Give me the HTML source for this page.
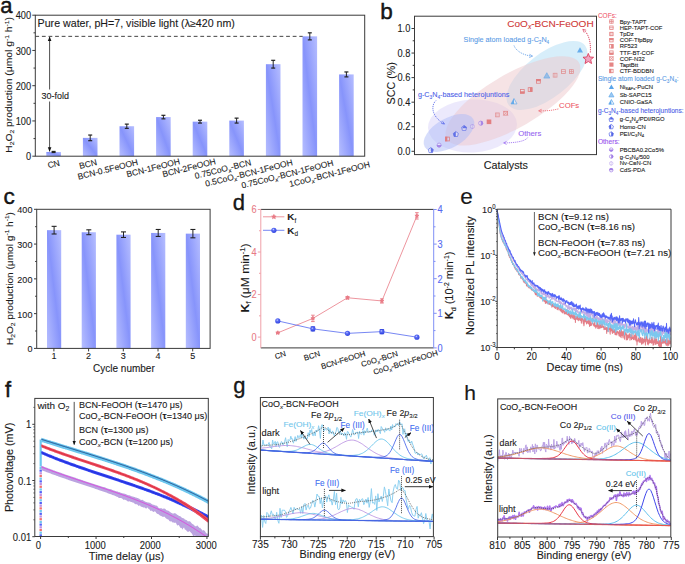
<!DOCTYPE html><html><head><meta charset="utf-8"><style>html,body{margin:0;padding:0;background:#fff;overflow:hidden}svg{display:block}</style></head><body><svg width="685" height="564" viewBox="0 0 685 564" font-family='"Liberation Sans", sans-serif'><rect width="685" height="564" fill="#fff"/><defs><linearGradient id="bar" x1="1" y1="0" x2="0" y2="1"><stop offset="0" stop-color="#b6beff"/><stop offset="0.5" stop-color="#8794fb"/><stop offset="1" stop-color="#b6beff"/></linearGradient><marker id="ah" viewBox="0 0 10 10" refX="9" refY="5" markerWidth="5" markerHeight="5" orient="auto-start-reverse"><path d="M0 1 L10 5 L0 9 z" fill="#222"/></marker><marker id="ah2" viewBox="0 0 10 10" refX="9" refY="5" markerWidth="4.5" markerHeight="4.5" markerUnits="userSpaceOnUse" orient="auto-start-reverse"><path d="M0 1 L10 5 L0 9 z" fill="#111"/></marker></defs><rect x="46.3" y="151.97" width="14.6" height="4.23" fill="url(#bar)" stroke="none" stroke-width="1"/><line x1="53.6" y1="151.441" x2="53.6" y2="152.499" stroke="#222" stroke-width="1"/><line x1="51.6" y1="151.441" x2="55.6" y2="151.441" stroke="#222" stroke-width="1.2"/><line x1="51.6" y1="152.499" x2="55.6" y2="152.499" stroke="#222" stroke-width="1.2"/><rect x="82.9" y="137.87" width="14.6" height="18.33" fill="url(#bar)" stroke="none" stroke-width="1"/><line x1="90.2" y1="135.05" x2="90.2" y2="140.69" stroke="#222" stroke-width="1"/><line x1="88.2" y1="135.05" x2="92.2" y2="135.05" stroke="#222" stroke-width="1.2"/><line x1="88.2" y1="140.69" x2="92.2" y2="140.69" stroke="#222" stroke-width="1.2"/><rect x="119.5" y="126.237" width="14.6" height="29.963" fill="url(#bar)" stroke="none" stroke-width="1"/><line x1="126.8" y1="124.122" x2="126.8" y2="128.352" stroke="#222" stroke-width="1"/><line x1="124.8" y1="124.122" x2="128.8" y2="124.122" stroke="#222" stroke-width="1.2"/><line x1="124.8" y1="128.352" x2="128.8" y2="128.352" stroke="#222" stroke-width="1.2"/><rect x="156.1" y="117.072" width="14.6" height="39.127" fill="url(#bar)" stroke="none" stroke-width="1"/><line x1="163.4" y1="115.31" x2="163.4" y2="118.835" stroke="#222" stroke-width="1"/><line x1="161.4" y1="115.31" x2="165.4" y2="115.31" stroke="#222" stroke-width="1.2"/><line x1="161.4" y1="118.835" x2="165.4" y2="118.835" stroke="#222" stroke-width="1.2"/><rect x="192.7" y="121.655" width="14.6" height="34.545" fill="url(#bar)" stroke="none" stroke-width="1"/><line x1="200" y1="120.245" x2="200" y2="123.065" stroke="#222" stroke-width="1"/><line x1="198" y1="120.245" x2="202" y2="120.245" stroke="#222" stroke-width="1.2"/><line x1="198" y1="123.065" x2="202" y2="123.065" stroke="#222" stroke-width="1.2"/><rect x="229.3" y="120.597" width="14.6" height="35.602" fill="url(#bar)" stroke="none" stroke-width="1"/><line x1="236.6" y1="118.13" x2="236.6" y2="123.065" stroke="#222" stroke-width="1"/><line x1="234.6" y1="118.13" x2="238.6" y2="118.13" stroke="#222" stroke-width="1.2"/><line x1="234.6" y1="123.065" x2="238.6" y2="123.065" stroke="#222" stroke-width="1.2"/><rect x="265.9" y="64.197" width="14.6" height="92.002" fill="url(#bar)" stroke="none" stroke-width="1"/><line x1="273.2" y1="60.32" x2="273.2" y2="68.075" stroke="#222" stroke-width="1"/><line x1="271.2" y1="60.32" x2="275.2" y2="60.32" stroke="#222" stroke-width="1.2"/><line x1="271.2" y1="68.075" x2="275.2" y2="68.075" stroke="#222" stroke-width="1.2"/><rect x="302.5" y="36.35" width="14.6" height="119.85" fill="url(#bar)" stroke="none" stroke-width="1"/><line x1="309.8" y1="32.825" x2="309.8" y2="39.875" stroke="#222" stroke-width="1"/><line x1="307.8" y1="32.825" x2="311.8" y2="32.825" stroke="#222" stroke-width="1.2"/><line x1="307.8" y1="39.875" x2="311.8" y2="39.875" stroke="#222" stroke-width="1.2"/><rect x="339.1" y="74.42" width="14.6" height="81.78" fill="url(#bar)" stroke="none" stroke-width="1"/><line x1="346.4" y1="71.952" x2="346.4" y2="76.887" stroke="#222" stroke-width="1"/><line x1="344.4" y1="71.952" x2="348.4" y2="71.952" stroke="#222" stroke-width="1.2"/><line x1="344.4" y1="76.887" x2="348.4" y2="76.887" stroke="#222" stroke-width="1.2"/><rect x="35.3" y="15.2" width="329.4" height="141" fill="none" stroke="#3a3a3a" stroke-width="1"/><line x1="32.3" y1="156.2" x2="35.3" y2="156.2" stroke="#3a3a3a" stroke-width="1"/><text font-size="10.3" text-anchor="end" fill="#1a1a1a" transform="translate(31.1 160.423) scale(0.9 1)" stroke="#1a1a1a" stroke-width="0.1">0</text><line x1="32.3" y1="120.95" x2="35.3" y2="120.95" stroke="#3a3a3a" stroke-width="1"/><text font-size="10.3" text-anchor="end" fill="#1a1a1a" transform="translate(31.1 125.173) scale(0.9 1)" stroke="#1a1a1a" stroke-width="0.1">100</text><line x1="32.3" y1="85.7" x2="35.3" y2="85.7" stroke="#3a3a3a" stroke-width="1"/><text font-size="10.3" text-anchor="end" fill="#1a1a1a" transform="translate(31.1 89.923) scale(0.9 1)" stroke="#1a1a1a" stroke-width="0.1">200</text><line x1="32.3" y1="50.45" x2="35.3" y2="50.45" stroke="#3a3a3a" stroke-width="1"/><text font-size="10.3" text-anchor="end" fill="#1a1a1a" transform="translate(31.1 54.673) scale(0.9 1)" stroke="#1a1a1a" stroke-width="0.1">300</text><line x1="32.3" y1="15.2" x2="35.3" y2="15.2" stroke="#3a3a3a" stroke-width="1"/><text font-size="10.3" text-anchor="end" fill="#1a1a1a" transform="translate(31.1 19.423) scale(0.9 1)" stroke="#1a1a1a" stroke-width="0.1">400</text><line x1="33.5" y1="138.575" x2="35.3" y2="138.575" stroke="#3a3a3a" stroke-width="1"/><line x1="33.5" y1="103.325" x2="35.3" y2="103.325" stroke="#3a3a3a" stroke-width="1"/><line x1="33.5" y1="68.075" x2="35.3" y2="68.075" stroke="#3a3a3a" stroke-width="1"/><line x1="33.5" y1="32.825" x2="35.3" y2="32.825" stroke="#3a3a3a" stroke-width="1"/><line x1="35.3" y1="36.35" x2="302.7" y2="36.35" stroke="#444" stroke-width="1" stroke-dasharray="3.8 2.8"/><line x1="49.6" y1="36.95" x2="49.6" y2="151.37" stroke="#222" stroke-width="0.8" marker-start="url(#ah2)" marker-end="url(#ah2)"/><text font-size="10" text-anchor="start" fill="#1a1a1a" transform="translate(37.6 26.6) scale(1.065 1)" stroke="#1a1a1a" stroke-width="0.1">Pure water, pH=7, visible light (&#955;&#8805;420 nm)</text><rect x="40.5" y="89.5" width="29" height="12" fill="#fff" stroke="none" stroke-width="1"/><text font-size="8.8" text-anchor="start" fill="#1a1a1a" transform="translate(41.6 98.7) scale(1.02 1)" stroke="#1a1a1a" stroke-width="0.1">30-fold</text><text font-size="8.5" text-anchor="end" fill="#1a1a1a" transform="translate(60.3 165.4) rotate(-14)" stroke="#1a1a1a" stroke-width="0.1">CN</text><text font-size="8.5" text-anchor="end" fill="#1a1a1a" transform="translate(97.5 164.7) rotate(-14)" stroke="#1a1a1a" stroke-width="0.1">BCN</text><text font-size="8.5" text-anchor="end" fill="#1a1a1a" transform="translate(138.5 164.7) rotate(-14)" stroke="#1a1a1a" stroke-width="0.1">BCN-0.5FeOOH</text><text font-size="8.5" text-anchor="end" fill="#1a1a1a" transform="translate(180.5 164) rotate(-14)" stroke="#1a1a1a" stroke-width="0.1">BCN-1FeOOH</text><text font-size="8.5" text-anchor="end" fill="#1a1a1a" transform="translate(216.3 163.9) rotate(-14)" stroke="#1a1a1a" stroke-width="0.1">BCN-2FeOOH</text><text font-size="8.5" text-anchor="end" fill="#1a1a1a" transform="translate(251.6 165) rotate(-14)" stroke="#1a1a1a" stroke-width="0.1">0.75CoO<tspan font-size="6" dy="2" font-style="italic">x</tspan><tspan dy="-2">-BCN</tspan></text><text font-size="8.5" text-anchor="end" fill="#1a1a1a" transform="translate(293.2 165) rotate(-14)" stroke="#1a1a1a" stroke-width="0.1">0.5CoO<tspan font-size="6" dy="2" font-style="italic">x</tspan><tspan dy="-2">-BCN-1FeOOH</tspan></text><text font-size="8.5" text-anchor="end" fill="#1a1a1a" transform="translate(334 165.5) rotate(-14)" stroke="#1a1a1a" stroke-width="0.1">0.75CoO<tspan font-size="6" dy="2" font-style="italic">x</tspan><tspan dy="-2">-BCN-1FeOOH</tspan></text><text font-size="8.5" text-anchor="end" fill="#1a1a1a" transform="translate(370.5 167) rotate(-14)" stroke="#1a1a1a" stroke-width="0.1">1CoO<tspan font-size="6" dy="2" font-style="italic">x</tspan><tspan dy="-2">-BCN-1FeOOH</tspan></text><text font-size="9.5" text-anchor="middle" fill="#1a1a1a" transform="translate(12.2 84.9) rotate(-90) scale(1.09 1)" stroke="#1a1a1a" stroke-width="0.1">H<tspan font-size="6.175" dy="2">2</tspan><tspan dy="-2">O</tspan><tspan font-size="6.175" dy="2">2</tspan><tspan dy="-2"> production (&#956;mol g</tspan><tspan font-size="6.175" dy="-3.5">-1</tspan><tspan dy="3.5"> h</tspan><tspan font-size="6.175" dy="-3.5">-1</tspan><tspan dy="3.5">)</tspan></text><text x="0.3" y="12.8" font-size="22" text-anchor="start" fill="#1a1a1a" stroke="#000" stroke-width="0.4">a</text><ellipse cx="472.5" cy="126" rx="44.5" ry="26.5" fill="#d9d3f9" fill-opacity="0.5" transform="rotate(-3 472.5 126)"/><ellipse cx="547" cy="75.5" rx="48.5" ry="22" fill="#afddf5" fill-opacity="0.5" transform="rotate(-38 547 75.5)"/><ellipse cx="513" cy="100.8" rx="76.3" ry="26.7" fill="#edc8cc" fill-opacity="0.5" transform="rotate(-30 513 100.8)"/><ellipse cx="449" cy="133" rx="28" ry="14.7" fill="#aebbf8" fill-opacity="0.5" transform="rotate(-30 449 133)"/><rect x="414.5" y="16.2" width="182" height="138.4" fill="none" stroke="#3a3a3a" stroke-width="1"/><line x1="411.5" y1="151.3" x2="414.5" y2="151.3" stroke="#3a3a3a" stroke-width="1"/><text font-size="10.3" text-anchor="end" fill="#1a1a1a" transform="translate(410.3 154.905) scale(0.9 1)" stroke="#1a1a1a" stroke-width="0.1">0.0</text><line x1="411.5" y1="126.74" x2="414.5" y2="126.74" stroke="#3a3a3a" stroke-width="1"/><text font-size="10.3" text-anchor="end" fill="#1a1a1a" transform="translate(410.3 130.345) scale(0.9 1)" stroke="#1a1a1a" stroke-width="0.1">0.2</text><line x1="411.5" y1="102.18" x2="414.5" y2="102.18" stroke="#3a3a3a" stroke-width="1"/><text font-size="10.3" text-anchor="end" fill="#1a1a1a" transform="translate(410.3 105.785) scale(0.9 1)" stroke="#1a1a1a" stroke-width="0.1">0.4</text><line x1="411.5" y1="77.62" x2="414.5" y2="77.62" stroke="#3a3a3a" stroke-width="1"/><text font-size="10.3" text-anchor="end" fill="#1a1a1a" transform="translate(410.3 81.225) scale(0.9 1)" stroke="#1a1a1a" stroke-width="0.1">0.6</text><line x1="411.5" y1="53.06" x2="414.5" y2="53.06" stroke="#3a3a3a" stroke-width="1"/><text font-size="10.3" text-anchor="end" fill="#1a1a1a" transform="translate(410.3 56.665) scale(0.9 1)" stroke="#1a1a1a" stroke-width="0.1">0.8</text><line x1="411.5" y1="28.5" x2="414.5" y2="28.5" stroke="#3a3a3a" stroke-width="1"/><text font-size="10.3" text-anchor="end" fill="#1a1a1a" transform="translate(410.3 32.105) scale(0.9 1)" stroke="#1a1a1a" stroke-width="0.1">1.0</text><line x1="412.7" y1="139.02" x2="414.5" y2="139.02" stroke="#3a3a3a" stroke-width="1"/><line x1="412.7" y1="114.46" x2="414.5" y2="114.46" stroke="#3a3a3a" stroke-width="1"/><line x1="412.7" y1="89.9" x2="414.5" y2="89.9" stroke="#3a3a3a" stroke-width="1"/><line x1="412.7" y1="65.34" x2="414.5" y2="65.34" stroke="#3a3a3a" stroke-width="1"/><line x1="412.7" y1="40.78" x2="414.5" y2="40.78" stroke="#3a3a3a" stroke-width="1"/><text font-size="10" text-anchor="middle" fill="#1a1a1a" transform="translate(505.8 168.7) scale(1.08 1)" stroke="#1a1a1a" stroke-width="0.1">Catalysts</text><text font-size="10.7" text-anchor="middle" fill="#1a1a1a" transform="translate(394.5 83.3) rotate(-90)" stroke="#1a1a1a" stroke-width="0.1">SCC (%)</text><text x="380.2" y="19.3" font-size="22.5" text-anchor="start" fill="#1a1a1a" stroke="#000" stroke-width="0.4">b</text><path d="M430.8 147.6L433.3 149.475L432.55 152.6L429.05 152.6L428.3 149.475Z" fill="#fff" fill-opacity="0.4" stroke="#5466e6" stroke-width="0.7" opacity="0.9"/><path d="M430.8 147.6L433.3 149.475L432.55 152.6L430.8 152.6Z" fill="#5466e6" opacity="0.9"/><circle cx="439.1" cy="145.1" r="2.05" fill="#fff" fill-opacity="0.4" stroke="#a27fe6" stroke-width="0.7" opacity="0.9"/><path d="M436.7 145.1A2.4 2.4 0 0 0 441.5 145.1Z" fill="#a27fe6" opacity="0.9"/><g opacity="0.85"><rect x="445.5" y="137.1" width="3.8" height="3.8" fill="#fff" fill-opacity="0.3" stroke="#e07070" stroke-width="0.8"/><rect x="445.1" y="136.7" width="2.3" height="4.6" fill="#e07070"/></g><path d="M455.8 131.5L458.3 133.375L457.55 136.5L454.05 136.5L453.3 133.375Z" fill="#fff" fill-opacity="0.4" stroke="#5466e6" stroke-width="0.7" opacity="0.9"/><path d="M455.8 131.5L453.3 133.375L454.05 136.5L455.8 136.5Z" fill="#5466e6" opacity="0.9"/><path d="M464.1 125.4L466.6 127.275L465.85 130.4L462.35 130.4L461.6 127.275Z" fill="#fff" fill-opacity="0.4" stroke="#5466e6" stroke-width="0.7" opacity="0.9"/><path d="M464.1 125.4L466.6 127.275L466.225 128.2L461.975 128.2Z" fill="#5466e6" opacity="0.9"/><circle cx="472.4" cy="126.5" r="2.05" fill="#fff" fill-opacity="0.4" stroke="#a27fe6" stroke-width="0.7" opacity="0.6"/><path d="M472.4 124.1V128.9" stroke="#a27fe6" stroke-width="0.5" opacity="0.6"/><circle cx="480.7" cy="123.2" r="2.05" fill="#fff" fill-opacity="0.4" stroke="#a27fe6" stroke-width="0.7" opacity="0.9"/><path d="M480.7 120.8A2.4 2.4 0 0 1 480.7 125.6Z" fill="#a27fe6" opacity="0.9"/><g opacity="0.85"><rect x="486.7" y="119.5" width="4.6" height="4.6" fill="#e07070"/></g><g opacity="0.6"><rect x="495.5" y="113" width="3.8" height="3.8" fill="#fff" fill-opacity="0.3" stroke="#e07070" stroke-width="0.8"/><path d="M496.7 112.6V117.2M498.1 112.6V117.2" stroke="#e07070" stroke-width="0.6"/></g><g opacity="0.8"><rect x="503.8" y="111.3" width="3.8" height="3.8" fill="#fff" fill-opacity="0.3" stroke="#e07070" stroke-width="0.8"/><path d="M503.4 110.9L508 115.5M503.4 115.5L508 110.9" stroke="#e07070" stroke-width="0.6"/></g><polygon points="514,98.5 517,103.9 511,103.9" fill="#fff" fill-opacity="0.4" stroke="#5aa5ea" stroke-width="0.7" opacity="0.9"/><polygon points="514,98.5 514,103.9 511,103.9" fill="#5aa5ea" opacity="0.9"/><g opacity="0.85"><rect x="520.4" y="89.4" width="3.8" height="3.8" fill="#fff" fill-opacity="0.3" stroke="#e07070" stroke-width="0.8"/><rect x="520" y="91.3" width="4.6" height="2.3" fill="#e07070"/></g><g opacity="0.85"><rect x="528.2" y="87.7" width="3.8" height="3.8" fill="#fff" fill-opacity="0.3" stroke="#e07070" stroke-width="0.8"/><rect x="529.8" y="87.3" width="2.6" height="4.6" fill="#e07070"/></g><g opacity="0.85"><rect x="536.5" y="79.4" width="3.8" height="3.8" fill="#fff" fill-opacity="0.3" stroke="#e07070" stroke-width="0.8"/><rect x="536.1" y="79" width="4.6" height="2.3" fill="#e07070"/></g><polygon points="546.8,72.7 549.8,78.1 543.8,78.1" fill="#5aa5ea" fill-opacity="0.6" stroke="#5aa5ea" stroke-width="0.6" opacity="0.9"/><g opacity="0.6"><rect x="553.2" y="73.3" width="3.8" height="3.8" fill="#fff" fill-opacity="0.3" stroke="#e07070" stroke-width="0.8"/><path d="M554.4 72.9V77.5M555.8 72.9V77.5" stroke="#e07070" stroke-width="0.6"/></g><g opacity="0.7"><rect x="561.5" y="69.7" width="3.8" height="3.8" fill="#fff" fill-opacity="0.3" stroke="#e07070" stroke-width="0.8"/><path d="M561.1 71.6H565.7" stroke="#e07070" stroke-width="0.7"/></g><g opacity="0.7"><rect x="569.5" y="69.7" width="3.8" height="3.8" fill="#fff" fill-opacity="0.3" stroke="#e07070" stroke-width="0.8"/><path d="M569.1 71.6H573.7M571.4 69.3V73.9" stroke="#e07070" stroke-width="0.7"/></g><polygon points="580,47.2 583,52.6 577,52.6" fill="#5aa5ea" opacity="0.9"/><polygon points="588.3,53.4 589.769,56.977 593.626,57.27 590.678,59.773 591.592,63.53 588.3,61.5 585.008,63.53 585.922,59.773 582.974,57.27 586.831,56.977" fill="#f0a4c0" stroke="#d83050" stroke-width="0.8"/><text font-size="9.8" text-anchor="start" fill="#d03838" transform="translate(507.3 26.7) scale(1.025 1)" stroke="#d03838" stroke-width="0.1">CoO<tspan font-size="6.5" dy="2.2" font-style="italic">x</tspan><tspan dy="-2.2">-BCN-FeOOH</tspan></text><path d="M590.3 52.5 C591 43, 589 35, 584.5 30.5" stroke="#d83050" fill="none" stroke-width="0.9" stroke-dasharray="1.2 0.9"/><path d="M586.2 30.2 L582.8 29.3 L584.2 32.6" stroke="#d83050" fill="none" stroke-width="0.7"/><text font-size="8.1" text-anchor="start" fill="#5a9be6" transform="translate(463.6 42.4) scale(0.89 1)" stroke="#5a9be6" stroke-width="0.1">Single atom loaded g-C<tspan font-size="5.2" dy="1.8">3</tspan><tspan dy="-1.8">N</tspan><tspan font-size="5.2" dy="1.8">4</tspan><tspan dy="-1.8"></tspan></text><path d="M514 45.5 C516 51, 523 55, 531 56" stroke="#5a9be6" fill="none" stroke-width="0.8" stroke-dasharray="1.2 0.9"/><path d="M529.5 54.3 L532.6 56.1 L529.2 57.5" stroke="#5a9be6" fill="none" stroke-width="0.7"/><text font-size="7.5" text-anchor="start" fill="#4e5fe8" transform="translate(417.9 97) scale(0.96 1)" stroke="#4e5fe8" stroke-width="0.1">g-C<tspan font-size="5" dy="1.8">3</tspan><tspan dy="-1.8">N</tspan><tspan font-size="5" dy="1.8">4</tspan><tspan dy="-1.8">-based heterojuntions</tspan></text><path d="M436 100.5 C431 105, 431 116, 443.5 123.5" stroke="#4e5fe8" fill="none" stroke-width="0.8" stroke-dasharray="1.2 0.9"/><path d="M441.3 123.4 L444.6 124.1 L442.6 121.3" stroke="#4e5fe8" fill="none" stroke-width="0.7"/><text x="559.1" y="107.8" font-size="7.7" text-anchor="start" fill="#ee5a66" stroke="#ee5a66" stroke-width="0.1">COFs</text><path d="M558.4 108.9 C552 110.5, 546 111, 539.5 110.8" stroke="#ee5a66" fill="none" stroke-width="0.8" stroke-dasharray="1.2 0.9"/><path d="M541.6 109.3 L538.6 110.8 L541.6 112.3" stroke="#ee5a66" fill="none" stroke-width="0.7"/><text x="518.2" y="135.6" font-size="7.7" text-anchor="start" fill="#9664f0" stroke="#9664f0" stroke-width="0.1">Others</text><path d="M527.7 137.6 C525 141.5, 515 142.8, 504.5 142.9" stroke="#9664f0" fill="none" stroke-width="0.8" stroke-dasharray="1.2 0.9"/><path d="M506.6 141.4 L503.6 142.9 L506.6 144.4" stroke="#9664f0" fill="none" stroke-width="0.7"/><text font-size="6.8" text-anchor="start" fill="#f06070" transform="translate(597.9 17.9) scale(0.96 1)" stroke="#f06070" stroke-width="0.1">COFs:</text><g opacity="0.85"><rect x="609.7" y="19.8" width="3.4" height="3.4" fill="#fff" fill-opacity="0.3" stroke="#e07070" stroke-width="0.8"/><path d="M609.3 21.5H613.5M611.4 19.4V23.6" stroke="#e07070" stroke-width="0.7"/></g><text x="619.7" y="23.5" font-size="5.9" text-anchor="start" fill="#1a1a1a" stroke="#1a1a1a" stroke-width="0.1">Bpy-TAPT</text><g opacity="0.85"><rect x="609.7" y="26" width="3.4" height="3.4" fill="#fff" fill-opacity="0.3" stroke="#e07070" stroke-width="0.8"/><path d="M609.3 27.7H613.5" stroke="#e07070" stroke-width="0.7"/></g><text x="619.7" y="29.7" font-size="5.9" text-anchor="start" fill="#1a1a1a" stroke="#1a1a1a" stroke-width="0.1">HEP-TAPT-COF</text><g opacity="0.85"><rect x="609.7" y="32.3" width="3.4" height="3.4" fill="#fff" fill-opacity="0.3" stroke="#e07070" stroke-width="0.8"/><path d="M610.7 31.9V36.1M612.1 31.9V36.1" stroke="#e07070" stroke-width="0.6"/></g><text x="619.7" y="36" font-size="5.9" text-anchor="start" fill="#1a1a1a" stroke="#1a1a1a" stroke-width="0.1">TpDz</text><g opacity="0.85"><rect x="609.7" y="38.5" width="3.4" height="3.4" fill="#fff" fill-opacity="0.3" stroke="#e07070" stroke-width="0.8"/><rect x="609.3" y="38.1" width="4.2" height="2.1" fill="#e07070"/></g><text x="619.7" y="42.2" font-size="5.9" text-anchor="start" fill="#1a1a1a" stroke="#1a1a1a" stroke-width="0.1">COF-TfpBpy</text><g opacity="0.85"><rect x="609.7" y="44.6" width="3.4" height="3.4" fill="#fff" fill-opacity="0.3" stroke="#e07070" stroke-width="0.8"/><rect x="611.1" y="44.2" width="2.4" height="4.2" fill="#e07070"/></g><text x="619.7" y="48.3" font-size="5.9" text-anchor="start" fill="#1a1a1a" stroke="#1a1a1a" stroke-width="0.1">RF523</text><g opacity="0.85"><rect x="609.7" y="50.9" width="3.4" height="3.4" fill="#fff" fill-opacity="0.3" stroke="#e07070" stroke-width="0.8"/><rect x="609.3" y="52.6" width="4.2" height="2.1" fill="#e07070"/></g><text x="619.7" y="54.6" font-size="5.9" text-anchor="start" fill="#1a1a1a" stroke="#1a1a1a" stroke-width="0.1">TTF-BT-COF</text><g opacity="0.85"><rect x="609.7" y="56.8" width="3.4" height="3.4" fill="#fff" fill-opacity="0.3" stroke="#e07070" stroke-width="0.8"/><path d="M609.3 56.4L613.5 60.6M609.3 60.6L613.5 56.4" stroke="#e07070" stroke-width="0.6"/></g><text x="619.7" y="60.5" font-size="5.9" text-anchor="start" fill="#1a1a1a" stroke="#1a1a1a" stroke-width="0.1">COF-N32</text><g opacity="0.85"><rect x="609.3" y="62.5" width="4.2" height="4.2" fill="#e07070"/></g><text x="619.7" y="66.6" font-size="5.9" text-anchor="start" fill="#1a1a1a" stroke="#1a1a1a" stroke-width="0.1">TaptBtt</text><g opacity="0.85"><rect x="609.7" y="69.3" width="3.4" height="3.4" fill="#fff" fill-opacity="0.3" stroke="#e07070" stroke-width="0.8"/><rect x="609.3" y="68.9" width="2.1" height="4.2" fill="#e07070"/></g><text x="619.7" y="73" font-size="5.9" text-anchor="start" fill="#1a1a1a" stroke="#1a1a1a" stroke-width="0.1">CTF-BDDBN</text><text x="597.9" y="81.1" font-size="6.6" text-anchor="start" fill="#5a9be6" stroke="#5a9be6" stroke-width="0.1">Single atom loaded g-C<tspan font-size="4.6" dy="1.6">3</tspan><tspan dy="-1.6">N</tspan><tspan font-size="4.6" dy="1.6">4</tspan><tspan dy="-1.6">:</tspan></text><polygon points="611.4,84.4 614,89.08 608.8,89.08" fill="#5aa5ea" opacity="1"/><text x="619.7" y="89" font-size="5.9" text-anchor="start" fill="#1a1a1a" stroke="#1a1a1a" stroke-width="0.1">Ni<tspan font-size="4" dy="1.4">SAPs</tspan><tspan dy="-1.4">-PuCN</tspan></text><polygon points="611.4,92.3 614,96.98 608.8,96.98" fill="#5aa5ea" fill-opacity="0.6" stroke="#5aa5ea" stroke-width="0.6" opacity="1"/><text x="619.7" y="96.9" font-size="5.9" text-anchor="start" fill="#1a1a1a" stroke="#1a1a1a" stroke-width="0.1">Sb-SAPC15</text><polygon points="611.4,99.5 614,104.18 608.8,104.18" fill="#fff" fill-opacity="0.4" stroke="#5aa5ea" stroke-width="0.7" opacity="1"/><polygon points="611.4,99.5 611.4,104.18 608.8,104.18" fill="#5aa5ea" opacity="1"/><text x="619.7" y="104.1" font-size="5.9" text-anchor="start" fill="#1a1a1a" stroke="#1a1a1a" stroke-width="0.1">CNIO-GaSA</text><text x="597.9" y="113.3" font-size="6.6" text-anchor="start" fill="#4e5fe8" stroke="#4e5fe8" stroke-width="0.1">g-C<tspan font-size="4.6" dy="1.6">3</tspan><tspan dy="-1.6">N</tspan><tspan font-size="4.6" dy="1.6">4</tspan><tspan dy="-1.6">-based heterojuntions:</tspan></text><path d="M611.2 117.1L613.4 118.75L612.74 121.5L609.66 121.5L609 118.75Z" fill="#fff" fill-opacity="0.4" stroke="#5466e6" stroke-width="0.7" opacity="1"/><path d="M611.2 117.1L613.4 118.75L613.07 119.6L609.33 119.6Z" fill="#5466e6" opacity="1"/><text x="619.7" y="121.3" font-size="5.9" text-anchor="start" fill="#1a1a1a" stroke="#1a1a1a" stroke-width="0.1">g-C<tspan font-size="4.2" dy="1.4">3</tspan><tspan dy="-1.4">N</tspan><tspan font-size="4.2" dy="1.4">4</tspan><tspan dy="-1.4">/PDI/RGO</tspan></text><path d="M611.2 124.4L613.4 126.05L612.74 128.8L609.66 128.8L609 126.05Z" fill="#fff" fill-opacity="0.4" stroke="#5466e6" stroke-width="0.7" opacity="1"/><path d="M611.2 124.4L609 126.05L609.66 128.8L611.2 128.8Z" fill="#5466e6" opacity="1"/><text x="619.7" y="128.6" font-size="5.9" text-anchor="start" fill="#1a1a1a" stroke="#1a1a1a" stroke-width="0.1">Homo-CN</text><path d="M611.2 131.7L613.4 133.35L612.74 136.1L609.66 136.1L609 133.35Z" fill="#fff" fill-opacity="0.4" stroke="#5466e6" stroke-width="0.7" opacity="1"/><path d="M611.2 131.7L613.4 133.35L612.74 136.1L611.2 136.1Z" fill="#5466e6" opacity="1"/><text x="619.7" y="135.9" font-size="5.9" text-anchor="start" fill="#1a1a1a" stroke="#1a1a1a" stroke-width="0.1">PEI/C<tspan font-size="4.2" dy="1.4">3</tspan><tspan dy="-1.4">N</tspan><tspan font-size="4.2" dy="1.4">4</tspan></text><text x="597.9" y="144.3" font-size="6.6" text-anchor="start" fill="#9650ee" stroke="#9650ee" stroke-width="0.1">Others:</text><circle cx="611.2" cy="149.6" r="1.75" fill="#fff" fill-opacity="0.4" stroke="#a27fe6" stroke-width="0.7" opacity="1"/><path d="M609.1 149.6A2.1 2.1 0 0 0 613.3 149.6Z" fill="#a27fe6" opacity="1"/><text x="619.7" y="151.6" font-size="5.9" text-anchor="start" fill="#1a1a1a" stroke="#1a1a1a" stroke-width="0.1">PBCBA0.2Co5%</text><circle cx="611.2" cy="156.5" r="1.75" fill="#fff" fill-opacity="0.4" stroke="#a27fe6" stroke-width="0.7" opacity="1"/><path d="M611.2 154.4A2.1 2.1 0 0 1 611.2 158.6Z" fill="#a27fe6" opacity="1"/><text x="619.7" y="158.5" font-size="5.9" text-anchor="start" fill="#1a1a1a" stroke="#1a1a1a" stroke-width="0.1">g-C<tspan font-size="4.2" dy="1.4">3</tspan><tspan dy="-1.4">N</tspan><tspan font-size="4.2" dy="1.4">4</tspan><tspan dy="-1.4">/500</tspan></text><circle cx="611.2" cy="163.4" r="1.75" fill="#fff" fill-opacity="0.4" stroke="#a27fe6" stroke-width="0.7" opacity="0.6"/><path d="M611.2 161.3V165.5" stroke="#a27fe6" stroke-width="0.5" opacity="0.6"/><text x="619.7" y="165.4" font-size="5.9" text-anchor="start" fill="#1a1a1a" stroke="#1a1a1a" stroke-width="0.1">Nv-C&#8801;N-CN</text><circle cx="611.2" cy="170.2" r="1.75" fill="#fff" fill-opacity="0.4" stroke="#a27fe6" stroke-width="0.7" opacity="1"/><path d="M609.1 170.2A2.1 2.1 0 0 1 613.3 170.2Z" fill="#a27fe6" opacity="1"/><text x="619.7" y="172.2" font-size="5.9" text-anchor="start" fill="#1a1a1a" stroke="#1a1a1a" stroke-width="0.1">CdS-PDA</text><rect x="47" y="230.165" width="14.2" height="118.235" fill="url(#bar)" stroke="none" stroke-width="1"/><line x1="54.1" y1="226.34" x2="54.1" y2="233.99" stroke="#222" stroke-width="1"/><line x1="51.6" y1="226.34" x2="56.6" y2="226.34" stroke="#222" stroke-width="1.1"/><line x1="51.6" y1="233.99" x2="56.6" y2="233.99" stroke="#222" stroke-width="1.1"/><rect x="81.7" y="232.251" width="14.2" height="116.149" fill="url(#bar)" stroke="none" stroke-width="1"/><line x1="88.8" y1="229.817" x2="88.8" y2="234.686" stroke="#222" stroke-width="1"/><line x1="86.3" y1="229.817" x2="91.3" y2="229.817" stroke="#222" stroke-width="1.1"/><line x1="86.3" y1="234.686" x2="91.3" y2="234.686" stroke="#222" stroke-width="1.1"/><rect x="116.4" y="234.686" width="14.2" height="113.714" fill="url(#bar)" stroke="none" stroke-width="1"/><line x1="123.5" y1="231.904" x2="123.5" y2="237.468" stroke="#222" stroke-width="1"/><line x1="121" y1="231.904" x2="126" y2="231.904" stroke="#222" stroke-width="1.1"/><line x1="121" y1="237.468" x2="126" y2="237.468" stroke="#222" stroke-width="1.1"/><rect x="151.1" y="232.947" width="14.2" height="115.453" fill="url(#bar)" stroke="none" stroke-width="1"/><line x1="158.2" y1="229.469" x2="158.2" y2="236.424" stroke="#222" stroke-width="1"/><line x1="155.7" y1="229.469" x2="160.7" y2="229.469" stroke="#222" stroke-width="1.1"/><line x1="155.7" y1="236.424" x2="160.7" y2="236.424" stroke="#222" stroke-width="1.1"/><rect x="185.8" y="233.642" width="14.2" height="114.757" fill="url(#bar)" stroke="none" stroke-width="1"/><line x1="192.9" y1="229.469" x2="192.9" y2="237.815" stroke="#222" stroke-width="1"/><line x1="190.4" y1="229.469" x2="195.4" y2="229.469" stroke="#222" stroke-width="1.1"/><line x1="190.4" y1="237.815" x2="195.4" y2="237.815" stroke="#222" stroke-width="1.1"/><rect x="36.7" y="209.3" width="173.4" height="139.1" fill="none" stroke="#3a3a3a" stroke-width="1"/><line x1="34" y1="348.4" x2="36.7" y2="348.4" stroke="#3a3a3a" stroke-width="1"/><text font-size="9.8" text-anchor="end" fill="#1a1a1a" transform="translate(32.4 352.32) scale(0.92 1)" stroke="#1a1a1a" stroke-width="0.1">0</text><line x1="34" y1="313.625" x2="36.7" y2="313.625" stroke="#3a3a3a" stroke-width="1"/><text font-size="9.8" text-anchor="end" fill="#1a1a1a" transform="translate(32.4 317.545) scale(0.92 1)" stroke="#1a1a1a" stroke-width="0.1">100</text><line x1="34" y1="278.85" x2="36.7" y2="278.85" stroke="#3a3a3a" stroke-width="1"/><text font-size="9.8" text-anchor="end" fill="#1a1a1a" transform="translate(32.4 282.77) scale(0.92 1)" stroke="#1a1a1a" stroke-width="0.1">200</text><line x1="34" y1="244.075" x2="36.7" y2="244.075" stroke="#3a3a3a" stroke-width="1"/><text font-size="9.8" text-anchor="end" fill="#1a1a1a" transform="translate(32.4 247.995) scale(0.92 1)" stroke="#1a1a1a" stroke-width="0.1">300</text><line x1="34" y1="209.3" x2="36.7" y2="209.3" stroke="#3a3a3a" stroke-width="1"/><text font-size="9.8" text-anchor="end" fill="#1a1a1a" transform="translate(32.4 213.22) scale(0.92 1)" stroke="#1a1a1a" stroke-width="0.1">400</text><line x1="35.08" y1="331.012" x2="36.7" y2="331.012" stroke="#3a3a3a" stroke-width="1"/><line x1="35.08" y1="296.237" x2="36.7" y2="296.237" stroke="#3a3a3a" stroke-width="1"/><line x1="35.08" y1="261.462" x2="36.7" y2="261.462" stroke="#3a3a3a" stroke-width="1"/><line x1="35.08" y1="226.687" x2="36.7" y2="226.687" stroke="#3a3a3a" stroke-width="1"/><line x1="53.9" y1="348.4" x2="53.9" y2="351.4" stroke="#3a3a3a" stroke-width="1"/><text x="53.9" y="359.2" font-size="9" text-anchor="middle" fill="#1a1a1a" stroke="#1a1a1a" stroke-width="0.1">1</text><line x1="88.6" y1="348.4" x2="88.6" y2="351.4" stroke="#3a3a3a" stroke-width="1"/><text x="88.6" y="359.2" font-size="9" text-anchor="middle" fill="#1a1a1a" stroke="#1a1a1a" stroke-width="0.1">2</text><line x1="123.3" y1="348.4" x2="123.3" y2="351.4" stroke="#3a3a3a" stroke-width="1"/><text x="123.3" y="359.2" font-size="9" text-anchor="middle" fill="#1a1a1a" stroke="#1a1a1a" stroke-width="0.1">3</text><line x1="158" y1="348.4" x2="158" y2="351.4" stroke="#3a3a3a" stroke-width="1"/><text x="158" y="359.2" font-size="9" text-anchor="middle" fill="#1a1a1a" stroke="#1a1a1a" stroke-width="0.1">4</text><line x1="192.7" y1="348.4" x2="192.7" y2="351.4" stroke="#3a3a3a" stroke-width="1"/><text x="192.7" y="359.2" font-size="9" text-anchor="middle" fill="#1a1a1a" stroke="#1a1a1a" stroke-width="0.1">5</text><text x="123.9" y="372" font-size="10" text-anchor="middle" fill="#1a1a1a" stroke="#1a1a1a" stroke-width="0.1">Cycle number</text><text font-size="9.3" text-anchor="middle" fill="#1a1a1a" transform="translate(12.8 278.5) rotate(-90) scale(1.09 1)" stroke="#1a1a1a" stroke-width="0.1">H<tspan font-size="6.045000000000001" dy="2">2</tspan><tspan dy="-2">O</tspan><tspan font-size="6.045000000000001" dy="2">2</tspan><tspan dy="-2"> production (&#956;mol g</tspan><tspan font-size="6.045000000000001" dy="-3.5">-1</tspan><tspan dy="3.5"> h</tspan><tspan font-size="6.045000000000001" dy="-3.5">-1</tspan><tspan dy="3.5">)</tspan></text><text x="3.4" y="204" font-size="22.5" text-anchor="start" fill="#1a1a1a" stroke="#000" stroke-width="0.4">c</text><defs><radialGradient id="sph" cx="0.4" cy="0.35" r="0.65"><stop offset="0" stop-color="#c8d0ff"/><stop offset="0.35" stop-color="#5a6cf4"/><stop offset="1" stop-color="#3346e0"/></radialGradient></defs><line x1="260.8" y1="209.4" x2="433.7" y2="209.4" stroke="#3a3a3a" stroke-width="1"/><line x1="260.8" y1="347.9" x2="433.7" y2="347.9" stroke="#3a3a3a" stroke-width="1"/><line x1="260.8" y1="209.4" x2="260.8" y2="347.9" stroke="#f0a0a8" stroke-width="1"/><line x1="433.7" y1="209.4" x2="433.7" y2="347.9" stroke="#8090f5" stroke-width="1"/><line x1="257.8" y1="337.1" x2="260.8" y2="337.1" stroke="#f0a0a8" stroke-width="1"/><text font-size="10" text-anchor="end" fill="#e87a85" transform="translate(256.6 340.9) scale(0.92 1)" stroke="#e87a85" stroke-width="0.1">0</text><line x1="257.8" y1="294.56" x2="260.8" y2="294.56" stroke="#f0a0a8" stroke-width="1"/><text font-size="10" text-anchor="end" fill="#e87a85" transform="translate(256.6 298.36) scale(0.92 1)" stroke="#e87a85" stroke-width="0.1">2</text><line x1="257.8" y1="252.02" x2="260.8" y2="252.02" stroke="#f0a0a8" stroke-width="1"/><text font-size="10" text-anchor="end" fill="#e87a85" transform="translate(256.6 255.82) scale(0.92 1)" stroke="#e87a85" stroke-width="0.1">4</text><line x1="257.8" y1="209.48" x2="260.8" y2="209.48" stroke="#f0a0a8" stroke-width="1"/><text font-size="10" text-anchor="end" fill="#e87a85" transform="translate(256.6 213.28) scale(0.92 1)" stroke="#e87a85" stroke-width="0.1">6</text><line x1="259" y1="315.83" x2="260.8" y2="315.83" stroke="#f0a0a8" stroke-width="1"/><line x1="259" y1="273.29" x2="260.8" y2="273.29" stroke="#f0a0a8" stroke-width="1"/><line x1="259" y1="230.75" x2="260.8" y2="230.75" stroke="#f0a0a8" stroke-width="1"/><line x1="433.7" y1="347.9" x2="436.7" y2="347.9" stroke="#8090f5" stroke-width="1"/><text font-size="10" text-anchor="start" fill="#5468f0" transform="translate(437.5 351.7) scale(0.92 1)" stroke="#5468f0" stroke-width="0.1">0</text><line x1="433.7" y1="313.3" x2="436.7" y2="313.3" stroke="#8090f5" stroke-width="1"/><text font-size="10" text-anchor="start" fill="#5468f0" transform="translate(437.5 317.1) scale(0.92 1)" stroke="#5468f0" stroke-width="0.1">1</text><line x1="433.7" y1="278.7" x2="436.7" y2="278.7" stroke="#8090f5" stroke-width="1"/><text font-size="10" text-anchor="start" fill="#5468f0" transform="translate(437.5 282.5) scale(0.92 1)" stroke="#5468f0" stroke-width="0.1">2</text><line x1="433.7" y1="244.1" x2="436.7" y2="244.1" stroke="#8090f5" stroke-width="1"/><text font-size="10" text-anchor="start" fill="#5468f0" transform="translate(437.5 247.9) scale(0.92 1)" stroke="#5468f0" stroke-width="0.1">3</text><line x1="433.7" y1="209.5" x2="436.7" y2="209.5" stroke="#8090f5" stroke-width="1"/><text font-size="10" text-anchor="start" fill="#5468f0" transform="translate(437.5 213.3) scale(0.92 1)" stroke="#5468f0" stroke-width="0.1">4</text><line x1="433.7" y1="330.6" x2="435.5" y2="330.6" stroke="#8090f5" stroke-width="1"/><line x1="433.7" y1="296" x2="435.5" y2="296" stroke="#8090f5" stroke-width="1"/><line x1="433.7" y1="261.4" x2="435.5" y2="261.4" stroke="#8090f5" stroke-width="1"/><line x1="433.7" y1="226.8" x2="435.5" y2="226.8" stroke="#8090f5" stroke-width="1"/><path d="M277.8 332.846 L312.9 318.382 L347.5 297.751 L381.9 300.941 L416.9 215.861" stroke="#e87a85" fill="none" stroke-width="0.8"/><line x1="277.8" y1="332.208" x2="277.8" y2="333.484" stroke="#e87a85" stroke-width="0.8"/><line x1="276" y1="332.208" x2="279.6" y2="332.208" stroke="#e87a85" stroke-width="0.9"/><line x1="276" y1="333.484" x2="279.6" y2="333.484" stroke="#e87a85" stroke-width="0.9"/><polygon points="277.8,330.746 278.329,332.118 279.797,332.197 278.656,333.124 279.034,334.545 277.8,333.746 276.566,334.545 276.944,333.124 275.803,332.197 277.271,332.118" fill="#e87a85" stroke="#e87a85" stroke-width="0.8"/><line x1="312.9" y1="315.192" x2="312.9" y2="321.573" stroke="#e87a85" stroke-width="0.8"/><line x1="311.1" y1="315.192" x2="314.7" y2="315.192" stroke="#e87a85" stroke-width="0.9"/><line x1="311.1" y1="321.573" x2="314.7" y2="321.573" stroke="#e87a85" stroke-width="0.9"/><polygon points="312.9,316.282 313.429,317.654 314.897,317.733 313.756,318.661 314.134,320.081 312.9,319.282 311.666,320.081 312.044,318.661 310.903,317.733 312.371,317.654" fill="#e87a85" stroke="#e87a85" stroke-width="0.8"/><line x1="347.5" y1="296.474" x2="347.5" y2="299.027" stroke="#e87a85" stroke-width="0.8"/><line x1="345.7" y1="296.474" x2="349.3" y2="296.474" stroke="#e87a85" stroke-width="0.9"/><line x1="345.7" y1="299.027" x2="349.3" y2="299.027" stroke="#e87a85" stroke-width="0.9"/><polygon points="347.5,295.651 348.029,297.022 349.497,297.102 348.356,298.029 348.734,299.449 347.5,298.651 346.266,299.449 346.644,298.029 345.503,297.102 346.971,297.022" fill="#e87a85" stroke="#e87a85" stroke-width="0.8"/><line x1="381.9" y1="298.814" x2="381.9" y2="303.068" stroke="#e87a85" stroke-width="0.8"/><line x1="380.1" y1="298.814" x2="383.7" y2="298.814" stroke="#e87a85" stroke-width="0.9"/><line x1="380.1" y1="303.068" x2="383.7" y2="303.068" stroke="#e87a85" stroke-width="0.9"/><polygon points="381.9,298.841 382.429,300.213 383.897,300.292 382.756,301.219 383.134,302.64 381.9,301.841 380.666,302.64 381.044,301.219 379.903,300.292 381.371,300.213" fill="#e87a85" stroke="#e87a85" stroke-width="0.8"/><line x1="416.9" y1="212.671" x2="416.9" y2="219.052" stroke="#e87a85" stroke-width="0.8"/><line x1="415.1" y1="212.671" x2="418.7" y2="212.671" stroke="#e87a85" stroke-width="0.9"/><line x1="415.1" y1="219.052" x2="418.7" y2="219.052" stroke="#e87a85" stroke-width="0.9"/><polygon points="416.9,213.761 417.429,215.133 418.897,215.212 417.756,216.139 418.134,217.56 416.9,216.761 415.666,217.56 416.044,216.139 414.903,215.212 416.371,215.133" fill="#e87a85" stroke="#e87a85" stroke-width="0.8"/><path d="M277.8 320.912 L312.9 328.87 L347.5 333.368 L381.9 331.638 L416.9 337.174" stroke="#5468f0" fill="none" stroke-width="0.8"/><circle cx="277.8" cy="320.912" r="2.6" fill="url(#sph)"/><circle cx="312.9" cy="328.87" r="2.6" fill="url(#sph)"/><line x1="310.7" y1="326.794" x2="315.1" y2="326.794" stroke="#3346e0" stroke-width="0.9"/><line x1="310.7" y1="330.946" x2="315.1" y2="330.946" stroke="#3346e0" stroke-width="0.9"/><circle cx="347.5" cy="333.368" r="2.6" fill="url(#sph)"/><circle cx="381.9" cy="331.638" r="2.6" fill="url(#sph)"/><line x1="379.7" y1="329.562" x2="384.1" y2="329.562" stroke="#3346e0" stroke-width="0.9"/><line x1="379.7" y1="333.714" x2="384.1" y2="333.714" stroke="#3346e0" stroke-width="0.9"/><circle cx="416.9" cy="337.174" r="2.6" fill="url(#sph)"/><line x1="263" y1="216.8" x2="284.4" y2="216.8" stroke="#e87a85" stroke-width="0.8"/><polygon points="273.9,214.5 274.488,215.991 276.087,216.089 274.851,217.109 275.252,218.661 273.9,217.8 272.548,218.661 272.949,217.109 271.713,216.089 273.312,215.991" fill="#e87a85" stroke="#e87a85" stroke-width="0.8"/><line x1="263" y1="230.3" x2="284.4" y2="230.3" stroke="#5468f0" stroke-width="0.8"/><circle cx="273.9" cy="230.3" r="2.6" fill="url(#sph)"/><text x="287.3" y="220.2" font-size="9.8" text-anchor="start" fill="#1a1a1a" font-weight="bold" stroke="#1a1a1a" stroke-width="0.1">K<tspan font-size="6.4" dy="2.3" font-weight="normal">f</tspan></text><text x="287.3" y="233.8" font-size="9.8" text-anchor="start" fill="#1a1a1a" font-weight="bold" stroke="#1a1a1a" stroke-width="0.1">K<tspan font-size="6.4" dy="2.3" font-weight="normal">d</tspan></text><text font-size="7.8" text-anchor="end" fill="#1a1a1a" transform="translate(286.5 355.9) rotate(-17)" stroke="#1a1a1a" stroke-width="0.1">CN</text><text font-size="7.8" text-anchor="end" fill="#1a1a1a" transform="translate(320.6 355.9) rotate(-17)" stroke="#1a1a1a" stroke-width="0.1">BCN</text><text font-size="7.8" text-anchor="end" fill="#1a1a1a" transform="translate(365.9 355.9) rotate(-17)" stroke="#1a1a1a" stroke-width="0.1">BCN-FeOOH</text><text font-size="7.8" text-anchor="end" fill="#1a1a1a" transform="translate(398.3 355.9) rotate(-17)" stroke="#1a1a1a" stroke-width="0.1">CoO<tspan font-size="5.5" dy="2" font-style="italic">x</tspan><tspan dy="-2">-BCN</tspan></text><text font-size="7.8" text-anchor="end" fill="#1a1a1a" transform="translate(438.5 355.1) rotate(-17)" stroke="#1a1a1a" stroke-width="0.1">CoO<tspan font-size="5.5" dy="2" font-style="italic">x</tspan><tspan dy="-2">-BCN-FeOOH</tspan></text><text font-size="11" text-anchor="middle" fill="#1a1a1a" font-weight="bold" transform="translate(248.6 277.9) rotate(-90) scale(1.1 1)" stroke="#1a1a1a" stroke-width="0.1">K<tspan font-size="7" dy="2.5" font-weight="normal">f</tspan><tspan font-weight="normal" dy="-2.5"> (&#956;M min</tspan><tspan font-weight="normal" font-size="7" dy="-4">-1</tspan><tspan font-weight="normal" dy="4">)</tspan></text><text font-size="11" text-anchor="middle" fill="#1a1a1a" font-weight="bold" transform="translate(453.2 285.4) rotate(-90)" stroke="#1a1a1a" stroke-width="0.1">K<tspan font-size="7" dy="2.5" font-weight="normal">d</tspan><tspan font-weight="normal" dy="-2.5"> (10</tspan><tspan font-weight="normal" font-size="7" dy="-4">-2</tspan><tspan font-weight="normal" dy="4"> min</tspan><tspan font-weight="normal" font-size="7" dy="-4">-1</tspan><tspan font-weight="normal" dy="4">)</tspan></text><text x="232.7" y="209.9" font-size="22" text-anchor="start" fill="#1a1a1a" stroke="#000" stroke-width="0.3">d</text><path d="M497 209.4 497.2 211.3 497.5 213.2 497.7 215.0 498 216.9 498.2 218.7 498.5 220.5 498.7 222.3 499 224.2 499.2 226.2 499.5 228.2 499.7 230.1 500 231.9 500.2 233.4 500.5 234.5 500.7 234.7 501 236.6 501.2 237.2 501.5 238.0 501.7 237.7 502 240.0 502.2 239.8 502.5 240.0 502.7 241.9 503 241.2 503.2 240.9 503.5 242.0 503.7 241.4 503.9 243.7 504.2 243.3 504.4 243.6 504.7 245.1 504.9 244.1 505.2 245.8 505.4 244.9 505.7 246.3 505.9 246.6 506.2 248.7 506.4 249.4 506.7 248.9 506.9 250.2 507.2 250.2 507.4 251.3 507.7 251.1 507.9 251.2 508.2 251.8 508.4 253.7 508.7 255.5 508.9 254.9 509.2 255.0 509.4 257.2 509.7 256.8 509.9 257.3 510.2 258.0 510.4 258.3 510.7 258.8 510.9 258.7 511.1 260.5 511.4 260.7 511.6 262.1 511.9 261.5 512.1 261.0 512.4 262.7 512.6 264.5 512.9 263.5 513.1 263.6 513.4 263.9 513.6 264.4 513.9 265.4 514.1 265.2 514.4 267.5 514.6 266.7 514.9 267.4 515.1 268.8 515.4 269.2 515.6 268.4 515.9 269.2 516.1 269.9 516.4 269.6 516.6 268.8 516.9 271.0 517.1 271.5 517.4 271.6 517.6 270.9 517.8 271.8 518.1 271.9 518.3 272.5 518.6 274.1 518.8 274.7 519.1 274.4 519.3 274.6 519.6 275.1 519.8 274.9 520.1 275.2 520.3 275.1 520.6 276.0 520.8 278.3 521.1 277.5 521.3 276.8 521.6 277.1 521.8 277.1 522.1 278.5 522.3 278.9 522.6 277.7 522.8 279.7 523.1 279.2 523.3 281.3 523.6 280.5 523.8 282.2 524.1 280.6 524.3 281.1 524.6 282.0 524.8 283.0 525 282.9 525.3 281.6 525.5 283.2 525.8 283.4 526 283.3 526.3 283.4 526.5 285.9 526.8 284.2 527 284.1 527.3 285.8 527.5 285.6 527.8 285.7 528 286.8 528.3 286.8 528.5 286.9 528.8 287.8 529 287.4 529.3 286.7 529.5 287.2 529.8 287.3 530 288.3 530.3 287.2 530.5 286.7 530.8 288.9 531 287.7 531.3 287.3 531.5 289.8 531.7 289.0 532 290.4 532.2 289.6 532.5 289.2 532.7 289.3 533 290.2 533.2 290.7 533.5 290.3 533.7 291.1 534 290.0 534.2 291.8 534.5 290.1 534.7 292.0 535 293.2 535.2 293.8 535.5 294.7 535.7 291.3 536 294.0 536.2 294.7 536.5 294.7 536.7 292.8 537 294.5 537.2 296.3 537.5 292.8 537.7 295.2 538 296.1 538.2 294.3 538.5 295.9 538.7 294.2 538.9 294.7 539.2 294.9 539.4 296.3 539.7 296.2 539.9 297.6 540.2 295.6 540.4 296.8 540.7 298.2 540.9 298.0 541.2 296.0 541.4 298.5 541.7 297.4 541.9 298.6 542.2 298.7 542.4 300.0 542.7 298.9 542.9 296.7 543.2 297.5 543.4 300.3 543.7 299.2 543.9 301.1 544.2 300.3 544.4 299.2 544.7 301.7 544.9 299.5 545.2 298.2 545.4 303.5 545.6 298.7 545.9 302.1 546.1 302.6 546.4 301.8 546.6 299.7 546.9 303.3 547.1 300.3 547.4 300.6 547.6 302.0 547.9 303.7 548.1 303.2 548.4 304.0 548.6 302.5 548.9 303.0 549.1 301.9 549.4 303.1 549.6 304.5 549.9 303.5 550.1 304.6 550.4 303.4 550.6 303.5 550.9 304.4 551.1 304.3 551.4 305.5 551.6 305.0 551.9 307.3 552.1 304.8 552.4 304.9 552.6 303.9 552.8 305.5 553.1 306.5 553.3 304.7 553.6 305.7 553.8 306.9 554.1 305.9 554.3 305.5 554.6 307.7 554.8 306.6 555.1 307.1 555.3 308.3 555.6 308.4 555.8 306.5 556.1 306.4 556.3 307.6 556.6 307.2 556.8 304.8 557.1 309.5 557.3 307.8 557.6 309.0 557.8 306.4 558.1 310.0 558.3 307.5 558.6 308.3 558.8 306.6 559.1 308.5 559.3 308.6 559.5 308.8 559.8 309.8 560 309.4 560.3 310.9 560.5 308.9 560.8 308.3 561 309.9 561.3 311.0 561.5 312.0 561.8 311.5 562 307.8 562.3 311.2 562.5 313.0 562.8 311.0 563 310.3 563.3 311.7 563.5 310.6 563.8 312.5 564 311.6 564.3 313.9 564.5 312.7 564.8 310.9 565 313.1 565.3 313.8 565.5 311.6 565.8 312.0 566 309.2 566.3 314.3 566.5 312.1 566.7 309.9 567 310.6 567.2 313.1 567.5 314.8 567.7 313.6 568 314.7 568.2 312.3 568.5 312.0 568.7 315.7 569 315.2 569.2 314.5 569.5 316.8 569.7 313.3 570 314.3 570.2 316.8 570.5 318.2 570.7 315.4 571 318.3 571.2 314.7 571.5 316.3 571.7 315.6 572 313.4 572.2 316.6 572.5 317.8 572.7 316.1 573 316.4 573.2 319.0 573.4 314.7 573.7 314.4 573.9 315.9 574.2 315.1 574.4 319.5 574.7 317.9 574.9 316.0 575.2 316.5 575.4 322.5 575.7 316.7 575.9 316.6 576.2 318.5 576.4 319.2 576.7 318.6 576.9 316.7 577.2 316.4 577.4 319.5 577.7 318.5 577.9 315.9 578.2 320.8 578.4 320.3 578.7 318.6 578.9 318.7 579.2 319.6 579.4 318.1 579.7 317.0 579.9 320.1 580.2 317.1 580.4 320.4 580.6 317.2 580.9 319.7 581.1 319.7 581.4 323.3 581.6 318.3 581.9 317.7 582.1 319.2 582.4 318.4 582.6 319.5 582.9 321.4 583.1 322.1 583.4 323.8 583.6 319.6 583.9 325.8 584.1 324.7 584.4 320.8 584.6 317.1 584.9 321.2 585.1 321.6 585.4 317.3 585.6 321.8 585.9 321.4 586.1 320.4 586.4 323.1 586.6 323.9 586.9 321.2 587.1 322.6 587.3 321.0 587.6 320.9 587.8 322.6 588.1 323.5 588.3 321.5 588.6 318.5 588.8 323.9 589.1 319.8 589.3 323.2 589.6 326.4 589.8 323.1 590.1 320.9 590.3 320.5 590.6 325.6 590.8 323.4 591.1 324.6 591.3 325.4 591.6 323.6 591.8 323.2 592.1 322.0 592.3 317.9 592.6 321.1 592.8 324.0 593.1 323.8 593.3 325.1 593.6 324.1 593.8 324.7 594.1 326.1 594.3 322.8 594.5 324.1 594.8 321.6 595 326.8 595.3 325.0 595.5 326.0 595.8 328.2 596 327.3 596.3 325.1 596.5 326.9 596.8 322.5 597 326.4 597.3 325.9 597.5 322.4 597.8 328.5 598 324.4 598.3 327.3 598.5 325.1 598.8 328.1 599 328.8 599.3 324.5 599.5 323.2 599.8 326.1 600 328.2 600.3 325.8 600.5 325.4 600.8 327.8 601 321.1 601.2 325.5 601.5 324.1 601.7 327.7 602 325.6 602.2 324.9 602.5 326.6 602.7 324.4 603 327.5 603.2 326.2 603.5 326.9 603.7 326.3 604 329.8 604.2 327.7 604.5 329.2 604.7 329.2 605 326.5 605.2 329.5 605.5 329.1 605.7 329.2 606 327.7 606.2 327.8 606.5 330.5 606.7 333.5 607 327.2 607.2 330.2 607.5 328.3 607.7 330.9 608 330.3 608.2 331.7 608.4 323.4 608.7 328.3 608.9 327.5 609.2 329.5 609.4 328.3 609.7 328.6 609.9 331.6 610.2 334.3 610.4 324.0 610.7 329.7 610.9 331.1 611.2 330.5 611.4 329.9 611.7 327.7 611.9 328.7 612.2 332.5 612.4 333.4 612.7 331.3 612.9 329.3 613.2 331.5 613.4 330.8 613.7 332.7 613.9 331.8 614.2 330.2 614.4 332.2 614.7 329.2 614.9 333.8 615.1 334.7 615.4 329.4 615.6 333.2 615.9 330.0 616.1 334.8 616.4 334.5 616.6 332.0 616.9 334.9 617.1 331.8 617.4 331.4 617.6 331.6 617.9 332.7 618.1 332.4 618.4 333.6 618.6 331.9 618.9 335.2 619.1 335.9 619.4 332.4 619.6 330.3 619.9 335.4 620.1 336.5 620.4 333.5 620.6 331.0 620.9 334.7 621.1 337.8 621.4 329.9 621.6 335.5 621.9 333.7 622.1 332.5 622.3 335.8 622.6 331.6 622.8 335.5 623.1 338.0 623.3 335.4 623.6 332.9 623.8 330.9 624.1 332.1 624.3 330.9 624.6 339.2 624.8 334.8 625.1 333.0 625.3 332.5 625.6 333.1 625.8 334.9 626.1 332.7 626.3 340.0 626.6 334.2 626.8 334.2 627.1 336.9 627.3 339.7 627.6 339.5 627.8 335.2 628.1 337.0 628.3 336.9 628.6 337.9 628.8 337.3 629 334.4 629.3 333.7 629.5 337.3 629.8 334.0 630 340.3 630.3 337.1 630.5 334.6 630.8 336.4 631 336.0 631.3 337.0 631.5 339.7 631.8 333.8 632 332.8 632.3 338.4 632.5 337.1 632.8 338.0 633 338.8 633.3 337.3 633.5 339.8 633.8 335.6 634 338.1 634.3 335.9 634.5 335.2 634.8 339.6 635 339.6 635.3 333.2 635.5 335.4 635.8 339.0 636 341.0 636.2 336.6 636.5 337.9 636.7 334.8 637 344.9 637.2 339.8 637.5 340.9 637.7 340.3 638 341.1 638.2 340.3 638.5 337.9 638.7 340.7 639 339.1 639.2 342.3 639.5 337.0 639.7 337.6 640 340.8 640.2 342.4 640.5 339.5 640.7 337.3 641 338.9 641.2 338.0 641.5 344.3 641.7 341.7 642 342.7 642.2 340.2 642.5 338.0 642.7 342.6 642.9 343.9 643.2 341.2 643.4 339.6 643.7 342.6 643.9 338.8 644.2 341.8 644.4 337.9 644.7 337.3 644.9 341.4 645.2 340.9 645.4 345.1 645.7 339.3 645.9 340.2 646.2 337.1 646.4 335.2 646.7 335.4 646.9 341.5 647.2 337.1 647.4 343.4 647.7 344.2 647.9 339.6 648.2 345.0 648.4 341.1 648.7 343.6 648.9 340.0 649.2 343.2 649.4 338.1 649.7 342.4 649.9 339.5 650.1 340.4 650.4 342.5 650.6 341.3 650.9 340.7 651.1 342.9 651.4 343.2 651.6 337.2 651.9 342.6 652.1 342.9 652.4 339.0 652.6 342.2 652.9 337.5 653.1 345.2 653.4 340.6 653.6 341.1 653.9 344.7 654.1 341.0 654.4 343.1 654.6 338.5 654.9 339.9 655.1 337.6 655.4 340.9 655.6 344.4 655.9 342.2 656.1 344.1 656.4 338.8 656.6 339.2 656.8 340.4 657.1 343.4 657.3 342.8 657.6 341.8 657.8 343.6 658.1 341.4 658.3 341.8 658.6 345.6 658.8 340.3 659.1 342.5 659.3 346.6 659.6 342.3 659.8 344.1 660.1 340.3 660.3 347.5 660.6 335.7 660.8 338.9 661.1 339.1 661.3 346.9 661.6 343.2 661.8 341.5 662.1 338.6 662.3 343.4 662.6 342.6 662.8 340.3 663.1 338.0 663.3 339.2 663.6 343.0 663.8 343.3 664 342.7 664.3 342.0 664.5 337.3 664.8 342.6 665 339.5 665.3 342.7 665.5 343.9 665.8 340.6 666 339.6 666.3 345.5 666.5 343.7 666.8 340.8 667 333.8 667.3 342.5 667.5 344.5 667.8 346.0 668 340.7 668.3 340.8 668.5 341.4 668.8 345.2 669 339.2 669.3 342.4 669.5 340.0 669.8 343.6 670 338.1 670.3 343.9 670.5 341.3" fill="none" stroke="#e37e88" stroke-width="1.05" stroke-linejoin="round"/><path d="M497 209.4 497.2 211.0 497.5 212.5 497.7 214.0 498 215.6 498.2 217.0 498.5 218.5 498.7 219.9 499 221.3 499.2 222.8 499.5 224.2 499.7 225.7 500 227.1 500.2 228.5 500.5 230.0 500.7 231.3 501 231.7 501.2 232.2 501.5 233.5 501.7 235.0 502 234.3 502.2 235.6 502.5 235.6 502.7 237.1 503 238.1 503.2 237.8 503.5 238.7 503.7 240.0 503.9 240.0 504.2 240.0 504.4 240.5 504.7 240.7 504.9 242.5 505.2 242.4 505.4 243.8 505.7 244.3 505.9 244.2 506.2 244.8 506.4 245.9 506.7 246.2 506.9 246.8 507.2 246.5 507.4 248.2 507.7 247.9 507.9 247.8 508.2 249.1 508.4 250.2 508.7 251.5 508.9 250.8 509.2 250.9 509.4 253.1 509.7 252.7 509.9 253.0 510.2 253.1 510.4 253.6 510.7 255.4 510.9 255.0 511.1 255.3 511.4 255.8 511.6 257.4 511.9 256.7 512.1 257.9 512.4 258.2 512.6 258.6 512.9 258.5 513.1 259.8 513.4 260.8 513.6 260.4 513.9 260.4 514.1 260.6 514.4 261.9 514.6 262.1 514.9 262.7 515.1 263.2 515.4 262.8 515.6 264.6 515.9 264.7 516.1 264.9 516.4 265.6 516.6 266.4 516.9 266.3 517.1 266.2 517.4 267.8 517.6 267.2 517.8 267.5 518.1 267.3 518.3 268.7 518.6 268.4 518.8 269.1 519.1 270.1 519.3 270.2 519.6 271.2 519.8 271.1 520.1 271.0 520.3 271.3 520.6 271.6 520.8 272.7 521.1 272.6 521.3 272.6 521.6 273.8 521.8 273.6 522.1 273.5 522.3 273.1 522.6 274.8 522.8 275.0 523.1 275.1 523.3 275.1 523.6 275.1 523.8 275.8 524.1 276.5 524.3 276.5 524.6 276.8 524.8 276.8 525 277.7 525.3 277.9 525.5 277.5 525.8 278.9 526 279.2 526.3 279.5 526.5 279.1 526.8 279.3 527 278.9 527.3 280.6 527.5 278.7 527.8 280.3 528 280.6 528.3 281.8 528.5 281.4 528.8 280.9 529 280.8 529.3 281.6 529.5 282.5 529.8 282.7 530 282.8 530.3 282.6 530.5 283.3 530.8 284.5 531 283.0 531.3 284.2 531.5 285.7 531.7 285.1 532 284.5 532.2 285.7 532.5 284.7 532.7 285.6 533 287.1 533.2 287.6 533.5 284.8 533.7 287.1 534 288.4 534.2 286.5 534.5 287.4 534.7 288.6 535 287.1 535.2 288.2 535.5 287.9 535.7 286.5 536 288.7 536.2 288.4 536.5 289.6 536.7 290.8 537 289.8 537.2 289.1 537.5 290.0 537.7 290.0 538 290.9 538.2 288.9 538.5 289.3 538.7 288.7 538.9 291.3 539.2 290.9 539.4 290.5 539.7 290.6 539.9 291.0 540.2 290.8 540.4 291.5 540.7 291.6 540.9 293.5 541.2 292.7 541.4 291.8 541.7 292.1 541.9 294.0 542.2 293.4 542.4 293.5 542.7 294.0 542.9 295.0 543.2 292.5 543.4 293.1 543.7 292.2 543.9 294.6 544.2 293.9 544.4 293.7 544.7 293.7 544.9 295.3 545.2 294.6 545.4 294.4 545.6 296.3 545.9 294.1 546.1 294.0 546.4 298.0 546.6 295.2 546.9 295.1 547.1 295.0 547.4 295.7 547.6 296.8 547.9 296.9 548.1 296.8 548.4 296.1 548.6 294.9 548.9 296.9 549.1 298.3 549.4 297.9 549.6 296.7 549.9 297.8 550.1 296.7 550.4 297.2 550.6 296.0 550.9 297.1 551.1 297.7 551.4 297.5 551.6 298.6 551.9 299.9 552.1 299.4 552.4 297.7 552.6 297.4 552.8 297.6 553.1 297.3 553.3 298.5 553.6 299.1 553.8 298.9 554.1 299.0 554.3 299.1 554.6 298.9 554.8 298.3 555.1 301.2 555.3 300.6 555.6 298.5 555.8 298.6 556.1 299.1 556.3 299.9 556.6 301.4 556.8 301.3 557.1 301.5 557.3 301.6 557.6 301.8 557.8 301.5 558.1 301.3 558.3 300.8 558.6 299.0 558.8 301.0 559.1 303.4 559.3 300.8 559.5 300.9 559.8 302.9 560 302.0 560.3 301.4 560.5 304.0 560.8 303.0 561 303.3 561.3 301.9 561.5 303.3 561.8 303.3 562 303.9 562.3 304.5 562.5 304.7 562.8 303.7 563 304.4 563.3 302.3 563.5 304.7 563.8 304.9 564 303.7 564.3 303.4 564.5 304.4 564.8 303.1 565 305.2 565.3 305.3 565.5 303.9 565.8 305.3 566 306.7 566.3 306.8 566.5 306.9 566.7 305.6 567 305.5 567.2 305.6 567.5 307.0 567.7 309.4 568 308.3 568.2 308.7 568.5 308.5 568.7 304.9 569 306.8 569.2 306.7 569.5 309.0 569.7 309.7 570 306.8 570.2 307.8 570.5 308.6 570.7 307.4 571 307.3 571.2 307.4 571.5 309.6 571.7 307.3 572 310.2 572.2 308.9 572.5 309.9 572.7 311.1 573 308.3 573.2 308.2 573.4 310.0 573.7 308.1 573.9 308.7 574.2 309.6 574.4 310.1 574.7 308.3 574.9 309.6 575.2 311.0 575.4 312.1 575.7 307.7 575.9 312.3 576.2 311.8 576.4 309.2 576.7 308.8 576.9 311.5 577.2 310.4 577.4 311.3 577.7 312.4 577.9 310.8 578.2 311.6 578.4 312.2 578.7 312.9 578.9 314.2 579.2 314.2 579.4 312.2 579.7 311.7 579.9 315.4 580.2 313.1 580.4 312.9 580.6 310.8 580.9 313.6 581.1 311.5 581.4 312.0 581.6 310.9 581.9 312.1 582.1 313.0 582.4 310.9 582.6 311.8 582.9 313.1 583.1 311.5 583.4 311.6 583.6 312.3 583.9 311.5 584.1 314.6 584.4 312.3 584.6 315.0 584.9 315.3 585.1 312.3 585.4 314.2 585.6 313.5 585.9 312.6 586.1 313.9 586.4 314.1 586.6 315.6 586.9 316.1 587.1 313.1 587.3 314.2 587.6 315.7 587.8 316.7 588.1 311.4 588.3 317.0 588.6 314.9 588.8 317.6 589.1 314.7 589.3 314.2 589.6 315.6 589.8 317.4 590.1 315.7 590.3 312.2 590.6 316.9 590.8 313.5 591.1 314.5 591.3 314.3 591.6 313.3 591.8 314.3 592.1 314.8 592.3 315.5 592.6 316.4 592.8 316.0 593.1 314.3 593.3 316.4 593.6 318.3 593.8 318.4 594.1 317.2 594.3 318.0 594.5 318.5 594.8 319.3 595 319.9 595.3 316.8 595.5 317.0 595.8 319.8 596 320.1 596.3 320.1 596.5 313.9 596.8 317.4 597 312.6 597.3 319.1 597.5 318.1 597.8 318.2 598 317.9 598.3 320.4 598.5 317.8 598.8 320.1 599 319.4 599.3 319.1 599.5 319.4 599.8 318.9 600 317.0 600.3 320.0 600.5 320.1 600.8 318.7 601 320.3 601.2 320.6 601.5 317.1 601.7 319.0 602 318.6 602.2 317.9 602.5 320.0 602.7 318.2 603 318.9 603.2 320.1 603.5 320.4 603.7 320.4 604 323.7 604.2 319.2 604.5 320.5 604.7 318.1 605 321.0 605.2 322.3 605.5 322.4 605.7 319.4 606 320.0 606.2 322.8 606.5 320.5 606.7 322.4 607 319.1 607.2 323.3 607.5 322.7 607.7 321.8 608 319.7 608.2 320.9 608.4 321.5 608.7 321.8 608.9 321.2 609.2 321.1 609.4 321.9 609.7 324.1 609.9 318.2 610.2 319.3 610.4 319.1 610.7 320.7 610.9 318.9 611.2 323.0 611.4 322.3 611.7 321.7 611.9 321.0 612.2 322.6 612.4 322.7 612.7 323.1 612.9 321.2 613.2 323.8 613.4 320.0 613.7 325.0 613.9 317.3 614.2 321.8 614.4 320.8 614.7 324.4 614.9 320.4 615.1 326.5 615.4 320.4 615.6 327.0 615.9 324.2 616.1 323.5 616.4 324.3 616.6 327.6 616.9 325.3 617.1 319.6 617.4 326.0 617.6 324.3 617.9 320.9 618.1 325.4 618.4 321.8 618.6 324.4 618.9 324.6 619.1 323.0 619.4 325.5 619.6 322.5 619.9 324.8 620.1 323.5 620.4 324.2 620.6 328.2 620.9 324.9 621.1 322.7 621.4 324.6 621.6 323.4 621.9 325.0 622.1 325.3 622.3 325.2 622.6 325.3 622.8 324.2 623.1 326.1 623.3 327.3 623.6 324.2 623.8 325.4 624.1 325.6 624.3 328.0 624.6 327.7 624.8 324.3 625.1 325.9 625.3 323.0 625.6 324.0 625.8 326.0 626.1 327.2 626.3 327.9 626.6 325.5 626.8 323.6 627.1 327.0 627.3 326.0 627.6 327.2 627.8 326.7 628.1 327.9 628.3 327.8 628.6 328.3 628.8 325.8 629 328.7 629.3 325.8 629.5 327.0 629.8 330.6 630 327.6 630.3 324.7 630.5 330.0 630.8 329.1 631 329.4 631.3 327.6 631.5 328.0 631.8 326.9 632 326.0 632.3 330.5 632.5 326.7 632.8 326.6 633 326.7 633.3 331.4 633.5 329.5 633.8 327.0 634 327.7 634.3 328.9 634.5 329.7 634.8 324.7 635 329.8 635.3 327.6 635.5 326.7 635.8 327.3 636 329.8 636.2 331.8 636.5 328.6 636.7 329.5 637 326.7 637.2 329.4 637.5 330.2 637.7 325.5 638 327.5 638.2 330.3 638.5 325.0 638.7 327.9 639 330.0 639.2 325.3 639.5 328.0 639.7 329.0 640 330.8 640.2 326.3 640.5 331.4 640.7 329.7 641 331.6 641.2 331.6 641.5 329.9 641.7 330.3 642 325.7 642.2 326.5 642.5 327.3 642.7 328.7 642.9 331.5 643.2 325.8 643.4 328.9 643.7 326.8 643.9 326.4 644.2 332.9 644.4 330.0 644.7 333.3 644.9 332.4 645.2 327.9 645.4 326.0 645.7 334.4 645.9 329.2 646.2 327.6 646.4 331.6 646.7 330.5 646.9 328.8 647.2 329.5 647.4 330.7 647.7 330.5 647.9 332.0 648.2 329.7 648.4 329.7 648.7 331.8 648.9 331.2 649.2 333.0 649.4 330.1 649.7 330.5 649.9 328.2 650.1 334.1 650.4 327.8 650.6 331.3 650.9 328.9 651.1 331.7 651.4 332.6 651.6 327.4 651.9 330.6 652.1 327.2 652.4 334.3 652.6 330.2 652.9 327.7 653.1 329.7 653.4 334.2 653.6 334.7 653.9 334.2 654.1 329.7 654.4 331.1 654.6 335.2 654.9 329.9 655.1 330.8 655.4 329.5 655.6 329.0 655.9 334.4 656.1 333.2 656.4 332.8 656.6 333.1 656.8 334.2 657.1 335.3 657.3 331.9 657.6 331.2 657.8 329.7 658.1 334.5 658.3 330.9 658.6 328.7 658.8 331.5 659.1 332.2 659.3 334.1 659.6 334.5 659.8 330.6 660.1 330.5 660.3 331.6 660.6 329.6 660.8 332.2 661.1 333.5 661.3 332.6 661.6 328.8 661.8 329.8 662.1 335.6 662.3 330.3 662.6 334.4 662.8 334.2 663.1 332.0 663.3 330.4 663.6 333.3 663.8 330.8 664 332.4 664.3 333.1 664.5 331.2 664.8 332.4 665 332.3 665.3 330.1 665.5 332.6 665.8 331.6 666 328.8 666.3 332.3 666.5 332.5 666.8 331.8 667 328.3 667.3 335.1 667.5 334.9 667.8 334.8 668 334.1 668.3 330.4 668.5 333.7 668.8 331.2 669 338.7 669.3 332.2 669.5 335.1 669.8 329.8 670 330.7 670.3 332.3 670.5 335.3" fill="none" stroke="#c4aee4" stroke-width="1.05" stroke-linejoin="round"/><path d="M497 209.4 497.2 211.2 497.5 213.0 497.7 214.8 498 216.5 498.2 218.3 498.5 220.1 498.7 221.8 499 223.7 499.2 225.7 499.5 227.7 499.7 229.7 500 231.4 500.2 233.0 500.5 234.1 500.7 234.5 501 235.8 501.2 236.7 501.5 237.5 501.7 238.7 502 238.9 502.2 239.3 502.5 239.8 502.7 241.2 503 240.5 503.2 241.8 503.5 240.7 503.7 241.7 503.9 242.7 504.2 242.9 504.4 244.9 504.7 245.1 504.9 243.7 505.2 244.4 505.4 245.4 505.7 246.9 505.9 247.2 506.2 247.4 506.4 247.1 506.7 248.0 506.9 247.7 507.2 248.9 507.4 250.5 507.7 251.4 507.9 250.9 508.2 252.3 508.4 253.7 508.7 253.6 508.9 254.0 509.2 255.1 509.4 255.7 509.7 256.1 509.9 256.3 510.2 257.0 510.4 257.9 510.7 258.1 510.9 259.8 511.1 260.1 511.4 260.7 511.6 261.8 511.9 262.1 512.1 262.5 512.4 262.4 512.6 262.6 512.9 264.5 513.1 263.2 513.4 263.7 513.6 264.0 513.9 265.1 514.1 265.7 514.4 266.5 514.6 266.1 514.9 265.6 515.1 267.3 515.4 268.1 515.6 267.9 515.9 268.2 516.1 269.0 516.4 270.0 516.6 269.4 516.9 268.9 517.1 269.8 517.4 270.4 517.6 269.7 517.8 271.8 518.1 271.1 518.3 272.4 518.6 272.5 518.8 272.5 519.1 274.2 519.3 273.1 519.6 273.4 519.8 274.4 520.1 275.1 520.3 274.9 520.6 274.6 520.8 276.1 521.1 276.4 521.3 277.9 521.6 276.6 521.8 277.2 522.1 277.0 522.3 276.7 522.6 278.2 522.8 279.1 523.1 278.1 523.3 278.7 523.6 278.6 523.8 280.9 524.1 279.7 524.3 281.0 524.6 280.2 524.8 281.3 525 281.1 525.3 280.0 525.5 282.3 525.8 282.9 526 281.2 526.3 283.0 526.5 283.1 526.8 282.9 527 283.8 527.3 282.7 527.5 284.8 527.8 285.8 528 284.1 528.3 285.3 528.5 286.8 528.8 286.0 529 285.7 529.3 285.6 529.5 286.8 529.8 286.8 530 287.7 530.3 286.0 530.5 288.5 530.8 287.5 531 288.6 531.3 287.6 531.5 287.3 531.7 288.2 532 288.1 532.2 288.8 532.5 289.9 532.7 290.5 533 289.9 533.2 289.5 533.5 289.8 533.7 290.9 534 291.6 534.2 290.5 534.5 290.9 534.7 290.5 535 291.6 535.2 292.5 535.5 289.0 535.7 292.2 536 291.6 536.2 290.1 536.5 292.8 536.7 292.6 537 293.3 537.2 291.8 537.5 295.4 537.7 293.6 538 293.4 538.2 295.4 538.5 294.7 538.7 295.1 538.9 295.6 539.2 292.6 539.4 296.5 539.7 294.7 539.9 295.5 540.2 296.4 540.4 294.9 540.7 296.1 540.9 296.8 541.2 296.1 541.4 296.9 541.7 294.9 541.9 295.5 542.2 295.7 542.4 297.5 542.7 301.2 542.9 297.8 543.2 297.5 543.4 297.8 543.7 299.1 543.9 299.0 544.2 297.2 544.4 299.6 544.7 298.7 544.9 299.8 545.2 296.9 545.4 297.6 545.6 300.0 545.9 297.6 546.1 300.2 546.4 300.3 546.6 300.2 546.9 300.6 547.1 300.7 547.4 301.0 547.6 300.2 547.9 300.8 548.1 304.2 548.4 302.4 548.6 301.9 548.9 301.8 549.1 300.7 549.4 301.9 549.6 301.5 549.9 303.0 550.1 301.0 550.4 299.5 550.6 301.7 550.9 303.2 551.1 305.4 551.4 303.9 551.6 301.7 551.9 302.7 552.1 301.9 552.4 303.0 552.6 302.2 552.8 301.5 553.1 304.1 553.3 303.9 553.6 303.6 553.8 304.3 554.1 306.4 554.3 304.3 554.6 303.8 554.8 305.4 555.1 302.5 555.3 305.5 555.6 303.8 555.8 303.8 556.1 305.1 556.3 307.1 556.6 304.3 556.8 306.5 557.1 305.9 557.3 303.9 557.6 306.8 557.8 304.8 558.1 304.1 558.3 305.1 558.6 305.3 558.8 307.1 559.1 305.5 559.3 308.5 559.5 307.0 559.8 305.9 560 305.9 560.3 307.4 560.5 304.6 560.8 304.6 561 306.4 561.3 308.4 561.5 308.0 561.8 307.9 562 307.7 562.3 305.3 562.5 307.8 562.8 306.1 563 309.6 563.3 308.6 563.5 308.7 563.8 309.4 564 309.5 564.3 309.5 564.5 309.8 564.8 308.6 565 307.8 565.3 310.1 565.5 311.8 565.8 311.3 566 309.8 566.3 311.0 566.5 309.7 566.7 311.0 567 309.7 567.2 310.9 567.5 313.6 567.7 312.0 568 313.1 568.2 310.1 568.5 310.4 568.7 311.4 569 312.3 569.2 311.4 569.5 313.2 569.7 311.1 570 313.9 570.2 313.5 570.5 310.7 570.7 313.2 571 312.2 571.2 314.1 571.5 312.0 571.7 313.3 572 313.7 572.2 309.1 572.5 310.5 572.7 313.5 573 313.2 573.2 315.0 573.4 313.9 573.7 311.9 573.9 314.3 574.2 312.8 574.4 313.7 574.7 313.4 574.9 314.7 575.2 312.2 575.4 312.8 575.7 311.2 575.9 317.8 576.2 313.2 576.4 313.5 576.7 313.2 576.9 314.0 577.2 314.4 577.4 316.1 577.7 315.5 577.9 315.9 578.2 314.6 578.4 315.4 578.7 317.5 578.9 315.7 579.2 316.3 579.4 312.8 579.7 316.8 579.9 316.5 580.2 318.2 580.4 312.0 580.6 316.4 580.9 316.3 581.1 316.7 581.4 315.6 581.6 317.0 581.9 317.9 582.1 316.9 582.4 316.5 582.6 316.7 582.9 316.5 583.1 317.3 583.4 316.1 583.6 314.2 583.9 319.6 584.1 314.7 584.4 317.4 584.6 315.6 584.9 317.3 585.1 316.3 585.4 317.9 585.6 316.7 585.9 316.0 586.1 318.7 586.4 320.4 586.6 318.9 586.9 318.6 587.1 316.8 587.3 318.4 587.6 319.4 587.8 317.6 588.1 320.3 588.3 318.8 588.6 319.5 588.8 318.2 589.1 318.3 589.3 319.5 589.6 319.9 589.8 319.9 590.1 317.7 590.3 318.2 590.6 319.5 590.8 316.5 591.1 321.4 591.3 320.3 591.6 319.9 591.8 318.7 592.1 321.4 592.3 319.6 592.6 323.3 592.8 320.9 593.1 317.8 593.3 321.6 593.6 319.5 593.8 319.6 594.1 320.2 594.3 320.4 594.5 321.2 594.8 322.1 595 321.7 595.3 319.7 595.5 318.7 595.8 319.7 596 321.8 596.3 322.7 596.5 324.4 596.8 319.0 597 321.6 597.3 321.1 597.5 320.9 597.8 321.9 598 321.3 598.3 321.3 598.5 320.8 598.8 322.7 599 323.9 599.3 325.0 599.5 321.3 599.8 320.4 600 321.9 600.3 320.9 600.5 324.3 600.8 321.1 601 322.8 601.2 320.3 601.5 322.1 601.7 323.2 602 325.7 602.2 321.7 602.5 323.7 602.7 319.4 603 321.0 603.2 321.8 603.5 322.5 603.7 324.2 604 324.7 604.2 320.6 604.5 324.6 604.7 321.7 605 327.2 605.2 324.5 605.5 324.2 605.7 323.7 606 324.1 606.2 324.2 606.5 323.0 606.7 325.7 607 324.9 607.2 325.9 607.5 324.5 607.7 325.9 608 323.3 608.2 331.5 608.4 323.5 608.7 324.1 608.9 326.9 609.2 327.4 609.4 323.7 609.7 322.1 609.9 322.7 610.2 323.5 610.4 324.0 610.7 325.3 610.9 327.6 611.2 327.8 611.4 324.6 611.7 326.9 611.9 327.6 612.2 328.7 612.4 325.8 612.7 324.7 612.9 327.7 613.2 329.3 613.4 325.4 613.7 330.3 613.9 329.9 614.2 326.1 614.4 323.6 614.7 325.6 614.9 326.2 615.1 328.0 615.4 323.7 615.6 331.9 615.9 331.8 616.1 325.8 616.4 323.6 616.6 327.0 616.9 328.3 617.1 330.2 617.4 329.0 617.6 327.3 617.9 323.8 618.1 328.8 618.4 329.6 618.6 327.3 618.9 328.6 619.1 328.5 619.4 327.7 619.6 325.9 619.9 329.0 620.1 325.5 620.4 331.3 620.6 326.7 620.9 329.6 621.1 327.2 621.4 329.5 621.6 328.4 621.9 330.0 622.1 327.3 622.3 325.7 622.6 328.5 622.8 328.4 623.1 326.1 623.3 327.9 623.6 325.9 623.8 329.7 624.1 328.7 624.3 329.6 624.6 335.0 624.8 330.0 625.1 330.5 625.3 331.1 625.6 329.6 625.8 328.7 626.1 331.8 626.3 332.2 626.6 324.0 626.8 329.8 627.1 329.5 627.3 329.1 627.6 333.0 627.8 329.3 628.1 332.3 628.3 329.4 628.6 329.7 628.8 332.2 629 329.2 629.3 330.4 629.5 328.5 629.8 329.0 630 332.5 630.3 332.3 630.5 328.6 630.8 328.6 631 336.6 631.3 329.8 631.5 329.4 631.8 332.4 632 329.7 632.3 330.6 632.5 333.4 632.8 333.7 633 331.2 633.3 334.6 633.5 331.4 633.8 331.2 634 331.8 634.3 331.2 634.5 333.0 634.8 332.5 635 330.3 635.3 332.4 635.5 330.9 635.8 330.8 636 331.8 636.2 334.4 636.5 332.8 636.7 335.1 637 335.8 637.2 332.3 637.5 331.1 637.7 330.7 638 333.1 638.2 334.5 638.5 336.1 638.7 329.7 639 334.7 639.2 335.1 639.5 338.2 639.7 333.2 640 332.8 640.2 329.5 640.5 331.2 640.7 330.5 641 330.7 641.2 331.0 641.5 329.6 641.7 332.9 642 334.1 642.2 335.0 642.5 333.0 642.7 335.7 642.9 335.8 643.2 329.9 643.4 332.8 643.7 330.6 643.9 331.3 644.2 334.0 644.4 333.3 644.7 337.0 644.9 338.4 645.2 334.7 645.4 333.3 645.7 333.5 645.9 333.8 646.2 335.2 646.4 332.2 646.7 335.3 646.9 333.4 647.2 336.5 647.4 337.3 647.7 338.2 647.9 333.8 648.2 331.0 648.4 330.3 648.7 333.6 648.9 331.0 649.2 330.5 649.4 333.6 649.7 332.1 649.9 336.1 650.1 339.1 650.4 334.0 650.6 335.3 650.9 330.9 651.1 335.1 651.4 333.0 651.6 332.1 651.9 330.3 652.1 338.6 652.4 331.0 652.6 332.0 652.9 334.9 653.1 335.6 653.4 335.7 653.6 335.3 653.9 332.9 654.1 336.9 654.4 335.6 654.6 331.6 654.9 339.1 655.1 334.4 655.4 337.6 655.6 331.8 655.9 332.4 656.1 334.0 656.4 333.7 656.6 337.9 656.8 331.5 657.1 335.9 657.3 333.0 657.6 336.8 657.8 336.1 658.1 334.3 658.3 341.1 658.6 335.6 658.8 338.4 659.1 332.4 659.3 335.5 659.6 336.0 659.8 336.2 660.1 335.0 660.3 333.8 660.6 328.2 660.8 334.5 661.1 333.7 661.3 335.3 661.6 338.2 661.8 341.6 662.1 337.4 662.3 338.6 662.6 337.7 662.8 338.0 663.1 337.7 663.3 335.5 663.6 335.4 663.8 337.1 664 340.8 664.3 338.3 664.5 340.4 664.8 333.1 665 337.1 665.3 337.4 665.5 337.8 665.8 333.0 666 331.8 666.3 331.1 666.5 335.5 666.8 342.5 667 337.1 667.3 333.5 667.5 337.5 667.8 335.8 668 337.1 668.3 335.5 668.5 333.3 668.8 335.3 669 338.6 669.3 337.5 669.5 339.9 669.8 334.0 670 339.5 670.3 337.0 670.5 337.3" fill="none" stroke="#7cc8ee" stroke-width="1.05" stroke-linejoin="round"/><path d="M497 209.4 497.2 210.6 497.5 211.8 497.7 213.1 498 214.3 498.2 215.5 498.5 216.7 498.7 217.9 499 219.1 499.2 220.3 499.5 221.5 499.7 222.8 500 224.0 500.2 225.3 500.5 226.2 500.7 227.7 501 229.0 501.2 229.7 501.5 230.9 501.7 231.8 502 232.6 502.2 233.0 502.5 233.7 502.7 234.3 503 234.7 503.2 236.3 503.5 235.8 503.7 236.9 503.9 237.7 504.2 237.3 504.4 239.1 504.7 239.2 504.9 240.0 505.2 240.4 505.4 240.5 505.7 241.8 505.9 242.4 506.2 243.4 506.4 243.8 506.7 243.5 506.9 245.2 507.2 245.7 507.4 246.2 507.7 246.7 507.9 246.8 508.2 247.9 508.4 248.0 508.7 250.0 508.9 249.2 509.2 249.4 509.4 250.2 509.7 251.6 509.9 251.2 510.2 250.9 510.4 253.2 510.7 253.2 510.9 253.3 511.1 254.4 511.4 254.1 511.6 254.5 511.9 256.0 512.1 255.8 512.4 256.8 512.6 257.0 512.9 257.9 513.1 258.0 513.4 257.4 513.6 259.3 513.9 259.2 514.1 260.3 514.4 260.4 514.6 261.6 514.9 261.1 515.1 260.6 515.4 262.0 515.6 262.9 515.9 262.8 516.1 263.2 516.4 264.7 516.6 264.2 516.9 265.3 517.1 265.2 517.4 264.7 517.6 265.3 517.8 266.1 518.1 266.8 518.3 266.5 518.6 266.5 518.8 267.1 519.1 267.7 519.3 267.8 519.6 268.3 519.8 270.1 520.1 269.5 520.3 269.2 520.6 269.9 520.8 271.2 521.1 271.0 521.3 270.8 521.6 270.3 521.8 270.4 522.1 271.5 522.3 272.0 522.6 271.3 522.8 271.7 523.1 272.8 523.3 271.7 523.6 272.3 523.8 273.7 524.1 274.3 524.3 274.4 524.6 275.2 524.8 275.8 525 275.6 525.3 275.1 525.5 277.0 525.8 277.0 526 276.8 526.3 275.9 526.5 276.9 526.8 275.5 527 277.0 527.3 275.8 527.5 277.5 527.8 278.7 528 278.3 528.3 279.7 528.5 278.8 528.8 279.1 529 279.1 529.3 280.0 529.5 279.8 529.8 281.0 530 281.5 530.3 280.9 530.5 280.0 530.8 281.5 531 282.3 531.3 282.0 531.5 282.0 531.7 282.7 532 283.3 532.2 280.5 532.5 283.9 532.7 283.5 533 283.5 533.2 283.0 533.5 283.8 533.7 284.3 534 282.9 534.2 284.8 534.5 284.5 534.7 285.8 535 285.4 535.2 284.9 535.5 285.3 535.7 286.0 536 285.8 536.2 286.3 536.5 285.5 536.7 285.2 537 286.0 537.2 285.5 537.5 286.2 537.7 287.3 538 285.9 538.2 286.4 538.5 288.2 538.7 287.3 538.9 287.9 539.2 287.1 539.4 287.4 539.7 288.2 539.9 290.0 540.2 289.2 540.4 287.6 540.7 289.5 540.9 290.1 541.2 290.1 541.4 288.6 541.7 289.7 541.9 291.8 542.2 289.3 542.4 290.6 542.7 289.7 542.9 289.4 543.2 290.3 543.4 291.8 543.7 292.0 543.9 290.3 544.2 290.8 544.4 290.6 544.7 289.7 544.9 292.2 545.2 293.2 545.4 293.3 545.6 291.6 545.9 293.4 546.1 293.3 546.4 292.1 546.6 292.5 546.9 292.3 547.1 293.0 547.4 294.6 547.6 292.1 547.9 292.0 548.1 294.0 548.4 293.4 548.6 291.6 548.9 292.6 549.1 292.8 549.4 293.1 549.6 294.1 549.9 294.9 550.1 293.9 550.4 294.3 550.6 293.5 550.9 295.3 551.1 295.8 551.4 294.3 551.6 293.9 551.9 296.8 552.1 295.8 552.4 294.1 552.6 293.4 552.8 294.9 553.1 296.5 553.3 294.8 553.6 295.2 553.8 295.1 554.1 296.3 554.3 297.2 554.6 294.6 554.8 295.7 555.1 295.9 555.3 295.6 555.6 295.1 555.8 297.3 556.1 296.7 556.3 297.4 556.6 298.4 556.8 296.5 557.1 297.6 557.3 296.7 557.6 297.2 557.8 297.7 558.1 297.3 558.3 296.0 558.6 299.3 558.8 298.0 559.1 296.7 559.3 295.7 559.5 298.2 559.8 299.0 560 299.5 560.3 299.8 560.5 298.3 560.8 299.5 561 297.3 561.3 299.2 561.5 300.2 561.8 298.6 562 299.2 562.3 299.7 562.5 299.8 562.8 301.5 563 298.7 563.3 301.5 563.5 298.8 563.8 299.5 564 299.5 564.3 300.4 564.5 300.1 564.8 301.3 565 300.9 565.3 303.6 565.5 301.6 565.8 301.0 566 301.8 566.3 302.2 566.5 301.4 566.7 300.5 567 301.0 567.2 302.2 567.5 303.1 567.7 302.8 568 302.3 568.2 303.2 568.5 302.1 568.7 303.1 569 304.6 569.2 304.3 569.5 304.7 569.7 302.8 570 303.6 570.2 302.3 570.5 304.7 570.7 303.2 571 302.2 571.2 303.3 571.5 304.4 571.7 301.5 572 302.6 572.2 305.6 572.5 304.6 572.7 304.6 573 302.8 573.2 306.8 573.4 306.2 573.7 305.9 573.9 303.8 574.2 306.0 574.4 306.8 574.7 305.1 574.9 305.3 575.2 305.1 575.4 306.5 575.7 305.6 575.9 305.6 576.2 304.3 576.4 304.1 576.7 307.5 576.9 308.4 577.2 307.6 577.4 308.4 577.7 306.0 577.9 306.7 578.2 307.4 578.4 306.8 578.7 309.3 578.9 305.5 579.2 306.6 579.4 307.0 579.7 306.6 579.9 308.7 580.2 305.1 580.4 309.3 580.6 309.1 580.9 308.4 581.1 309.9 581.4 311.3 581.6 308.5 581.9 309.4 582.1 309.0 582.4 309.3 582.6 308.0 582.9 307.8 583.1 309.7 583.4 308.3 583.6 310.3 583.9 310.3 584.1 308.7 584.4 309.9 584.6 309.6 584.9 309.4 585.1 311.2 585.4 309.8 585.6 310.2 585.9 307.3 586.1 310.9 586.4 308.2 586.6 309.7 586.9 312.5 587.1 312.9 587.3 310.0 587.6 308.9 587.8 311.2 588.1 310.2 588.3 311.3 588.6 309.1 588.8 312.6 589.1 313.3 589.3 309.2 589.6 310.3 589.8 310.4 590.1 312.5 590.3 308.8 590.6 312.0 590.8 311.5 591.1 310.7 591.3 312.9 591.6 309.3 591.8 310.2 592.1 311.1 592.3 313.3 592.6 311.9 592.8 311.3 593.1 313.2 593.3 312.0 593.6 311.8 593.8 312.4 594.1 313.4 594.3 316.9 594.5 311.5 594.8 313.6 595 313.0 595.3 312.9 595.5 315.6 595.8 314.6 596 314.6 596.3 313.0 596.5 312.5 596.8 314.2 597 313.5 597.3 313.1 597.5 315.0 597.8 312.3 598 313.1 598.3 315.5 598.5 314.2 598.8 315.4 599 313.2 599.3 315.7 599.5 313.6 599.8 316.8 600 316.0 600.3 315.6 600.5 317.3 600.8 315.6 601 314.2 601.2 317.6 601.5 315.8 601.7 317.2 602 315.7 602.2 317.3 602.5 314.2 602.7 313.7 603 313.6 603.2 317.0 603.5 312.8 603.7 313.2 604 313.8 604.2 316.4 604.5 316.8 604.7 314.9 605 317.5 605.2 316.8 605.5 318.3 605.7 318.0 606 315.5 606.2 316.9 606.5 316.4 606.7 317.5 607 317.1 607.2 316.9 607.5 318.1 607.7 317.1 608 318.2 608.2 317.2 608.4 317.0 608.7 318.7 608.9 318.9 609.2 319.4 609.4 318.5 609.7 317.2 609.9 317.9 610.2 317.9 610.4 314.9 610.7 316.0 610.9 320.3 611.2 317.8 611.4 313.3 611.7 317.8 611.9 318.3 612.2 316.1 612.4 321.9 612.7 320.1 612.9 319.7 613.2 318.1 613.4 319.2 613.7 319.9 613.9 319.3 614.2 317.5 614.4 319.0 614.7 319.0 614.9 319.3 615.1 317.1 615.4 319.3 615.6 319.0 615.9 319.4 616.1 319.4 616.4 316.7 616.6 320.6 616.9 320.5 617.1 317.0 617.4 319.2 617.6 318.0 617.9 318.7 618.1 321.2 618.4 320.5 618.6 323.0 618.9 319.8 619.1 317.8 619.4 320.0 619.6 315.7 619.9 322.9 620.1 320.4 620.4 320.7 620.6 320.3 620.9 318.6 621.1 319.9 621.4 318.8 621.6 319.4 621.9 320.9 622.1 318.3 622.3 323.2 622.6 318.6 622.8 321.9 623.1 319.4 623.3 318.4 623.6 321.3 623.8 321.0 624.1 320.3 624.3 320.7 624.6 319.7 624.8 321.6 625.1 320.1 625.3 321.0 625.6 322.9 625.8 318.7 626.1 320.1 626.3 319.9 626.6 319.8 626.8 318.9 627.1 320.8 627.3 321.6 627.6 321.2 627.8 318.6 628.1 322.7 628.3 322.8 628.6 321.7 628.8 319.8 629 320.1 629.3 325.2 629.5 324.9 629.8 322.7 630 320.2 630.3 324.2 630.5 322.3 630.8 325.1 631 321.1 631.3 323.0 631.5 321.8 631.8 323.6 632 321.1 632.3 324.0 632.5 321.7 632.8 320.8 633 323.5 633.3 323.0 633.5 318.7 633.8 322.6 634 322.9 634.3 323.1 634.5 326.6 634.8 321.7 635 322.9 635.3 319.8 635.5 320.3 635.8 322.0 636 322.9 636.2 322.8 636.5 324.4 636.7 324.7 637 325.2 637.2 323.1 637.5 324.4 637.7 322.2 638 324.2 638.2 324.5 638.5 322.7 638.7 317.6 639 322.5 639.2 328.7 639.5 323.7 639.7 322.7 640 324.2 640.2 326.1 640.5 324.7 640.7 323.7 641 321.7 641.2 323.7 641.5 322.0 641.7 325.0 642 327.3 642.2 326.5 642.5 323.3 642.7 322.6 642.9 321.9 643.2 325.5 643.4 325.8 643.7 326.3 643.9 325.5 644.2 322.5 644.4 321.1 644.7 327.1 644.9 323.4 645.2 328.7 645.4 321.0 645.7 323.0 645.9 323.4 646.2 325.8 646.4 326.6 646.7 324.2 646.9 326.6 647.2 322.9 647.4 324.5 647.7 323.1 647.9 324.5 648.2 324.4 648.4 326.3 648.7 332.6 648.9 323.0 649.2 325.4 649.4 327.2 649.7 326.1 649.9 328.8 650.1 324.0 650.4 327.6 650.6 324.5 650.9 327.8 651.1 326.6 651.4 326.8 651.6 325.1 651.9 322.6 652.1 324.2 652.4 327.9 652.6 326.0 652.9 328.1 653.1 323.9 653.4 328.0 653.6 328.8 653.9 322.3 654.1 327.5 654.4 330.8 654.6 325.4 654.9 329.0 655.1 327.1 655.4 328.8 655.6 326.3 655.9 325.6 656.1 326.3 656.4 326.5 656.6 326.1 656.8 325.5 657.1 329.7 657.3 326.2 657.6 325.0 657.8 325.6 658.1 328.6 658.3 323.0 658.6 328.7 658.8 329.2 659.1 330.5 659.3 326.9 659.6 326.2 659.8 328.3 660.1 328.3 660.3 330.8 660.6 328.2 660.8 327.2 661.1 325.4 661.3 327.8 661.6 328.4 661.8 330.8 662.1 328.6 662.3 331.3 662.6 331.1 662.8 326.9 663.1 326.1 663.3 327.2 663.6 328.1 663.8 327.0 664 330.2 664.3 330.2 664.5 331.4 664.8 329.5 665 328.0 665.3 329.8 665.5 327.1 665.8 329.4 666 327.5 666.3 331.7 666.5 323.4 666.8 331.1 667 331.2 667.3 329.2 667.5 330.1 667.8 329.9 668 332.3 668.3 333.1 668.5 329.6 668.8 333.2 669 328.2 669.3 330.6 669.5 330.7 669.8 327.0 670 330.6 670.3 328.4 670.5 331.7" fill="none" stroke="#5566f8" stroke-width="1.05" stroke-linejoin="round"/><line x1="497.2" y1="209.2" x2="671" y2="209.2" stroke="#3a3a3a" stroke-width="1"/><line x1="497.2" y1="347.5" x2="671" y2="347.5" stroke="#3a3a3a" stroke-width="1"/><line x1="497.2" y1="209.2" x2="497.2" y2="347.5" stroke="#3a3a3a" stroke-width="1"/><line x1="671" y1="209.2" x2="671" y2="347.5" stroke="#3a3a3a" stroke-width="1"/><line x1="495.4" y1="209.4" x2="497.2" y2="209.4" stroke="#3a3a3a" stroke-width="1"/><text font-size="9.6" text-anchor="end" fill="#1a1a1a" transform="translate(495.6 213) scale(0.95 1)" stroke="#1a1a1a" stroke-width="0.1">10<tspan font-size="6.3" dy="-3.9">0</tspan></text><line x1="496" y1="241.553" x2="497.2" y2="241.553" stroke="#3a3a3a" stroke-width="0.7"/><line x1="496" y1="233.452" x2="497.2" y2="233.452" stroke="#3a3a3a" stroke-width="0.7"/><line x1="496" y1="227.705" x2="497.2" y2="227.705" stroke="#3a3a3a" stroke-width="0.7"/><line x1="496" y1="223.247" x2="497.2" y2="223.247" stroke="#3a3a3a" stroke-width="0.7"/><line x1="496" y1="219.605" x2="497.2" y2="219.605" stroke="#3a3a3a" stroke-width="0.7"/><line x1="496" y1="216.525" x2="497.2" y2="216.525" stroke="#3a3a3a" stroke-width="0.7"/><line x1="496" y1="213.858" x2="497.2" y2="213.858" stroke="#3a3a3a" stroke-width="0.7"/><line x1="496" y1="211.505" x2="497.2" y2="211.505" stroke="#3a3a3a" stroke-width="0.7"/><line x1="495.4" y1="255.4" x2="497.2" y2="255.4" stroke="#3a3a3a" stroke-width="1"/><text font-size="9.6" text-anchor="end" fill="#1a1a1a" transform="translate(495.6 259) scale(0.95 1)" stroke="#1a1a1a" stroke-width="0.1">10<tspan font-size="6.3" dy="-3.9">-1</tspan></text><line x1="496" y1="287.553" x2="497.2" y2="287.553" stroke="#3a3a3a" stroke-width="0.7"/><line x1="496" y1="279.452" x2="497.2" y2="279.452" stroke="#3a3a3a" stroke-width="0.7"/><line x1="496" y1="273.705" x2="497.2" y2="273.705" stroke="#3a3a3a" stroke-width="0.7"/><line x1="496" y1="269.247" x2="497.2" y2="269.247" stroke="#3a3a3a" stroke-width="0.7"/><line x1="496" y1="265.605" x2="497.2" y2="265.605" stroke="#3a3a3a" stroke-width="0.7"/><line x1="496" y1="262.525" x2="497.2" y2="262.525" stroke="#3a3a3a" stroke-width="0.7"/><line x1="496" y1="259.858" x2="497.2" y2="259.858" stroke="#3a3a3a" stroke-width="0.7"/><line x1="496" y1="257.505" x2="497.2" y2="257.505" stroke="#3a3a3a" stroke-width="0.7"/><line x1="495.4" y1="301.4" x2="497.2" y2="301.4" stroke="#3a3a3a" stroke-width="1"/><text font-size="9.6" text-anchor="end" fill="#1a1a1a" transform="translate(495.6 305) scale(0.95 1)" stroke="#1a1a1a" stroke-width="0.1">10<tspan font-size="6.3" dy="-3.9">-2</tspan></text><line x1="496" y1="333.553" x2="497.2" y2="333.553" stroke="#3a3a3a" stroke-width="0.7"/><line x1="496" y1="325.452" x2="497.2" y2="325.452" stroke="#3a3a3a" stroke-width="0.7"/><line x1="496" y1="319.705" x2="497.2" y2="319.705" stroke="#3a3a3a" stroke-width="0.7"/><line x1="496" y1="315.247" x2="497.2" y2="315.247" stroke="#3a3a3a" stroke-width="0.7"/><line x1="496" y1="311.605" x2="497.2" y2="311.605" stroke="#3a3a3a" stroke-width="0.7"/><line x1="496" y1="308.525" x2="497.2" y2="308.525" stroke="#3a3a3a" stroke-width="0.7"/><line x1="496" y1="305.858" x2="497.2" y2="305.858" stroke="#3a3a3a" stroke-width="0.7"/><line x1="496" y1="303.505" x2="497.2" y2="303.505" stroke="#3a3a3a" stroke-width="0.7"/><line x1="495.4" y1="347.4" x2="497.2" y2="347.4" stroke="#3a3a3a" stroke-width="1"/><text font-size="9.6" text-anchor="end" fill="#1a1a1a" transform="translate(495.6 351) scale(0.95 1)" stroke="#1a1a1a" stroke-width="0.1">10<tspan font-size="6.3" dy="-3.9">-3</tspan></text><line x1="497" y1="347.5" x2="497" y2="350.5" stroke="#3a3a3a" stroke-width="1"/><text font-size="10.3" text-anchor="middle" fill="#1a1a1a" transform="translate(497 359.7) scale(0.9 1)" stroke="#1a1a1a" stroke-width="0.1">0</text><line x1="531.7" y1="347.5" x2="531.7" y2="350.5" stroke="#3a3a3a" stroke-width="1"/><text font-size="10.3" text-anchor="middle" fill="#1a1a1a" transform="translate(531.7 359.7) scale(0.9 1)" stroke="#1a1a1a" stroke-width="0.1">20</text><line x1="566.4" y1="347.5" x2="566.4" y2="350.5" stroke="#3a3a3a" stroke-width="1"/><text font-size="10.3" text-anchor="middle" fill="#1a1a1a" transform="translate(566.4 359.7) scale(0.9 1)" stroke="#1a1a1a" stroke-width="0.1">40</text><line x1="601.1" y1="347.5" x2="601.1" y2="350.5" stroke="#3a3a3a" stroke-width="1"/><text font-size="10.3" text-anchor="middle" fill="#1a1a1a" transform="translate(601.1 359.7) scale(0.9 1)" stroke="#1a1a1a" stroke-width="0.1">60</text><line x1="635.8" y1="347.5" x2="635.8" y2="350.5" stroke="#3a3a3a" stroke-width="1"/><text font-size="10.3" text-anchor="middle" fill="#1a1a1a" transform="translate(635.8 359.7) scale(0.9 1)" stroke="#1a1a1a" stroke-width="0.1">80</text><line x1="670.5" y1="347.5" x2="670.5" y2="350.5" stroke="#3a3a3a" stroke-width="1"/><text font-size="10.3" text-anchor="middle" fill="#1a1a1a" transform="translate(670.5 359.7) scale(0.9 1)" stroke="#1a1a1a" stroke-width="0.1">100</text><line x1="514.35" y1="347.5" x2="514.35" y2="349.3" stroke="#3a3a3a" stroke-width="1"/><line x1="549.05" y1="347.5" x2="549.05" y2="349.3" stroke="#3a3a3a" stroke-width="1"/><line x1="583.75" y1="347.5" x2="583.75" y2="349.3" stroke="#3a3a3a" stroke-width="1"/><line x1="618.45" y1="347.5" x2="618.45" y2="349.3" stroke="#3a3a3a" stroke-width="1"/><line x1="653.15" y1="347.5" x2="653.15" y2="349.3" stroke="#3a3a3a" stroke-width="1"/><text font-size="10.3" text-anchor="middle" fill="#1a1a1a" transform="translate(584.8 371.3) scale(1.06 1)" stroke="#1a1a1a" stroke-width="0.1">Decay time (ns)</text><text font-size="10.3" text-anchor="middle" fill="#1a1a1a" transform="translate(474.4 275.8) rotate(-90) scale(1.105 1)" stroke="#1a1a1a" stroke-width="0.1">Normalized PL intensity</text><text x="460.2" y="203.5" font-size="22.5" text-anchor="start" fill="#1a1a1a" stroke="#000" stroke-width="0.15">e</text><line x1="534.4" y1="212" x2="534.4" y2="255.5" stroke="#222" stroke-width="0.7" marker-end="url(#ah)"/><text font-size="9.3" text-anchor="start" fill="#1a1a1a" transform="translate(538 219.5) scale(1.035 1)" stroke="#1a1a1a" stroke-width="0.1">BCN (<tspan font-weight="bold">&#964;</tspan>=9.12 ns)</text><text font-size="9.3" text-anchor="start" fill="#1a1a1a" transform="translate(538 230.2) scale(1.035 1)" stroke="#1a1a1a" stroke-width="0.1">CoO<tspan font-size="6" dy="2" font-style="italic">x</tspan><tspan dy="-2">-BCN (<tspan font-weight="bold">&#964;</tspan>=8.16 ns)</tspan></text><text font-size="9.3" text-anchor="start" fill="#1a1a1a" transform="translate(538 245.5) scale(1.035 1)" stroke="#1a1a1a" stroke-width="0.1">BCN-FeOOH (<tspan font-weight="bold">&#964;</tspan>=7.83 ns)</text><text font-size="9.3" text-anchor="start" fill="#1a1a1a" transform="translate(538 256.2) scale(1.035 1)" stroke="#1a1a1a" stroke-width="0.1">CoO<tspan font-size="6" dy="2" font-style="italic">x</tspan><tspan dy="-2">-BCN-FeOOH (<tspan font-weight="bold">&#964;</tspan>=7.21 ns)</tspan></text><clipPath id="cf"><rect x="34.8" y="398.4" width="173.5" height="138.1"/></clipPath><g clip-path="url(#cf)"><rect x="39.5" y="534.3" width="2.4" height="2.2" fill="#5060f8"/><rect x="39.5" y="531.6" width="2.4" height="2.2" fill="#70c8f0"/><rect x="39.5" y="528.9" width="2.4" height="2.2" fill="#f07070"/><rect x="39.5" y="526.2" width="2.4" height="2.2" fill="#c090e0"/><rect x="39.5" y="523.5" width="2.4" height="2.2" fill="#5060f8"/><rect x="39.5" y="520.8" width="2.4" height="2.2" fill="#70c8f0"/><rect x="39.5" y="518.1" width="2.4" height="2.2" fill="#f07070"/><rect x="39.5" y="515.4" width="2.4" height="2.2" fill="#c090e0"/><rect x="39.5" y="512.7" width="2.4" height="2.2" fill="#5060f8"/><rect x="39.5" y="510" width="2.4" height="2.2" fill="#70c8f0"/><rect x="39.5" y="507.3" width="2.4" height="2.2" fill="#f07070"/><rect x="39.5" y="504.6" width="2.4" height="2.2" fill="#c090e0"/><rect x="39.5" y="501.9" width="2.4" height="2.2" fill="#5060f8"/><rect x="39.5" y="499.2" width="2.4" height="2.2" fill="#70c8f0"/><rect x="39.5" y="496.5" width="2.4" height="2.2" fill="#f07070"/><rect x="39.5" y="493.8" width="2.4" height="2.2" fill="#c090e0"/><rect x="39.5" y="491.1" width="2.4" height="2.2" fill="#5060f8"/><rect x="39.5" y="488.4" width="2.4" height="2.2" fill="#70c8f0"/><rect x="39.5" y="485.7" width="2.4" height="2.2" fill="#f07070"/><rect x="39.5" y="483" width="2.4" height="2.2" fill="#c090e0"/><rect x="39.5" y="480.3" width="2.4" height="2.2" fill="#5060f8"/><rect x="39.5" y="477.6" width="2.4" height="2.2" fill="#70c8f0"/><rect x="39.5" y="474.9" width="2.4" height="2.2" fill="#f07070"/><rect x="39.5" y="472.2" width="2.4" height="2.2" fill="#c090e0"/><rect x="39.5" y="469.5" width="2.4" height="2.2" fill="#5060f8"/><rect x="39.5" y="466.8" width="2.4" height="2.2" fill="#70c8f0"/><line x1="40.7" y1="439.586" x2="40.7" y2="466.619" stroke="#6cc8f0" stroke-width="2.2"/><path d="M41.4 465.7 42.2 466.0 43.0 466.3 43.7 466.6 44.5 466.9 45.3 467.2 46.1 467.5 46.8 467.8 47.6 468.1 48.4 468.4 49.1 468.6 49.9 468.9 50.7 469.2 51.5 469.5 52.2 469.8 53.0 470.1 53.8 470.4 54.5 470.6 55.3 470.9 56.1 471.2 56.9 471.5 57.6 471.7 58.4 472.0 59.2 472.3 59.9 472.6 60.7 472.8 61.5 473.1 62.2 473.4 63.0 473.6 63.8 473.9 64.6 474.2 65.3 474.4 66.1 474.7 66.9 475.0 67.6 475.2 68.4 475.5 69.2 475.8 70.0 476.0 70.7 476.3 71.5 476.6 72.3 476.8 73.0 477.1 73.8 477.3 74.6 477.6 75.4 477.8 76.1 478.1 76.9 478.4 77.7 478.6 78.4 478.9 79.2 479.1 80.0 479.4 80.8 479.6 81.5 479.9 82.3 480.1 83.1 480.4 83.8 480.7 84.6 480.9 85.4 481.2 86.1 481.4 86.9 481.7 87.7 481.9 88.5 482.2 89.2 482.4 90.0 482.7 90.8 482.9 91.5 483.2 92.3 483.4 93.1 483.7 93.9 483.9 94.6 484.2 95.4 484.5 96.2 484.7 96.9 484.9 97.7 485.2 98.5 485.5 99.3 485.8 100.0 486.1 100.8 486.3 101.6 486.5 102.3 486.7 103.1 486.9 103.9 487.1 104.7 487.3 105.4 487.6 106.2 488.0 107.0 488.3 107.7 488.6 108.5 488.8 109.3 488.9 110.0 489.1 110.8 489.3 111.6 489.6 112.4 489.9 113.1 490.3 113.9 490.6 114.7 490.7 115.4 491.1 116.2 491.2 117.0 491.4 117.8 491.5 118.5 491.9 119.3 492.1 120.1 492.4 120.8 492.7 121.6 493.1 122.4 493.3 123.2 493.5 123.9 493.6 124.7 493.8 125.5 493.9 126.2 494.3 127.0 494.7 127.8 494.9 128.6 495.2 129.3 495.3 130.1 495.6 130.9 495.9 131.6 496.2 132.4 496.4 133.2 496.5 133.9 497.0 134.7 497.1 135.5 497.6 136.3 497.6 137.0 498.1 137.8 498.1 138.6 498.5 139.3 498.8 140.1 499.5 140.9 499.7 141.7 499.9 142.4 499.8 143.2 500.3 144.0 500.9 144.7 501.3 145.5 501.8 146.3 502.0 147.1 502.3 147.8 502.4 148.6 502.5 149.4 502.8 150.1 502.8 150.9 503.5 151.7 503.9 152.5 504.4 153.2 504.8 154.0 504.8 154.8 505.3 155.5 505.4 156.3 505.6 157.1 505.9 157.9 506.7 158.6 507.9 159.4 508.2 160.2 508.2 160.9 508.2 161.7 508.3 162.5 508.9 163.2 508.4 164.0 508.7 164.8 508.6 165.6 509.3 166.3 510.2 167.1 510.3 167.9 510.7 168.6 510.7 169.4 511.4 170.2 512.0 171.0 512.7 171.7 513.1 172.5 513.4 173.3 513.5 174.0 513.4 174.8 513.1 175.6 513.6 176.4 514.0 177.1 514.7 177.9 515.0 178.7 515.7 179.4 516.1 180.2 516.2 181.0 516.7 181.8 517.8 182.5 517.9 183.3 518.2 184.1 518.5 184.8 519.5 185.6 519.8 186.4 519.9 187.1 520.4 187.9 521.4 188.7 521.3 189.5 521.3 190.2 521.4 191.0 522.6 191.8 523.4 192.5 523.9 193.3 524.5 194.1 525.0 194.9 526.2 195.6 526.2 196.4 526.3 197.2 525.3 197.9 526.3 198.7 526.9 199.5 527.9 200.3 527.7 201.0 528.9 201.8 529.6 202.6 530.8 203.3 530.0 204.1 530.5 204.9 530.9 205.7 532.6 206.4 533.2 207.2 533.9 208.0 533.2 208.7 533.4 209.5 533.6 210.3 534.8 L210.3 547.4 209.5 546.8 208.7 545.3 208.0 545.7 207.2 544.9 206.4 543.7 205.7 542.5 204.9 542.9 204.1 542.6 203.3 541.0 202.6 539.3 201.8 538.5 201.0 539.8 200.3 539.3 199.5 537.6 198.7 538.7 197.9 539.6 197.2 538.4 196.4 538.6 195.6 536.5 194.9 534.7 194.1 537.3 193.3 536.7 192.5 534.8 191.8 533.4 191.0 532.7 190.2 531.7 189.5 530.9 188.7 531.8 187.9 531.7 187.1 531.5 186.4 530.6 185.6 529.8 184.8 529.4 184.1 527.5 183.3 527.9 182.5 529.7 181.8 528.3 181.0 527.8 180.2 527.7 179.4 526.1 178.7 525.1 177.9 525.3 177.1 525.4 176.4 523.7 175.6 522.6 174.8 523.0 174.0 522.4 173.3 522.5 172.5 522.4 171.7 521.5 171.0 521.3 170.2 521.6 169.4 521.1 168.6 519.7 167.9 519.2 167.1 519.2 166.3 518.6 165.6 518.1 164.8 517.0 164.0 516.6 163.2 517.0 162.5 516.7 161.7 516.2 160.9 515.7 160.2 515.7 159.4 514.9 158.6 514.3 157.9 514.1 157.1 513.7 156.3 513.1 155.5 511.7 154.8 511.2 154.0 511.8 153.2 512.0 152.5 511.2 151.7 510.5 150.9 510.9 150.1 510.4 149.4 509.2 148.6 508.9 147.8 507.7 147.1 507.5 146.3 508.7 145.5 508.3 144.7 507.4 144.0 507.4 143.2 507.5 142.4 507.0 141.7 506.7 140.9 506.7 140.1 505.6 139.3 505.4 138.6 506.0 137.8 505.1 137.0 504.3 136.3 504.3 135.5 504.3 134.7 503.7 133.9 502.9 133.2 502.5 132.4 502.4 131.6 502.0 130.9 502.0 130.1 501.6 129.3 501.2 128.6 501.5 127.8 501.4 127.0 500.7 126.2 500.3 125.5 499.9 124.7 499.6 123.9 499.9 123.2 499.5 122.4 498.8 121.6 498.3 120.8 498.1 120.1 497.9 119.3 497.9 118.5 497.7 117.8 497.1 117.0 496.8 116.2 496.5 115.4 496.0 114.7 495.7 113.9 495.3 113.1 495.3 112.4 494.9 111.6 494.6 110.8 494.3 110.0 493.9 109.3 493.7 108.5 493.5 107.7 493.2 107.0 492.8 106.2 492.5 105.4 492.3 104.7 492.0 103.9 491.7 103.1 491.5 102.3 491.3 101.6 491.0 100.8 490.7 100.0 490.5 99.3 490.2 98.5 489.9 97.7 489.6 96.9 489.4 96.2 489.1 95.4 488.9 94.6 488.6 93.9 488.3 93.1 488.1 92.3 487.8 91.5 487.6 90.8 487.3 90.0 487.1 89.2 486.8 88.5 486.6 87.7 486.3 86.9 486.1 86.1 485.8 85.4 485.6 84.6 485.3 83.8 485.1 83.1 484.8 82.3 484.5 81.5 484.3 80.8 484.0 80.0 483.8 79.2 483.5 78.4 483.3 77.7 483.0 76.9 482.8 76.1 482.5 75.4 482.2 74.6 482.0 73.8 481.7 73.0 481.5 72.3 481.2 71.5 481.0 70.7 480.7 70.0 480.4 69.2 480.2 68.4 479.9 67.6 479.6 66.9 479.4 66.1 479.1 65.3 478.8 64.6 478.6 63.8 478.3 63.0 478.0 62.2 477.8 61.5 477.5 60.7 477.2 59.9 477.0 59.2 476.7 58.4 476.4 57.6 476.1 56.9 475.9 56.1 475.6 55.3 475.3 54.5 475.0 53.8 474.8 53.0 474.5 52.2 474.2 51.5 473.9 50.7 473.6 49.9 473.3 49.1 473.0 48.4 472.8 47.6 472.5 46.8 472.2 46.1 471.9 45.3 471.6 44.5 471.3 43.7 471.0 43.0 470.7 42.2 470.4 41.4 470.1Z" fill="#bba3e0"/><path d="M41.4 466.9 42.2 467.2 43 467.5 43.7 467.8 44.5 468.1 45.3 468.4 46.1 468.7 46.8 469.0 47.6 469.3 48.4 469.6 49.1 469.8 49.9 470.1 50.7 470.4 51.5 470.7 52.2 471.0 53 471.3 53.8 471.6 54.5 471.8 55.3 472.1 56.1 472.4 56.9 472.7 57.6 472.9 58.4 473.2 59.2 473.5 59.9 473.8 60.7 474.0 61.5 474.3 62.2 474.6 63 474.8 63.8 475.1 64.6 475.4 65.3 475.6 66.1 475.9 66.9 476.2 67.6 476.4 68.4 476.7 69.2 477.0 70 477.2 70.7 477.5 71.5 477.8 72.3 478.0 73 478.3 73.8 478.5 74.6 478.8 75.4 479.0 76.1 479.3 76.9 479.6 77.7 479.8 78.4 480.1 79.2 480.3 80 480.6 80.8 480.8 81.5 481.1 82.3 481.3 83.1 481.6 83.8 481.9 84.6 482.1 85.4 482.4 86.1 482.6 86.9 482.9 87.7 483.1 88.5 483.4 89.2 483.6 90 483.9 90.8 484.1 91.5 484.4 92.3 484.6 93.1 484.9 93.9 485.1 94.6 485.4 95.4 485.7 96.2 485.9 96.9 486.2 97.7 486.4 98.5 486.7 99.3 486.9 100 487.2 100.8 487.4 101.6 487.7 102.3 487.9 103.1 488.2 103.9 488.5 104.7 488.7 105.4 489.0 106.2 489.2 107 489.5 107.7 489.7 108.5 490.0 109.3 490.3 110 490.5 110.8 490.8 111.6 491.1 112.4 491.3 113.1 491.6 113.9 491.8 114.7 492.1 115.4 492.4 116.2 492.6 117 492.9 117.8 493.2 118.5 493.5 119.3 493.7 120.1 494.0 120.8 494.3 121.6 494.5 122.4 494.8 123.2 495.1 123.9 495.4 124.7 495.6 125.5 495.9 126.2 496.2 127 496.5 127.8 496.8 128.6 497.1 129.3 497.3 130.1 497.6 130.9 497.9 131.6 498.2 132.4 498.5 133.2 498.8 133.9 499.1 134.7 499.4 135.5 499.7 136.3 500.0 137 500.3 137.8 500.6 138.6 500.9 139.3 501.2 140.1 501.5 140.9 501.8 141.7 502.1 142.4 502.4 143.2 502.7 144 503.0 144.7 503.4 145.5 503.7 146.3 504.0 147.1 504.3 147.8 504.6 148.6 505.0 149.4 505.3 150.1 505.6 150.9 506.0 151.7 506.3 152.5 506.6 153.2 507.0 154 507.3 154.8 507.6 155.5 508.0 156.3 508.3 157.1 508.7 157.9 509.0 158.6 509.4 159.4 509.7 160.2 510.1 160.9 510.5 161.7 510.8 162.5 511.2 163.2 511.6 164 511.9 164.8 512.3 165.6 512.7 166.3 513.1 167.1 513.4 167.9 513.8 168.6 514.2 169.4 514.6 170.2 515.0 171 515.4 171.7 515.8 172.5 516.2 173.3 516.6 174 517.0 174.8 517.4 175.6 517.8 176.4 518.2 177.1 518.6 177.9 519.0 178.7 519.4 179.4 519.9 180.2 520.3 181 520.7 181.8 521.2 182.5 521.6 183.3 522.0 184.1 522.5 184.8 522.9 185.6 523.4 186.4 523.8 187.1 524.3 187.9 524.7 188.7 525.2 189.5 525.7 190.2 526.1 191 526.6 191.8 527.1 192.5 527.5 193.3 528.0 194.1 528.5 194.9 529.0 195.6 529.5 196.4 530.0 197.2 530.5 197.9 531.0 198.7 531.5 199.5 532.0 200.3 532.5 201 533.0 201.8 533.5 202.6 534.1 203.3 534.6 204.1 535.1 204.9 535.7 205.7 536.2 206.4 536.7 207.2 537.3 208 537.8 208.7 538.4 209.5 539.0 210.3 539.5" fill="none" stroke="#e040e0" stroke-width="0.9" stroke-linejoin="round"/><path d="M41.4 451.0 42.2 451.3 43.0 451.6 43.7 451.9 44.5 452.3 45.3 452.6 46.1 452.9 46.8 453.2 47.6 453.6 48.4 453.9 49.1 454.2 49.9 454.5 50.7 454.8 51.5 455.1 52.2 455.4 53.0 455.7 53.8 456.0 54.5 456.4 55.3 456.7 56.1 457.0 56.9 457.3 57.6 457.6 58.4 457.9 59.2 458.2 59.9 458.5 60.7 458.7 61.5 459.0 62.2 459.3 63.0 459.6 63.8 459.9 64.6 460.2 65.3 460.5 66.1 460.8 66.9 461.1 67.6 461.3 68.4 461.6 69.2 461.9 70.0 462.2 70.7 462.5 71.5 462.7 72.3 463.0 73.0 463.3 73.8 463.6 74.6 463.8 75.4 464.1 76.1 464.4 76.9 464.7 77.7 464.9 78.4 465.2 79.2 465.5 80.0 465.7 80.8 466.0 81.5 466.3 82.3 466.5 83.1 466.8 83.8 467.1 84.6 467.3 85.4 467.6 86.1 467.9 86.9 468.1 87.7 468.4 88.5 468.7 89.2 468.9 90.0 469.2 90.8 469.4 91.5 469.7 92.3 470.0 93.1 470.2 93.9 470.5 94.6 470.7 95.4 471.0 96.2 471.2 96.9 471.5 97.7 471.8 98.5 472.0 99.3 472.3 100.0 472.5 100.8 472.8 101.6 473.0 102.3 473.3 103.1 473.5 103.9 473.8 104.7 474.1 105.4 474.3 106.2 474.6 107.0 474.8 107.7 475.1 108.5 475.3 109.3 475.6 110.0 475.8 110.8 476.1 111.6 476.3 112.4 476.6 113.1 476.9 113.9 477.1 114.7 477.4 115.4 477.6 116.2 477.9 117.0 478.1 117.8 478.4 118.5 478.6 119.3 478.9 120.1 479.2 120.8 479.4 121.6 479.7 122.4 479.9 123.2 480.2 123.9 480.4 124.7 480.7 125.5 481.0 126.2 481.2 127.0 481.5 127.8 481.7 128.6 482.0 129.3 482.3 130.1 482.5 130.9 482.8 131.6 483.1 132.4 483.3 133.2 483.6 133.9 483.9 134.7 484.1 135.5 484.4 136.3 484.7 137.0 484.9 137.8 485.2 138.6 485.5 139.3 485.7 140.1 486.0 140.9 486.3 141.7 486.6 142.4 486.8 143.2 487.1 144.0 487.4 144.7 487.7 145.5 487.9 146.3 488.2 147.1 488.5 147.8 488.8 148.6 489.1 149.4 489.3 150.1 489.6 150.9 489.9 151.7 490.2 152.5 490.5 153.2 490.8 154.0 491.1 154.8 491.4 155.5 491.7 156.3 491.9 157.1 492.2 157.9 492.5 158.6 492.8 159.4 493.1 160.2 493.4 160.9 493.7 161.7 494.0 162.5 494.4 163.2 494.6 164.0 494.9 164.8 495.2 165.6 495.5 166.3 495.8 167.1 496.1 167.9 496.4 168.6 496.7 169.4 497.1 170.2 497.4 171.0 497.7 171.7 498.0 172.5 498.3 173.3 498.6 174.0 498.9 174.8 499.2 175.6 499.6 176.4 499.9 177.1 500.2 177.9 500.5 178.7 500.9 179.4 501.2 180.2 501.5 181.0 501.9 181.8 502.2 182.5 502.5 183.3 502.9 184.1 503.2 184.8 503.6 185.6 503.9 186.4 504.2 187.1 504.6 187.9 505.0 188.7 505.3 189.5 505.7 190.2 506.0 191.0 506.4 191.8 506.7 192.5 507.1 193.3 507.5 194.1 507.8 194.9 508.2 195.6 508.6 196.4 509.0 197.2 509.3 197.9 509.7 198.7 510.1 199.5 510.5 200.3 510.9 201.0 511.3 201.8 511.7 202.6 512.1 203.3 512.5 204.1 512.9 204.9 513.3 205.7 513.7 206.4 514.1 207.2 514.5 208.0 514.9 208.7 515.3 209.5 515.8 210.3 516.2 L210.3 520.8 209.5 520.4 208.7 519.9 208.0 519.5 207.2 519.1 206.4 518.7 205.7 518.2 204.9 517.8 204.1 517.4 203.3 516.9 202.6 516.5 201.8 516.1 201.0 515.7 200.3 515.3 199.5 514.9 198.7 514.4 197.9 514.0 197.2 513.6 196.4 513.2 195.6 512.8 194.9 512.4 194.1 512.0 193.3 511.6 192.5 511.3 191.8 510.9 191.0 510.5 190.2 510.1 189.5 509.7 188.7 509.3 187.9 509.0 187.1 508.6 186.4 508.2 185.6 507.8 184.8 507.5 184.1 507.1 183.3 506.7 182.5 506.4 181.8 506.0 181.0 505.6 180.2 505.3 179.4 504.9 178.7 504.6 177.9 504.2 177.1 503.9 176.4 503.5 175.6 503.2 174.8 502.8 174.0 502.5 173.3 502.1 172.5 501.8 171.7 501.5 171.0 501.1 170.2 500.8 169.4 500.5 168.6 500.1 167.9 499.8 167.1 499.5 166.3 499.2 165.6 498.8 164.8 498.5 164.0 498.2 163.2 497.9 162.5 497.6 161.7 497.2 160.9 496.9 160.2 496.6 159.4 496.3 158.6 496.0 157.9 495.7 157.1 495.4 156.3 495.1 155.5 494.9 154.8 494.6 154.0 494.3 153.2 494.0 152.5 493.7 151.7 493.4 150.9 493.1 150.1 492.8 149.4 492.5 148.6 492.3 147.8 492.0 147.1 491.7 146.3 491.4 145.5 491.1 144.7 490.9 144.0 490.6 143.2 490.3 142.4 490.0 141.7 489.8 140.9 489.5 140.1 489.2 139.3 488.9 138.6 488.7 137.8 488.4 137.0 488.1 136.3 487.9 135.5 487.6 134.7 487.3 133.9 487.1 133.2 486.8 132.4 486.5 131.6 486.3 130.9 486.0 130.1 485.7 129.3 485.5 128.6 485.2 127.8 484.9 127.0 484.7 126.2 484.4 125.5 484.2 124.7 483.9 123.9 483.6 123.2 483.4 122.4 483.1 121.6 482.9 120.8 482.6 120.1 482.4 119.3 482.1 118.5 481.8 117.8 481.6 117.0 481.3 116.2 481.1 115.4 480.8 114.7 480.6 113.9 480.3 113.1 480.1 112.4 479.8 111.6 479.5 110.8 479.3 110.0 479.0 109.3 478.8 108.5 478.5 107.7 478.3 107.0 478.0 106.2 477.8 105.4 477.5 104.7 477.3 103.9 477.0 103.1 476.7 102.3 476.5 101.6 476.2 100.8 476.0 100.0 475.7 99.3 475.5 98.5 475.2 97.7 475.0 96.9 474.7 96.2 474.4 95.4 474.2 94.6 473.9 93.9 473.7 93.1 473.4 92.3 473.2 91.5 472.9 90.8 472.6 90.0 472.4 89.2 472.1 88.5 471.9 87.7 471.6 86.9 471.3 86.1 471.1 85.4 470.8 84.6 470.5 83.8 470.3 83.1 470.0 82.3 469.7 81.5 469.5 80.8 469.2 80.0 468.9 79.2 468.7 78.4 468.4 77.7 468.1 76.9 467.9 76.1 467.6 75.4 467.3 74.6 467.0 73.8 466.8 73.0 466.5 72.3 466.2 71.5 465.9 70.7 465.7 70.0 465.4 69.2 465.1 68.4 464.8 67.6 464.5 66.9 464.3 66.1 464.0 65.3 463.7 64.6 463.4 63.8 463.1 63.0 462.8 62.2 462.5 61.5 462.2 60.7 461.9 59.9 461.7 59.2 461.4 58.4 461.1 57.6 460.8 56.9 460.5 56.1 460.2 55.3 459.9 54.5 459.6 53.8 459.2 53.0 458.9 52.2 458.6 51.5 458.3 50.7 458.0 49.9 457.7 49.1 457.4 48.4 457.1 47.6 456.8 46.8 456.4 46.1 456.1 45.3 455.8 44.5 455.5 43.7 455.1 43.0 454.8 42.2 454.5 41.4 454.2Z" fill="#3444f4"/><path d="M41.4 452.6 42.2 452.9 43 453.2 43.7 453.5 44.5 453.9 45.3 454.2 46.1 454.5 46.8 454.8 47.6 455.2 48.4 455.5 49.1 455.8 49.9 456.1 50.7 456.4 51.5 456.7 52.2 457.0 53 457.3 53.8 457.6 54.5 458.0 55.3 458.3 56.1 458.6 56.9 458.9 57.6 459.2 58.4 459.5 59.2 459.8 59.9 460.1 60.7 460.3 61.5 460.6 62.2 460.9 63 461.2 63.8 461.5 64.6 461.8 65.3 462.1 66.1 462.4 66.9 462.7 67.6 462.9 68.4 463.2 69.2 463.5 70 463.8 70.7 464.1 71.5 464.3 72.3 464.6 73 464.9 73.8 465.2 74.6 465.4 75.4 465.7 76.1 466.0 76.9 466.3 77.7 466.5 78.4 466.8 79.2 467.1 80 467.3 80.8 467.6 81.5 467.9 82.3 468.1 83.1 468.4 83.8 468.7 84.6 468.9 85.4 469.2 86.1 469.5 86.9 469.7 87.7 470.0 88.5 470.3 89.2 470.5 90 470.8 90.8 471.0 91.5 471.3 92.3 471.6 93.1 471.8 93.9 472.1 94.6 472.3 95.4 472.6 96.2 472.8 96.9 473.1 97.7 473.4 98.5 473.6 99.3 473.9 100 474.1 100.8 474.4 101.6 474.6 102.3 474.9 103.1 475.1 103.9 475.4 104.7 475.7 105.4 475.9 106.2 476.2 107 476.4 107.7 476.7 108.5 476.9 109.3 477.2 110 477.4 110.8 477.7 111.6 477.9 112.4 478.2 113.1 478.5 113.9 478.7 114.7 479.0 115.4 479.2 116.2 479.5 117 479.7 117.8 480.0 118.5 480.2 119.3 480.5 120.1 480.8 120.8 481.0 121.6 481.3 122.4 481.5 123.2 481.8 123.9 482.0 124.7 482.3 125.5 482.6 126.2 482.8 127 483.1 127.8 483.3 128.6 483.6 129.3 483.9 130.1 484.1 130.9 484.4 131.6 484.7 132.4 484.9 133.2 485.2 133.9 485.5 134.7 485.7 135.5 486.0 136.3 486.3 137 486.5 137.8 486.8 138.6 487.1 139.3 487.3 140.1 487.6 140.9 487.9 141.7 488.2 142.4 488.4 143.2 488.7 144 489.0 144.7 489.3 145.5 489.5 146.3 489.8 147.1 490.1 147.8 490.4 148.6 490.7 149.4 490.9 150.1 491.2 150.9 491.5 151.7 491.8 152.5 492.1 153.2 492.4 154 492.7 154.8 493.0 155.5 493.3 156.3 493.5 157.1 493.8 157.9 494.1 158.6 494.4 159.4 494.7 160.2 495.0 160.9 495.3 161.7 495.6 162.5 496.0 163.2 496.3 164 496.6 164.8 496.9 165.6 497.2 166.3 497.5 167.1 497.8 167.9 498.1 168.6 498.4 169.4 498.8 170.2 499.1 171 499.4 171.7 499.7 172.5 500.1 173.3 500.4 174 500.7 174.8 501.0 175.6 501.4 176.4 501.7 177.1 502.0 177.9 502.4 178.7 502.7 179.4 503.1 180.2 503.4 181 503.8 181.8 504.1 182.5 504.4 183.3 504.8 184.1 505.2 184.8 505.5 185.6 505.9 186.4 506.2 187.1 506.6 187.9 507.0 188.7 507.3 189.5 507.7 190.2 508.1 191 508.4 191.8 508.8 192.5 509.2 193.3 509.6 194.1 509.9 194.9 510.3 195.6 510.7 196.4 511.1 197.2 511.5 197.9 511.9 198.7 512.3 199.5 512.7 200.3 513.1 201 513.5 201.8 513.9 202.6 514.3 203.3 514.7 204.1 515.1 204.9 515.5 205.7 515.9 206.4 516.4 207.2 516.8 208 517.2 208.7 517.6 209.5 518.1 210.3 518.5" fill="none" stroke="#1c28c8" stroke-width="0.7" stroke-linejoin="round"/><path d="M41.4 444.2 42.2 444.6 43.0 444.9 43.7 445.2 44.5 445.5 45.3 445.8 46.1 446.1 46.8 446.4 47.6 446.7 48.4 447.0 49.1 447.3 49.9 447.6 50.7 447.9 51.5 448.2 52.2 448.4 53.0 448.7 53.8 449.0 54.5 449.3 55.3 449.6 56.1 449.9 56.9 450.2 57.6 450.4 58.4 450.7 59.2 451.0 59.9 451.3 60.7 451.5 61.5 451.8 62.2 452.1 63.0 452.4 63.8 452.6 64.6 452.9 65.3 453.2 66.1 453.4 66.9 453.7 67.6 454.0 68.4 454.2 69.2 454.5 70.0 454.8 70.7 455.0 71.5 455.3 72.3 455.6 73.0 455.8 73.8 456.1 74.6 456.4 75.4 456.6 76.1 456.9 76.9 457.1 77.7 457.4 78.4 457.7 79.2 457.9 80.0 458.2 80.8 458.4 81.5 458.7 82.3 458.9 83.1 459.2 83.8 459.5 84.6 459.7 85.4 460.0 86.1 460.2 86.9 460.5 87.7 460.7 88.5 461.0 89.2 461.2 90.0 461.5 90.8 461.8 91.5 462.0 92.3 462.3 93.1 462.5 93.9 462.8 94.6 463.0 95.4 463.3 96.2 463.6 96.9 463.8 97.7 464.1 98.5 464.3 99.3 464.6 100.0 464.8 100.8 465.1 101.6 465.4 102.3 465.6 103.1 465.9 103.9 466.1 104.7 466.4 105.4 466.7 106.2 466.9 107.0 467.2 107.7 467.5 108.5 467.7 109.3 468.0 110.0 468.3 110.8 468.5 111.6 468.8 112.4 469.1 113.1 469.3 113.9 469.6 114.7 469.9 115.4 470.2 116.2 470.4 117.0 470.7 117.8 471.0 118.5 471.3 119.3 471.5 120.1 471.8 120.8 472.1 121.6 472.4 122.4 472.7 123.2 472.9 123.9 473.2 124.7 473.5 125.5 473.8 126.2 474.1 127.0 474.4 127.8 474.7 128.6 475.0 129.3 475.3 130.1 475.6 130.9 475.9 131.6 476.2 132.4 476.5 133.2 476.8 133.9 477.1 134.7 477.4 135.5 477.7 136.3 478.0 137.0 478.3 137.8 478.6 138.6 479.0 139.3 479.3 140.1 479.6 140.9 479.9 141.7 480.2 142.4 480.6 143.2 480.9 144.0 481.2 144.7 481.6 145.5 481.9 146.3 482.2 147.1 482.6 147.8 482.9 148.6 483.3 149.4 483.6 150.1 484.0 150.9 484.3 151.7 484.7 152.5 485.0 153.2 485.4 154.0 485.7 154.8 486.1 155.5 486.5 156.3 486.8 157.1 487.2 157.9 487.6 158.6 487.9 159.4 488.3 160.2 488.7 160.9 489.1 161.7 489.5 162.5 489.9 163.2 490.2 164.0 490.6 164.8 491.0 165.6 491.4 166.3 491.8 167.1 492.2 167.9 492.6 168.6 493.0 169.4 493.4 170.2 493.8 171.0 494.2 171.7 494.6 172.5 495.0 173.3 495.4 174.0 495.9 174.8 496.3 175.6 496.7 176.4 497.2 177.1 497.6 177.9 498.0 178.7 498.5 179.4 498.9 180.2 499.4 181.0 499.8 181.8 500.3 182.5 500.7 183.3 501.2 184.1 501.7 184.8 502.1 185.6 502.6 186.4 503.1 187.1 503.6 187.9 504.1 188.7 504.5 189.5 505.0 190.2 505.5 191.0 506.0 191.8 506.5 192.5 507.0 193.3 507.6 194.1 508.1 194.9 508.6 195.6 509.1 196.4 509.6 197.2 510.2 197.9 510.7 198.7 511.3 199.5 511.8 200.3 512.4 201.0 512.9 201.8 513.5 202.6 514.0 203.3 514.6 204.1 515.2 204.9 515.7 205.7 516.3 206.4 516.9 207.2 517.5 208.0 518.1 208.7 518.7 209.5 519.3 210.3 520.0 L210.3 524.6 209.5 523.9 208.7 523.3 208.0 522.7 207.2 522.1 206.4 521.5 205.7 520.9 204.9 520.3 204.1 519.7 203.3 519.1 202.6 518.5 201.8 517.9 201.0 517.3 200.3 516.7 199.5 516.1 198.7 515.6 197.9 515.0 197.2 514.4 196.4 513.9 195.6 513.3 194.9 512.8 194.1 512.2 193.3 511.7 192.5 511.2 191.8 510.6 191.0 510.1 190.2 509.6 189.5 509.0 188.7 508.5 187.9 508.0 187.1 507.5 186.4 507.0 185.6 506.5 184.8 506.0 184.1 505.5 183.3 505.0 182.5 504.5 181.8 504.0 181.0 503.5 180.2 503.1 179.4 502.6 178.7 502.1 177.9 501.6 177.1 501.2 176.4 500.7 175.6 500.3 174.8 499.8 174.0 499.4 173.3 498.9 172.5 498.5 171.7 498.0 171.0 497.6 170.2 497.1 169.4 496.7 168.6 496.3 167.9 495.9 167.1 495.4 166.3 495.0 165.6 494.6 164.8 494.2 164.0 493.8 163.2 493.4 162.5 493.0 161.7 492.6 160.9 492.2 160.2 491.8 159.4 491.4 158.6 491.0 157.9 490.7 157.1 490.3 156.3 489.9 155.5 489.6 154.8 489.2 154.0 488.8 153.2 488.5 152.5 488.1 151.7 487.8 150.9 487.4 150.1 487.1 149.4 486.7 148.6 486.4 147.8 486.0 147.1 485.7 146.3 485.3 145.5 485.0 144.7 484.7 144.0 484.3 143.2 484.0 142.4 483.7 141.7 483.3 140.9 483.0 140.1 482.7 139.3 482.4 138.6 482.1 137.8 481.7 137.0 481.4 136.3 481.1 135.5 480.8 134.7 480.5 133.9 480.2 133.2 479.9 132.4 479.6 131.6 479.3 130.9 479.0 130.1 478.7 129.3 478.4 128.6 478.1 127.8 477.8 127.0 477.5 126.2 477.2 125.5 476.9 124.7 476.6 123.9 476.3 123.2 476.0 122.4 475.8 121.6 475.5 120.8 475.2 120.1 474.9 119.3 474.6 118.5 474.4 117.8 474.1 117.0 473.8 116.2 473.5 115.4 473.3 114.7 473.0 113.9 472.7 113.1 472.4 112.4 472.2 111.6 471.9 110.8 471.6 110.0 471.4 109.3 471.1 108.5 470.8 107.7 470.6 107.0 470.3 106.2 470.0 105.4 469.8 104.7 469.5 103.9 469.2 103.1 469.0 102.3 468.7 101.6 468.5 100.8 468.2 100.0 467.9 99.3 467.7 98.5 467.4 97.7 467.2 96.9 466.9 96.2 466.7 95.4 466.4 94.6 466.1 93.9 465.9 93.1 465.6 92.3 465.4 91.5 465.1 90.8 464.9 90.0 464.6 89.2 464.3 88.5 464.1 87.7 463.8 86.9 463.6 86.1 463.3 85.4 463.1 84.6 462.8 83.8 462.6 83.1 462.3 82.3 462.0 81.5 461.8 80.8 461.5 80.0 461.3 79.2 461.0 78.4 460.8 77.7 460.5 76.9 460.2 76.1 460.0 75.4 459.7 74.6 459.5 73.8 459.2 73.0 458.9 72.3 458.7 71.5 458.4 70.7 458.1 70.0 457.9 69.2 457.6 68.4 457.3 67.6 457.1 66.9 456.8 66.1 456.5 65.3 456.3 64.6 456.0 63.8 455.7 63.0 455.5 62.2 455.2 61.5 454.9 60.7 454.6 59.9 454.4 59.2 454.1 58.4 453.8 57.6 453.5 56.9 453.3 56.1 453.0 55.3 452.7 54.5 452.4 53.8 452.1 53.0 451.8 52.2 451.5 51.5 451.3 50.7 451.0 49.9 450.7 49.1 450.4 48.4 450.1 47.6 449.8 46.8 449.5 46.1 449.2 45.3 448.9 44.5 448.6 43.7 448.3 43.0 448.0 42.2 447.7 41.4 447.3Z" fill="#f04c5e"/><path d="M41.4 445.8 42.2 446.1 43 446.4 43.7 446.7 44.5 447.0 45.3 447.3 46.1 447.6 46.8 447.9 47.6 448.2 48.4 448.5 49.1 448.8 49.9 449.1 50.7 449.4 51.5 449.7 52.2 450.0 53 450.3 53.8 450.6 54.5 450.9 55.3 451.1 56.1 451.4 56.9 451.7 57.6 452.0 58.4 452.3 59.2 452.5 59.9 452.8 60.7 453.1 61.5 453.4 62.2 453.6 63 453.9 63.8 454.2 64.6 454.5 65.3 454.7 66.1 455.0 66.9 455.3 67.6 455.5 68.4 455.8 69.2 456.1 70 456.3 70.7 456.6 71.5 456.9 72.3 457.1 73 457.4 73.8 457.6 74.6 457.9 75.4 458.2 76.1 458.4 76.9 458.7 77.7 458.9 78.4 459.2 79.2 459.5 80 459.7 80.8 460.0 81.5 460.2 82.3 460.5 83.1 460.7 83.8 461.0 84.6 461.3 85.4 461.5 86.1 461.8 86.9 462.0 87.7 462.3 88.5 462.5 89.2 462.8 90 463.1 90.8 463.3 91.5 463.6 92.3 463.8 93.1 464.1 93.9 464.3 94.6 464.6 95.4 464.8 96.2 465.1 96.9 465.4 97.7 465.6 98.5 465.9 99.3 466.1 100 466.4 100.8 466.7 101.6 466.9 102.3 467.2 103.1 467.4 103.9 467.7 104.7 468.0 105.4 468.2 106.2 468.5 107 468.7 107.7 469.0 108.5 469.3 109.3 469.5 110 469.8 110.8 470.1 111.6 470.3 112.4 470.6 113.1 470.9 113.9 471.2 114.7 471.4 115.4 471.7 116.2 472.0 117 472.3 117.8 472.5 118.5 472.8 119.3 473.1 120.1 473.4 120.8 473.6 121.6 473.9 122.4 474.2 123.2 474.5 123.9 474.8 124.7 475.1 125.5 475.4 126.2 475.6 127 475.9 127.8 476.2 128.6 476.5 129.3 476.8 130.1 477.1 130.9 477.4 131.6 477.7 132.4 478.0 133.2 478.3 133.9 478.6 134.7 478.9 135.5 479.2 136.3 479.6 137 479.9 137.8 480.2 138.6 480.5 139.3 480.8 140.1 481.1 140.9 481.5 141.7 481.8 142.4 482.1 143.2 482.4 144 482.8 144.7 483.1 145.5 483.4 146.3 483.8 147.1 484.1 147.8 484.5 148.6 484.8 149.4 485.2 150.1 485.5 150.9 485.9 151.7 486.2 152.5 486.6 153.2 486.9 154 487.3 154.8 487.6 155.5 488.0 156.3 488.4 157.1 488.7 157.9 489.1 158.6 489.5 159.4 489.9 160.2 490.3 160.9 490.6 161.7 491.0 162.5 491.4 163.2 491.8 164 492.2 164.8 492.6 165.6 493.0 166.3 493.4 167.1 493.8 167.9 494.2 168.6 494.6 169.4 495.0 170.2 495.5 171 495.9 171.7 496.3 172.5 496.7 173.3 497.2 174 497.6 174.8 498.0 175.6 498.5 176.4 498.9 177.1 499.4 177.9 499.8 178.7 500.3 179.4 500.7 180.2 501.2 181 501.7 181.8 502.1 182.5 502.6 183.3 503.1 184.1 503.6 184.8 504.1 185.6 504.5 186.4 505.0 187.1 505.5 187.9 506.0 188.7 506.5 189.5 507.0 190.2 507.5 191 508.1 191.8 508.6 192.5 509.1 193.3 509.6 194.1 510.2 194.9 510.7 195.6 511.2 196.4 511.8 197.2 512.3 197.9 512.9 198.7 513.4 199.5 514.0 200.3 514.5 201 515.1 201.8 515.7 202.6 516.3 203.3 516.8 204.1 517.4 204.9 518.0 205.7 518.6 206.4 519.2 207.2 519.8 208 520.4 208.7 521.0 209.5 521.6 210.3 522.3" fill="none" stroke="#c8283a" stroke-width="0.7" stroke-linejoin="round"/><path d="M41.4 437.7 42.2 438.0 43.0 438.2 43.7 438.4 44.5 438.7 45.3 438.9 46.1 439.2 46.8 439.4 47.6 439.7 48.4 439.9 49.1 440.1 49.9 440.4 50.7 440.6 51.5 440.9 52.2 441.1 53.0 441.4 53.8 441.6 54.5 441.8 55.3 442.1 56.1 442.3 56.9 442.5 57.6 442.8 58.4 443.0 59.2 443.3 59.9 443.5 60.7 443.7 61.5 444.0 62.2 444.2 63.0 444.5 63.8 444.7 64.6 444.9 65.3 445.2 66.1 445.4 66.9 445.6 67.6 445.9 68.4 446.1 69.2 446.4 70.0 446.6 70.7 446.8 71.5 447.1 72.3 447.3 73.0 447.5 73.8 447.8 74.6 448.0 75.4 448.3 76.1 448.5 76.9 448.7 77.7 449.0 78.4 449.2 79.2 449.4 80.0 449.7 80.8 449.9 81.5 450.2 82.3 450.4 83.1 450.6 83.8 450.9 84.6 451.1 85.4 451.4 86.1 451.6 86.9 451.8 87.7 452.1 88.5 452.3 89.2 452.6 90.0 452.8 90.8 453.0 91.5 453.3 92.3 453.5 93.1 453.8 93.9 454.0 94.6 454.2 95.4 454.5 96.2 454.7 96.9 455.0 97.7 455.2 98.5 455.5 99.3 455.7 100.0 455.9 100.8 456.2 101.6 456.4 102.3 456.7 103.1 456.9 103.9 457.2 104.7 457.4 105.4 457.7 106.2 457.9 107.0 458.2 107.7 458.4 108.5 458.7 109.3 458.9 110.0 459.2 110.8 459.4 111.6 459.7 112.4 459.9 113.1 460.2 113.9 460.4 114.7 460.7 115.4 460.9 116.2 461.2 117.0 461.5 117.8 461.7 118.5 462.0 119.3 462.2 120.1 462.5 120.8 462.8 121.6 463.0 122.4 463.3 123.2 463.5 123.9 463.8 124.7 464.1 125.5 464.3 126.2 464.6 127.0 464.9 127.8 465.1 128.6 465.4 129.3 465.7 130.1 465.9 130.9 466.2 131.6 466.5 132.4 466.7 133.2 467.0 133.9 467.3 134.7 467.6 135.5 467.8 136.3 468.1 137.0 468.4 137.8 468.7 138.6 469.0 139.3 469.2 140.1 469.5 140.9 469.8 141.7 470.1 142.4 470.4 143.2 470.6 144.0 470.9 144.7 471.2 145.5 471.5 146.3 471.8 147.1 472.1 147.8 472.4 148.6 472.7 149.4 473.0 150.1 473.3 150.9 473.6 151.7 473.9 152.5 474.2 153.2 474.5 154.0 474.8 154.8 475.1 155.5 475.4 156.3 475.7 157.1 476.0 157.9 476.3 158.6 476.6 159.4 476.9 160.2 477.2 160.9 477.5 161.7 477.8 162.5 478.1 163.2 478.5 164.0 478.8 164.8 479.1 165.6 479.4 166.3 479.7 167.1 480.0 167.9 480.4 168.6 480.7 169.4 481.0 170.2 481.3 171.0 481.7 171.7 482.0 172.5 482.3 173.3 482.6 174.0 483.0 174.8 483.3 175.6 483.6 176.4 484.0 177.1 484.3 177.9 484.7 178.7 485.0 179.4 485.3 180.2 485.7 181.0 486.0 181.8 486.4 182.5 486.7 183.3 487.1 184.1 487.4 184.8 487.8 185.6 488.1 186.4 488.5 187.1 488.9 187.9 489.2 188.7 489.6 189.5 489.9 190.2 490.3 191.0 490.7 191.8 491.0 192.5 491.4 193.3 491.8 194.1 492.2 194.9 492.5 195.6 492.9 196.4 493.3 197.2 493.7 197.9 494.1 198.7 494.4 199.5 494.8 200.3 495.2 201.0 495.6 201.8 496.0 202.6 496.4 203.3 496.8 204.1 497.2 204.9 497.6 205.7 498.0 206.4 498.4 207.2 498.8 208.0 499.2 208.7 499.6 209.5 500.0 210.3 500.4 L210.3 505.0 209.5 504.6 208.7 504.2 208.0 503.8 207.2 503.4 206.4 503.0 205.7 502.6 204.9 502.2 204.1 501.8 203.3 501.3 202.6 500.9 201.8 500.5 201.0 500.1 200.3 499.7 199.5 499.4 198.7 499.0 197.9 498.6 197.2 498.2 196.4 497.8 195.6 497.4 194.9 497.0 194.1 496.6 193.3 496.3 192.5 495.9 191.8 495.5 191.0 495.1 190.2 494.8 189.5 494.4 188.7 494.0 187.9 493.6 187.1 493.3 186.4 492.9 185.6 492.5 184.8 492.2 184.1 491.8 183.3 491.5 182.5 491.1 181.8 490.7 181.0 490.4 180.2 490.0 179.4 489.7 178.7 489.3 177.9 489.0 177.1 488.6 176.4 488.3 175.6 488.0 174.8 487.6 174.0 487.3 173.3 486.9 172.5 486.6 171.7 486.3 171.0 485.9 170.2 485.6 169.4 485.3 168.6 484.9 167.9 484.6 167.1 484.3 166.3 484.0 165.6 483.6 164.8 483.3 164.0 483.0 163.2 482.7 162.5 482.3 161.7 482.0 160.9 481.7 160.2 481.4 159.4 481.1 158.6 480.8 157.9 480.5 157.1 480.2 156.3 479.9 155.5 479.6 154.8 479.3 154.0 479.0 153.2 478.7 152.5 478.4 151.7 478.1 150.9 477.8 150.1 477.5 149.4 477.2 148.6 476.9 147.8 476.6 147.1 476.3 146.3 476.0 145.5 475.7 144.7 475.4 144.0 475.1 143.2 474.8 142.4 474.6 141.7 474.3 140.9 474.0 140.1 473.7 139.3 473.4 138.6 473.2 137.8 472.9 137.0 472.6 136.3 472.3 135.5 472.0 134.7 471.8 133.9 471.5 133.2 471.2 132.4 470.9 131.6 470.7 130.9 470.4 130.1 470.1 129.3 469.9 128.6 469.6 127.8 469.3 127.0 469.1 126.2 468.8 125.5 468.5 124.7 468.3 123.9 468.0 123.2 467.7 122.4 467.5 121.6 467.2 120.8 467.0 120.1 466.7 119.3 466.4 118.5 466.2 117.8 465.9 117.0 465.7 116.2 465.4 115.4 465.1 114.7 464.9 113.9 464.6 113.1 464.4 112.4 464.1 111.6 463.9 110.8 463.6 110.0 463.4 109.3 463.1 108.5 462.9 107.7 462.6 107.0 462.4 106.2 462.1 105.4 461.9 104.7 461.6 103.9 461.4 103.1 461.1 102.3 460.9 101.6 460.6 100.8 460.4 100.0 460.1 99.3 459.9 98.5 459.7 97.7 459.4 96.9 459.2 96.2 458.9 95.4 458.7 94.6 458.4 93.9 458.2 93.1 458.0 92.3 457.7 91.5 457.5 90.8 457.2 90.0 457.0 89.2 456.8 88.5 456.5 87.7 456.3 86.9 456.0 86.1 455.8 85.4 455.6 84.6 455.3 83.8 455.1 83.1 454.8 82.3 454.6 81.5 454.4 80.8 454.1 80.0 453.9 79.2 453.6 78.4 453.4 77.7 453.2 76.9 452.9 76.1 452.7 75.4 452.5 74.6 452.2 73.8 452.0 73.0 451.7 72.3 451.5 71.5 451.3 70.7 451.0 70.0 450.8 69.2 450.6 68.4 450.3 67.6 450.1 66.9 449.8 66.1 449.6 65.3 449.4 64.6 449.1 63.8 448.9 63.0 448.7 62.2 448.4 61.5 448.2 60.7 447.9 59.9 447.7 59.2 447.5 58.4 447.2 57.6 447.0 56.9 446.7 56.1 446.5 55.3 446.3 54.5 446.0 53.8 445.8 53.0 445.6 52.2 445.3 51.5 445.1 50.7 444.8 49.9 444.6 49.1 444.3 48.4 444.1 47.6 443.9 46.8 443.6 46.1 443.4 45.3 443.1 44.5 442.9 43.7 442.6 43.0 442.4 42.2 442.2 41.4 441.9Z" fill="#6cc6ee"/><path d="M41.4 439.3 42.2 439.6 43 439.8 43.7 440.0 44.5 440.3 45.3 440.5 46.1 440.8 46.8 441.0 47.6 441.3 48.4 441.5 49.1 441.7 49.9 442.0 50.7 442.2 51.5 442.5 52.2 442.7 53 443.0 53.8 443.2 54.5 443.4 55.3 443.7 56.1 443.9 56.9 444.1 57.6 444.4 58.4 444.6 59.2 444.9 59.9 445.1 60.7 445.3 61.5 445.6 62.2 445.8 63 446.1 63.8 446.3 64.6 446.5 65.3 446.8 66.1 447.0 66.9 447.2 67.6 447.5 68.4 447.7 69.2 448.0 70 448.2 70.7 448.4 71.5 448.7 72.3 448.9 73 449.1 73.8 449.4 74.6 449.6 75.4 449.9 76.1 450.1 76.9 450.3 77.7 450.6 78.4 450.8 79.2 451.0 80 451.3 80.8 451.5 81.5 451.8 82.3 452.0 83.1 452.2 83.8 452.5 84.6 452.7 85.4 453.0 86.1 453.2 86.9 453.4 87.7 453.7 88.5 453.9 89.2 454.2 90 454.4 90.8 454.6 91.5 454.9 92.3 455.1 93.1 455.4 93.9 455.6 94.6 455.8 95.4 456.1 96.2 456.3 96.9 456.6 97.7 456.8 98.5 457.1 99.3 457.3 100 457.5 100.8 457.8 101.6 458.0 102.3 458.3 103.1 458.5 103.9 458.8 104.7 459.0 105.4 459.3 106.2 459.5 107 459.8 107.7 460.0 108.5 460.3 109.3 460.5 110 460.8 110.8 461.0 111.6 461.3 112.4 461.5 113.1 461.8 113.9 462.0 114.7 462.3 115.4 462.5 116.2 462.8 117 463.1 117.8 463.3 118.5 463.6 119.3 463.8 120.1 464.1 120.8 464.4 121.6 464.6 122.4 464.9 123.2 465.1 123.9 465.4 124.7 465.7 125.5 465.9 126.2 466.2 127 466.5 127.8 466.7 128.6 467.0 129.3 467.3 130.1 467.5 130.9 467.8 131.6 468.1 132.4 468.3 133.2 468.6 133.9 468.9 134.7 469.2 135.5 469.4 136.3 469.7 137 470.0 137.8 470.3 138.6 470.6 139.3 470.8 140.1 471.1 140.9 471.4 141.7 471.7 142.4 472.0 143.2 472.2 144 472.5 144.7 472.8 145.5 473.1 146.3 473.4 147.1 473.7 147.8 474.0 148.6 474.3 149.4 474.6 150.1 474.9 150.9 475.2 151.7 475.5 152.5 475.8 153.2 476.1 154 476.4 154.8 476.7 155.5 477.0 156.3 477.3 157.1 477.6 157.9 477.9 158.6 478.2 159.4 478.5 160.2 478.8 160.9 479.1 161.7 479.4 162.5 479.7 163.2 480.1 164 480.4 164.8 480.7 165.6 481.0 166.3 481.3 167.1 481.7 167.9 482.0 168.6 482.3 169.4 482.6 170.2 483.0 171 483.3 171.7 483.6 172.5 484.0 173.3 484.3 174 484.6 174.8 485.0 175.6 485.3 176.4 485.6 177.1 486.0 177.9 486.3 178.7 486.7 179.4 487.0 180.2 487.4 181 487.7 181.8 488.1 182.5 488.4 183.3 488.8 184.1 489.1 184.8 489.5 185.6 489.8 186.4 490.2 187.1 490.6 187.9 490.9 188.7 491.3 189.5 491.7 190.2 492.0 191 492.4 191.8 492.8 192.5 493.1 193.3 493.5 194.1 493.9 194.9 494.3 195.6 494.7 196.4 495.0 197.2 495.4 197.9 495.8 198.7 496.2 199.5 496.6 200.3 497.0 201 497.4 201.8 497.8 202.6 498.2 203.3 498.6 204.1 499.0 204.9 499.4 205.7 499.8 206.4 500.2 207.2 500.6 208 501.0 208.7 501.4 209.5 501.8 210.3 502.2" fill="none" stroke="#23508e" stroke-width="1" stroke-linejoin="round"/></g><rect x="34.8" y="398.4" width="173.5" height="138.1" fill="none" stroke="#3a3a3a" stroke-width="1"/><line x1="32.3" y1="424.3" x2="34.8" y2="424.3" stroke="#3a3a3a" stroke-width="1"/><text font-size="10.3" text-anchor="end" fill="#1a1a1a" transform="translate(31.2 428.3) scale(0.92 1)" stroke="#1a1a1a" stroke-width="0.1">1</text><line x1="32.3" y1="480.5" x2="34.8" y2="480.5" stroke="#3a3a3a" stroke-width="1"/><text font-size="10.3" text-anchor="end" fill="#1a1a1a" transform="translate(31.2 484.5) scale(0.92 1)" stroke="#1a1a1a" stroke-width="0.1">0.1</text><line x1="32.3" y1="536.7" x2="34.8" y2="536.7" stroke="#3a3a3a" stroke-width="1"/><text font-size="10.3" text-anchor="end" fill="#1a1a1a" transform="translate(31.2 540.7) scale(0.92 1)" stroke="#1a1a1a" stroke-width="0.1">0.01</text><line x1="33.3" y1="407.382" x2="34.8" y2="407.382" stroke="#3a3a3a" stroke-width="0.7"/><line x1="33.3" y1="463.582" x2="34.8" y2="463.582" stroke="#3a3a3a" stroke-width="0.7"/><line x1="33.3" y1="453.686" x2="34.8" y2="453.686" stroke="#3a3a3a" stroke-width="0.7"/><line x1="33.3" y1="446.664" x2="34.8" y2="446.664" stroke="#3a3a3a" stroke-width="0.7"/><line x1="33.3" y1="441.218" x2="34.8" y2="441.218" stroke="#3a3a3a" stroke-width="0.7"/><line x1="33.3" y1="436.768" x2="34.8" y2="436.768" stroke="#3a3a3a" stroke-width="0.7"/><line x1="33.3" y1="433.005" x2="34.8" y2="433.005" stroke="#3a3a3a" stroke-width="0.7"/><line x1="33.3" y1="429.746" x2="34.8" y2="429.746" stroke="#3a3a3a" stroke-width="0.7"/><line x1="33.3" y1="426.872" x2="34.8" y2="426.872" stroke="#3a3a3a" stroke-width="0.7"/><line x1="33.3" y1="519.782" x2="34.8" y2="519.782" stroke="#3a3a3a" stroke-width="0.7"/><line x1="33.3" y1="509.886" x2="34.8" y2="509.886" stroke="#3a3a3a" stroke-width="0.7"/><line x1="33.3" y1="502.864" x2="34.8" y2="502.864" stroke="#3a3a3a" stroke-width="0.7"/><line x1="33.3" y1="497.418" x2="34.8" y2="497.418" stroke="#3a3a3a" stroke-width="0.7"/><line x1="33.3" y1="492.968" x2="34.8" y2="492.968" stroke="#3a3a3a" stroke-width="0.7"/><line x1="33.3" y1="489.205" x2="34.8" y2="489.205" stroke="#3a3a3a" stroke-width="0.7"/><line x1="33.3" y1="485.946" x2="34.8" y2="485.946" stroke="#3a3a3a" stroke-width="0.7"/><line x1="33.3" y1="483.072" x2="34.8" y2="483.072" stroke="#3a3a3a" stroke-width="0.7"/><line x1="40.6" y1="536.5" x2="40.6" y2="539" stroke="#3a3a3a" stroke-width="1"/><line x1="96.05" y1="536.5" x2="96.05" y2="539" stroke="#3a3a3a" stroke-width="1"/><line x1="151.5" y1="536.5" x2="151.5" y2="539" stroke="#3a3a3a" stroke-width="1"/><line x1="206.95" y1="536.5" x2="206.95" y2="539" stroke="#3a3a3a" stroke-width="1"/><line x1="68.325" y1="536.5" x2="68.325" y2="538" stroke="#3a3a3a" stroke-width="1"/><line x1="123.775" y1="536.5" x2="123.775" y2="538" stroke="#3a3a3a" stroke-width="1"/><line x1="179.225" y1="536.5" x2="179.225" y2="538" stroke="#3a3a3a" stroke-width="1"/><text font-size="10.3" text-anchor="middle" fill="#1a1a1a" transform="translate(38.5 548.8) scale(0.92 1)" stroke="#1a1a1a" stroke-width="0.1">0</text><text font-size="10.3" text-anchor="middle" fill="#1a1a1a" transform="translate(95.2 548.8) scale(0.92 1)" stroke="#1a1a1a" stroke-width="0.1">1000</text><text font-size="10.3" text-anchor="middle" fill="#1a1a1a" transform="translate(150.3 548.8) scale(0.92 1)" stroke="#1a1a1a" stroke-width="0.1">2000</text><text font-size="10.3" text-anchor="middle" fill="#1a1a1a" transform="translate(206.3 548.8) scale(0.92 1)" stroke="#1a1a1a" stroke-width="0.1">3000</text><text font-size="10.5" text-anchor="middle" fill="#1a1a1a" transform="translate(126.5 559.6) scale(1.044 1)" stroke="#1a1a1a" stroke-width="0.1">Time delay (&#956;s)</text><text font-size="10.3" text-anchor="middle" fill="#1a1a1a" transform="translate(13.4 467.4) rotate(-90) scale(1.05 1)" stroke="#1a1a1a" stroke-width="0.1">Photovoltage (mV)</text><text x="5" y="396.9" font-size="22" text-anchor="start" fill="#1a1a1a" stroke="#000" stroke-width="0.4">f</text><text font-size="9.2" text-anchor="start" fill="#1a1a1a" transform="translate(37.4 408.5) scale(1.08 1)" stroke="#1a1a1a" stroke-width="0.1">with O<tspan font-size="6.5" dy="2.4">2</tspan></text><line x1="74.2" y1="401.9" x2="74.2" y2="444.6" stroke="#222" stroke-width="0.8" marker-end="url(#ah2)"/><text font-size="8.8" text-anchor="start" fill="#1a1a1a" transform="translate(79 407.9) scale(1.03 1)" stroke="#1a1a1a" stroke-width="0.1">BCN-FeOOH (<tspan font-weight="bold">&#964;</tspan>=1470 &#956;s)</text><text font-size="8.8" text-anchor="start" fill="#1a1a1a" transform="translate(79 419.1) scale(1.03 1)" stroke="#1a1a1a" stroke-width="0.1">CoO<tspan font-size="6" dy="2" font-style="italic">x</tspan><tspan dy="-2">-BCN-FeOOH (<tspan font-weight="bold">&#964;</tspan>=1340 &#956;s)</tspan></text><text font-size="8.8" text-anchor="start" fill="#1a1a1a" transform="translate(79 432.9) scale(1.03 1)" stroke="#1a1a1a" stroke-width="0.1">BCN (<tspan font-weight="bold">&#964;</tspan>=1300 &#956;s)</text><text font-size="8.8" text-anchor="start" fill="#1a1a1a" transform="translate(79 444.6) scale(1.03 1)" stroke="#1a1a1a" stroke-width="0.1">CoO<tspan font-size="6" dy="2" font-style="italic">x</tspan><tspan dy="-2">-BCN (<tspan font-weight="bold">&#964;</tspan>=1200 &#956;s)</tspan></text><clipPath id="cg"><rect x="260.4" y="397.5" width="173" height="139.1"/></clipPath><g clip-path="url(#cg)"><path d="M260.4 449.0 261.3 446.7 262.1 445.9 263 440.0 263.9 445.0 264.7 444.8 265.6 445.4 266.5 444.1 267.4 445.3 268.2 444.3 269.1 442.4 270 447.1 270.8 447.1 271.7 448.8 272.6 440.0 273.4 444.0 274.3 443.6 275.2 441.3 276 446.7 276.9 442.1 277.8 441.8 278.7 446.6 279.5 447.4 280.4 444.5 281.3 441.6 282.1 442.1 283 444.9 283.9 443.0 284.7 441.4 285.6 437.7 286.5 444.3 287.3 446.8 288.2 439.5 289.1 440.6 290 440.0 290.8 436.2 291.7 439.2 292.6 438.8 293.4 443.2 294.3 440.2 295.2 436.6 296 441.3 296.9 438.8 297.8 435.4 298.7 437.7 299.5 437.3 300.4 434.6 301.3 438.0 302.1 432.7 303 436.7 303.9 439.2 304.7 436.7 305.6 438.7 306.5 438.4 307.3 438.8 308.2 432.7 309.1 436.6 310 430.0 310.8 432.7 311.7 429.4 312.6 435.5 313.4 435.7 314.3 431.9 315.2 435.9 316 430.0 316.9 431.4 317.8 431.0 318.6 425.7 319.5 430.3 320.4 438.4 321.3 425.9 322.1 424.6 323 427.0 323.9 431.2 324.7 428.6 325.6 429.4 326.5 430.0 327.3 429.9 328.2 427.1 329.1 434.0 329.9 428.6 330.8 432.7 331.7 433.9 332.6 430.9 333.4 433.3 334.3 435.8 335.2 433.3 336 431.6 336.9 427.3 337.8 428.2 338.6 432.6 339.5 432.9 340.4 430.4 341.2 435.0 342.1 433.0 343 434.1 343.9 435.9 344.7 432.6 345.6 433.9 346.5 439.3 347.3 431.5 348.2 431.8 349.1 434.4 349.9 435.7 350.8 437.1 351.7 434.5 352.6 429.5 353.4 432.2 354.3 435.1 355.2 434.1 356 432.1 356.9 432.7 357.8 432.0 358.6 438.5 359.5 431.2 360.4 433.7 361.2 434.4 362.1 433.5 363 430.5 363.9 435.2 364.7 430.7 365.6 433.0 366.5 430.4 367.3 428.1 368.2 432.3 369.1 432.4 369.9 431.3 370.8 432.2 371.7 430.0 372.5 429.7 373.4 430.9 374.3 435.3 375.2 432.8 376 429.8 376.9 432.0 377.8 429.6 378.6 429.6 379.5 432.3 380.4 433.7 381.2 426.5 382.1 428.0 383 430.1 383.8 430.0 384.7 432.3 385.6 427.8 386.5 430.8 387.3 429.9 388.2 428.4 389.1 430.3 389.9 431.1 390.8 426.0 391.7 430.0 392.5 424.6 393.4 427.1 394.3 426.6 395.1 426.9 396 423.6 396.9 424.5 397.8 423.6 398.6 425.7 399.5 421.5 400.4 423.9 401.2 424.4 402.1 423.8 403 434.4 403.8 430.2 404.7 428.8 405.6 437.1 406.5 433.5 407.3 438.6 408.2 441.5 409.1 439.8 409.9 442.0 410.8 443.4 411.7 441.0 412.5 444.0 413.4 446.0 414.3 449.5 415.1 453.1 416 453.2 416.9 452.3 417.8 455.0 418.6 453.1 419.5 454.6 420.4 454.6 421.2 453.9 422.1 454.3 423 457.6 423.8 458.9 424.7 456.6 425.6 456.9 426.4 455.1 427.3 458.4 428.2 459.5 429.1 460.2 429.9 457.7 430.8 464.0 431.7 462.4 432.5 459.8 433.4 458.9" fill="none" stroke="#8ed0f0" stroke-width="1" stroke-linejoin="round"/><path d="M260.4 448.2 261.6 448.1 262.9 448.0 264.1 447.8 265.4 447.7 266.6 447.6 267.9 447.4 269.1 447.2 270.4 447.1 271.6 446.9 272.8 446.7 274.1 446.5 275.3 446.4 276.6 446.2 277.8 446.1 279.1 445.9 280.3 445.8 281.6 445.7 282.8 445.6 284 445.5 285.3 445.5 286.5 445.5 287.8 445.5 289 445.5 290.3 445.6 291.5 445.7 292.8 445.9 294 446.0 295.2 446.2 296.5 446.4 297.7 446.7 299 446.9 300.2 447.2 301.5 447.5 302.7 447.8 304 448.1 305.2 448.4 306.5 448.8 307.7 449.1 308.9 449.5 310.2 449.8 311.4 450.1 312.7 450.5 313.9 450.8 315.2 451.1 316.4 451.4 317.7 451.7 318.9 452.0 320.1 452.2 321.4 452.5 322.6 452.7 323.9 453.0 325.1 453.2 326.4 453.4 327.6 453.6 328.9 453.8 330.1 454.0 331.3 454.1 332.6 454.3 333.8 454.4 335.1 454.6 336.3 454.7 337.6 454.8 338.8 455.0 340.1 455.1 341.3 455.2 342.5 455.3 343.8 455.4 345 455.5 346.3 455.6 347.5 455.7 348.8 455.8 350 455.9 351.3 456.0 352.5 456.1 353.7 456.2 355 456.3 356.2 456.3 357.5 456.4 358.7 456.5 360 456.6 361.2 456.7 362.5 456.8 363.7 456.9 364.9 456.9 366.2 457.0 367.4 457.1 368.7 457.2 369.9 457.3 371.2 457.4 372.4 457.4 373.7 457.5 374.9 457.6 376.1 457.7 377.4 457.8 378.6 457.9 379.9 457.9 381.1 458.0 382.4 458.1 383.6 458.2 384.9 458.3 386.1 458.4 387.3 458.4 388.6 458.5 389.8 458.6 391.1 458.7 392.3 458.8 393.6 458.8 394.8 458.9 396.1 459.0 397.3 459.1 398.6 459.2 399.8 459.3 401 459.3 402.3 459.4 403.5 459.5 404.8 459.6 406 459.7 407.3 459.8 408.5 459.8 409.8 459.9 411 460.0 412.2 460.1 413.5 460.2 414.7 460.3 416 460.3 417.2 460.4 418.5 460.5 419.7 460.6 421 460.7 422.2 460.7 423.4 460.8 424.7 460.9 425.9 461.0 427.2 461.1 428.4 461.2 429.7 461.2 430.9 461.3 432.2 461.4 433.4 461.5" fill="none" stroke="#b58ae0" stroke-width="0.8" stroke-linejoin="round"/><path d="M260.4 450.0 261.6 450.1 262.9 450.2 264.1 450.3 265.4 450.4 266.6 450.4 267.9 450.5 269.1 450.6 270.4 450.7 271.6 450.8 272.8 450.9 274.1 450.9 275.3 451.0 276.6 451.1 277.8 451.2 279.1 451.2 280.3 451.3 281.6 451.4 282.8 451.5 284 451.6 285.3 451.6 286.5 451.7 287.8 451.8 289 451.9 290.3 452.0 291.5 452.0 292.8 452.1 294 452.2 295.2 452.3 296.5 452.3 297.7 452.4 299 452.5 300.2 452.6 301.5 452.6 302.7 452.7 304 452.7 305.2 452.8 306.5 452.9 307.7 452.9 308.9 452.9 310.2 453.0 311.4 453.0 312.7 453.0 313.9 453.0 315.2 452.9 316.4 452.9 317.7 452.8 318.9 452.7 320.1 452.5 321.4 452.3 322.6 452.1 323.9 451.8 325.1 451.5 326.4 451.2 327.6 450.7 328.9 450.3 330.1 449.8 331.3 449.2 332.6 448.6 333.8 447.9 335.1 447.3 336.3 446.5 337.6 445.8 338.8 445.1 340.1 444.3 341.3 443.6 342.5 442.9 343.8 442.3 345 441.7 346.3 441.2 347.5 440.7 348.8 440.4 350 440.2 351.3 440.1 352.5 440.1 353.7 440.2 355 440.5 356.2 440.9 357.5 441.4 358.7 442.0 360 442.7 361.2 443.4 362.5 444.2 363.7 445.1 364.9 446.0 366.2 446.9 367.4 447.8 368.7 448.7 369.9 449.6 371.2 450.4 372.4 451.2 373.7 452.0 374.9 452.7 376.1 453.4 377.4 454.0 378.6 454.6 379.9 455.1 381.1 455.6 382.4 456.0 383.6 456.4 384.9 456.8 386.1 457.1 387.3 457.4 388.6 457.6 389.8 457.8 391.1 458.0 392.3 458.2 393.6 458.4 394.8 458.5 396.1 458.7 397.3 458.8 398.6 458.9 399.8 459.0 401 459.1 402.3 459.2 403.5 459.3 404.8 459.4 406 459.5 407.3 459.6 408.5 459.7 409.8 459.8 411 459.9 412.2 460.0 413.5 460.1 414.7 460.2 416 460.2 417.2 460.3 418.5 460.4 419.7 460.5 421 460.6 422.2 460.7 423.4 460.8 424.7 460.8 425.9 460.9 427.2 461.0 428.4 461.1 429.7 461.2 430.9 461.3 432.2 461.3 433.4 461.4" fill="none" stroke="#b58ae0" stroke-width="0.8" stroke-linejoin="round"/><path d="M260.4 450.0 261.6 450.1 262.9 450.2 264.1 450.3 265.4 450.3 266.6 450.4 267.9 450.5 269.1 450.6 270.4 450.7 271.6 450.7 272.8 450.8 274.1 450.9 275.3 450.9 276.6 451.0 277.8 451.1 279.1 451.2 280.3 451.2 281.6 451.3 282.8 451.3 284 451.4 285.3 451.4 286.5 451.4 287.8 451.4 289 451.4 290.3 451.3 291.5 451.2 292.8 451.0 294 450.8 295.2 450.5 296.5 450.1 297.7 449.6 299 449.0 300.2 448.4 301.5 447.8 302.7 447.1 304 446.4 305.2 445.8 306.5 445.2 307.7 444.8 308.9 444.5 310.2 444.4 311.4 444.5 312.7 444.8 313.9 445.3 315.2 446.0 316.4 446.7 317.7 447.6 318.9 448.4 320.1 449.3 321.4 450.1 322.6 450.8 323.9 451.5 325.1 452.1 326.4 452.6 327.6 453.1 328.9 453.5 330.1 453.8 331.3 454.1 332.6 454.3 333.8 454.5 335.1 454.6 336.3 454.8 337.6 454.9 338.8 455.0 340.1 455.1 341.3 455.2 342.5 455.3 343.8 455.4 345 455.5 346.3 455.6 347.5 455.7 348.8 455.8 350 455.9 351.3 456.0 352.5 456.1 353.7 456.2 355 456.2 356.2 456.3 357.5 456.4 358.7 456.5 360 456.6 361.2 456.7 362.5 456.8 363.7 456.8 364.9 456.9 366.2 457.0 367.4 457.1 368.7 457.2 369.9 457.3 371.2 457.4 372.4 457.4 373.7 457.5 374.9 457.6 376.1 457.7 377.4 457.8 378.6 457.9 379.9 457.9 381.1 458.0 382.4 458.1 383.6 458.2 384.9 458.3 386.1 458.4 387.3 458.4 388.6 458.5 389.8 458.6 391.1 458.7 392.3 458.8 393.6 458.8 394.8 458.9 396.1 459.0 397.3 459.1 398.6 459.2 399.8 459.3 401 459.3 402.3 459.4 403.5 459.5 404.8 459.6 406 459.7 407.3 459.8 408.5 459.8 409.8 459.9 411 460.0 412.2 460.1 413.5 460.2 414.7 460.3 416 460.3 417.2 460.4 418.5 460.5 419.7 460.6 421 460.7 422.2 460.7 423.4 460.8 424.7 460.9 425.9 461.0 427.2 461.1 428.4 461.2 429.7 461.2 430.9 461.3 432.2 461.4 433.4 461.5" fill="none" stroke="#5cc0ea" stroke-width="0.8" stroke-linejoin="round"/><path d="M260.4 450.1 261.6 450.1 262.9 450.2 264.1 450.3 265.4 450.4 266.6 450.5 267.9 450.6 269.1 450.6 270.4 450.7 271.6 450.8 272.8 450.9 274.1 451.0 275.3 451.0 276.6 451.1 277.8 451.2 279.1 451.3 280.3 451.4 281.6 451.4 282.8 451.5 284 451.6 285.3 451.7 286.5 451.8 287.8 451.8 289 451.9 290.3 452.0 291.5 452.1 292.8 452.2 294 452.2 295.2 452.3 296.5 452.4 297.7 452.5 299 452.6 300.2 452.6 301.5 452.7 302.7 452.8 304 452.9 305.2 453.0 306.5 453.0 307.7 453.1 308.9 453.2 310.2 453.3 311.4 453.4 312.7 453.4 313.9 453.5 315.2 453.6 316.4 453.7 317.7 453.7 318.9 453.8 320.1 453.9 321.4 454.0 322.6 454.0 323.9 454.1 325.1 454.2 326.4 454.3 327.6 454.3 328.9 454.4 330.1 454.5 331.3 454.6 332.6 454.6 333.8 454.7 335.1 454.8 336.3 454.9 337.6 454.9 338.8 455.0 340.1 455.1 341.3 455.1 342.5 455.2 343.8 455.2 345 455.3 346.3 455.3 347.5 455.4 348.8 455.4 350 455.4 351.3 455.4 352.5 455.4 353.7 455.3 355 455.2 356.2 455.0 357.5 454.8 358.7 454.6 360 454.2 361.2 453.7 362.5 453.2 363.7 452.5 364.9 451.7 366.2 450.8 367.4 449.8 368.7 448.7 369.9 447.5 371.2 446.3 372.4 445.0 373.7 443.7 374.9 442.5 376.1 441.4 377.4 440.5 378.6 439.7 379.9 439.2 381.1 439.0 382.4 439.1 383.6 439.5 384.9 440.2 386.1 441.1 387.3 442.2 388.6 443.5 389.8 444.9 391.1 446.3 392.3 447.8 393.6 449.2 394.8 450.5 396.1 451.8 397.3 453.0 398.6 454.0 399.8 455.0 401 455.8 402.3 456.5 403.5 457.1 404.8 457.6 406 458.1 407.3 458.4 408.5 458.7 409.8 459.0 411 459.2 412.2 459.4 413.5 459.6 414.7 459.7 416 459.9 417.2 460.0 418.5 460.1 419.7 460.2 421 460.3 422.2 460.4 423.4 460.5 424.7 460.6 425.9 460.7 427.2 460.8 428.4 460.9 429.7 461.0 430.9 461.1 432.2 461.2 433.4 461.3" fill="none" stroke="#5cc0ea" stroke-width="0.8" stroke-linejoin="round"/><path d="M260.4 450.1 261.6 450.1 262.9 450.2 264.1 450.3 265.4 450.4 266.6 450.5 267.9 450.5 269.1 450.6 270.4 450.7 271.6 450.8 272.8 450.9 274.1 450.9 275.3 451.0 276.6 451.1 277.8 451.2 279.1 451.3 280.3 451.3 281.6 451.4 282.8 451.5 284 451.6 285.3 451.6 286.5 451.7 287.8 451.8 289 451.9 290.3 451.9 291.5 452.0 292.8 452.1 294 452.2 295.2 452.2 296.5 452.3 297.7 452.4 299 452.4 300.2 452.5 301.5 452.5 302.7 452.6 304 452.6 305.2 452.6 306.5 452.6 307.7 452.6 308.9 452.5 310.2 452.3 311.4 451.9 312.7 451.4 313.9 450.7 315.2 449.8 316.4 448.6 317.7 447.3 318.9 446.0 320.1 444.7 321.4 443.7 322.6 443.1 323.9 443.2 325.1 443.9 326.4 445.0 327.6 446.5 328.9 448.0 330.1 449.4 331.3 450.8 332.6 451.9 333.8 452.8 335.1 453.4 336.3 454.0 337.6 454.3 338.8 454.6 340.1 454.8 341.3 455.0 342.5 455.2 343.8 455.3 345 455.4 346.3 455.5 347.5 455.6 348.8 455.7 350 455.8 351.3 455.9 352.5 456.0 353.7 456.1 355 456.2 356.2 456.3 357.5 456.4 358.7 456.5 360 456.6 361.2 456.6 362.5 456.7 363.7 456.8 364.9 456.9 366.2 457.0 367.4 457.1 368.7 457.2 369.9 457.3 371.2 457.3 372.4 457.4 373.7 457.5 374.9 457.6 376.1 457.7 377.4 457.8 378.6 457.8 379.9 457.9 381.1 458.0 382.4 458.1 383.6 458.2 384.9 458.3 386.1 458.3 387.3 458.4 388.6 458.5 389.8 458.6 391.1 458.7 392.3 458.8 393.6 458.8 394.8 458.9 396.1 459.0 397.3 459.1 398.6 459.2 399.8 459.3 401 459.3 402.3 459.4 403.5 459.5 404.8 459.6 406 459.7 407.3 459.8 408.5 459.8 409.8 459.9 411 460.0 412.2 460.1 413.5 460.2 414.7 460.3 416 460.3 417.2 460.4 418.5 460.5 419.7 460.6 421 460.7 422.2 460.7 423.4 460.8 424.7 460.9 425.9 461.0 427.2 461.1 428.4 461.2 429.7 461.2 430.9 461.3 432.2 461.4 433.4 461.5" fill="none" stroke="#3a5ae8" stroke-width="0.8" stroke-linejoin="round"/><path d="M260.4 450.1 261.6 450.2 262.9 450.2 264.1 450.3 265.4 450.4 266.6 450.5 267.9 450.6 269.1 450.7 270.4 450.7 271.6 450.8 272.8 450.9 274.1 451.0 275.3 451.1 276.6 451.1 277.8 451.2 279.1 451.3 280.3 451.4 281.6 451.5 282.8 451.6 284 451.6 285.3 451.7 286.5 451.8 287.8 451.9 289 452.0 290.3 452.0 291.5 452.1 292.8 452.2 294 452.3 295.2 452.4 296.5 452.4 297.7 452.5 299 452.6 300.2 452.7 301.5 452.8 302.7 452.9 304 452.9 305.2 453.0 306.5 453.1 307.7 453.2 308.9 453.3 310.2 453.3 311.4 453.4 312.7 453.5 313.9 453.6 315.2 453.7 316.4 453.7 317.7 453.8 318.9 453.9 320.1 454.0 321.4 454.1 322.6 454.1 323.9 454.2 325.1 454.3 326.4 454.4 327.6 454.5 328.9 454.5 330.1 454.6 331.3 454.7 332.6 454.8 333.8 454.9 335.1 454.9 336.3 455.0 337.6 455.1 338.8 455.2 340.1 455.3 341.3 455.3 342.5 455.4 343.8 455.5 345 455.6 346.3 455.6 347.5 455.7 348.8 455.8 350 455.9 351.3 455.9 352.5 456.0 353.7 456.1 355 456.2 356.2 456.2 357.5 456.3 358.7 456.4 360 456.5 361.2 456.5 362.5 456.6 363.7 456.7 364.9 456.7 366.2 456.8 367.4 456.8 368.7 456.9 369.9 457.0 371.2 457.0 372.4 457.1 373.7 457.1 374.9 457.1 376.1 457.2 377.4 457.2 378.6 457.2 379.9 457.2 381.1 457.1 382.4 457.0 383.6 456.8 384.9 456.4 386.1 455.9 387.3 455.1 388.6 454.0 389.8 452.4 391.1 450.4 392.3 447.9 393.6 445.1 394.8 442.1 396.1 439.2 397.3 436.6 398.6 434.9 399.8 434.3 401 435.0 402.3 436.9 403.5 439.6 404.8 442.8 406 445.9 407.3 448.9 408.5 451.5 409.8 453.7 411 455.4 412.2 456.7 413.5 457.7 414.7 458.4 416 458.9 417.2 459.3 418.5 459.6 419.7 459.8 421 460.0 422.2 460.1 423.4 460.3 424.7 460.4 425.9 460.5 427.2 460.7 428.4 460.8 429.7 460.9 430.9 461.0 432.2 461.1 433.4 461.2" fill="none" stroke="#3a5ae8" stroke-width="0.8" stroke-linejoin="round"/><path d="M260.4 450.1 261.6 450.2 262.9 450.3 264.1 450.3 265.4 450.4 266.6 450.5 267.9 450.6 269.1 450.7 270.4 450.8 271.6 450.8 272.8 450.9 274.1 451.0 275.3 451.1 276.6 451.2 277.8 451.2 279.1 451.3 280.3 451.4 281.6 451.5 282.8 451.6 284 451.7 285.3 451.7 286.5 451.8 287.8 451.9 289 452.0 290.3 452.1 291.5 452.2 292.8 452.2 294 452.3 295.2 452.4 296.5 452.5 297.7 452.6 299 452.6 300.2 452.7 301.5 452.8 302.7 452.9 304 453.0 305.2 453.1 306.5 453.1 307.7 453.2 308.9 453.3 310.2 453.4 311.4 453.5 312.7 453.5 313.9 453.6 315.2 453.7 316.4 453.8 317.7 453.9 318.9 454.0 320.1 454.0 321.4 454.1 322.6 454.2 323.9 454.3 325.1 454.4 326.4 454.4 327.6 454.5 328.9 454.6 330.1 454.7 331.3 454.8 332.6 454.9 333.8 454.9 335.1 455.0 336.3 455.1 337.6 455.2 338.8 455.3 340.1 455.3 341.3 455.4 342.5 455.5 343.8 455.6 345 455.7 346.3 455.8 347.5 455.8 348.8 455.9 350 456.0 351.3 456.1 352.5 456.2 353.7 456.3 355 456.3 356.2 456.4 357.5 456.5 358.7 456.6 360 456.7 361.2 456.7 362.5 456.8 363.7 456.9 364.9 457.0 366.2 457.1 367.4 457.2 368.7 457.2 369.9 457.3 371.2 457.4 372.4 457.5 373.7 457.6 374.9 457.6 376.1 457.7 377.4 457.8 378.6 457.9 379.9 458.0 381.1 458.1 382.4 458.1 383.6 458.2 384.9 458.3 386.1 458.4 387.3 458.5 388.6 458.5 389.8 458.6 391.1 458.7 392.3 458.8 393.6 458.9 394.8 459.0 396.1 459.0 397.3 459.1 398.6 459.2 399.8 459.3 401 459.4 402.3 459.4 403.5 459.5 404.8 459.6 406 459.7 407.3 459.8 408.5 459.9 409.8 459.9 411 460.0 412.2 460.1 413.5 460.2 414.7 460.3 416 460.4 417.2 460.4 418.5 460.5 419.7 460.6 421 460.7 422.2 460.8 423.4 460.8 424.7 460.9 425.9 461.0 427.2 461.1 428.4 461.2 429.7 461.3 430.9 461.3 432.2 461.4 433.4 461.5" fill="none" stroke="#4a66e0" stroke-width="0.9" stroke-linejoin="round"/><path d="M260.4 445.8 261.9 445.7 263.3 445.7 264.8 445.6 266.2 445.5 267.7 445.4 269.1 445.3 270.6 445.1 272 445.0 273.5 444.9 274.9 444.7 276.4 444.5 277.8 444.4 279.3 444.2 280.8 444.0 282.2 443.7 283.7 443.4 285.1 443.0 286.6 442.7 288 442.3 289.5 441.9 290.9 441.5 292.4 441.1 293.8 440.6 295.3 440.2 296.7 439.7 298.2 439.1 299.7 438.6 301.1 438.0 302.6 437.5 304 436.9 305.5 436.3 306.9 435.7 308.4 435.1 309.8 434.5 311.3 433.8 312.7 433.1 314.2 432.4 315.6 431.7 317.1 431.0 318.6 430.1 320 429.0 321.5 428.0 322.9 427.4 324.4 427.4 325.8 428.1 327.3 429.3 328.7 430.6 330.2 431.8 331.6 432.5 333.1 432.9 334.5 433.2 336 433.5 337.5 433.7 338.9 433.9 340.4 434.1 341.8 434.2 343.3 434.4 344.7 434.5 346.2 434.6 347.6 434.6 349.1 434.6 350.5 434.4 352 434.1 353.4 433.8 354.9 433.5 356.3 433.2 357.8 432.9 359.3 432.8 360.7 432.6 362.2 432.4 363.6 432.3 365.1 432.1 366.5 432.0 368 431.9 369.4 431.7 370.9 431.5 372.3 431.4 373.8 431.2 375.2 431.0 376.7 430.8 378.2 430.6 379.6 430.4 381.1 430.2 382.5 430.0 384 429.7 385.4 429.4 386.9 429.1 388.3 428.7 389.8 428.3 391.2 427.8 392.7 427.3 394.1 426.6 395.6 425.6 397.1 424.4 398.5 423.5 400 423.4 401.4 425.3 402.9 428.3 404.3 431.3 405.8 434.4 407.2 437.6 408.7 440.5 410.1 443.4 411.6 446.0 413 448.3 414.5 450.1 416 451.7 417.4 453.2 418.9 454.4 420.3 455.5 421.8 456.4 423.2 457.2 424.7 457.9 426.1 458.4 427.6 458.8 429 459.2 430.5 459.6 431.9 459.9 433.4 460.1" fill="none" stroke="#444" stroke-width="0.8" stroke-linejoin="round" stroke-dasharray="0.9 1.1"/><path d="M260.4 518.7 261.5 515.3 262.6 527.4 263.7 515.5 264.8 521.8 265.8 523.5 266.9 512.4 268 513.7 269.1 517.1 270.2 514.7 271.3 510.8 272.4 515.0 273.5 514.2 274.5 518.3 275.6 518.5 276.7 512.3 277.8 520.4 278.9 523.3 280 508.3 281.1 517.5 282.2 510.1 283.2 510.3 284.3 510.0 285.4 511.6 286.5 517.4 287.6 515.8 288.7 512.5 289.8 510.2 290.9 507.4 292 510.5 293 514.0 294.1 507.3 295.2 509.6 296.3 508.8 297.4 508.6 298.5 509.5 299.6 508.8 300.7 513.3 301.7 506.6 302.8 513.4 303.9 504.6 305 503.4 306.1 510.1 307.2 506.0 308.3 505.1 309.4 509.1 310.5 508.0 311.5 504.6 312.6 500.5 313.7 501.0 314.8 507.1 315.9 501.3 317 494.0 318.1 496.3 319.2 496.4 320.2 503.6 321.3 497.8 322.4 507.9 323.5 500.6 324.6 498.2 325.7 495.7 326.8 502.1 327.9 497.0 328.9 494.8 330 501.4 331.1 499.4 332.2 505.1 333.3 500.0 334.4 491.4 335.5 504.6 336.6 493.2 337.7 508.5 338.7 509.9 339.8 507.7 340.9 497.3 342 504.0 343.1 499.8 344.2 502.1 345.3 500.5 346.4 502.2 347.4 512.5 348.5 504.8 349.6 506.5 350.7 506.5 351.8 507.4 352.9 507.4 354 509.3 355.1 501.4 356.1 498.8 357.2 498.8 358.3 506.8 359.4 499.4 360.5 501.2 361.6 499.2 362.7 498.7 363.8 504.7 364.9 502.2 365.9 499.0 367 503.2 368.1 497.5 369.2 507.4 370.3 501.4 371.4 488.6 372.5 503.1 373.6 502.3 374.6 504.4 375.7 495.9 376.8 510.5 377.9 493.7 379 502.0 380.1 498.7 381.2 496.1 382.3 501.5 383.3 496.3 384.4 486.9 385.5 491.7 386.6 498.4 387.7 505.8 388.8 489.0 389.9 495.0 391 500.9 392.1 502.7 393.1 491.8 394.2 486.7 395.3 484.5 396.4 488.4 397.5 489.2 398.6 480.2 399.7 482.1 400.8 490.6 401.8 487.9 402.9 487.6 404 490.7 405.1 490.6 406.2 499.9 407.3 505.1 408.4 509.2 409.5 505.3 410.6 507.4 411.6 512.3 412.7 515.3 413.8 515.8 414.9 516.2 416 509.5 417.1 506.4 418.2 518.2 419.3 514.7 420.3 515.7 421.4 512.7 422.5 518.0 423.6 523.7 424.7 519.9 425.8 513.5 426.9 520.2 428 520.1 429 521.3 430.1 529.0 431.2 519.2 432.3 513.9 433.4 519.8" fill="none" stroke="#8ed0f0" stroke-width="1" stroke-linejoin="round"/><path d="M260.4 518.8 261.6 518.8 262.9 518.7 264.1 518.6 265.4 518.5 266.6 518.4 267.9 518.3 269.1 518.2 270.4 518.0 271.6 517.8 272.8 517.7 274.1 517.5 275.3 517.3 276.6 517.0 277.8 516.8 279.1 516.5 280.3 516.2 281.6 516.0 282.8 515.7 284 515.4 285.3 515.1 286.5 514.8 287.8 514.5 289 514.2 290.3 514.0 291.5 513.7 292.8 513.5 294 513.3 295.2 513.1 296.5 512.9 297.7 512.8 299 512.7 300.2 512.7 301.5 512.7 302.7 512.7 304 512.8 305.2 512.9 306.5 513.1 307.7 513.3 308.9 513.5 310.2 513.7 311.4 514.0 312.7 514.3 313.9 514.6 315.2 514.9 316.4 515.2 317.7 515.5 318.9 515.9 320.1 516.2 321.4 516.5 322.6 516.8 323.9 517.1 325.1 517.4 326.4 517.7 327.6 517.9 328.9 518.2 330.1 518.4 331.3 518.6 332.6 518.8 333.8 519.0 335.1 519.2 336.3 519.3 337.6 519.5 338.8 519.6 340.1 519.7 341.3 519.8 342.5 519.9 343.8 519.9 345 520.0 346.3 520.1 347.5 520.1 348.8 520.2 350 520.2 351.3 520.3 352.5 520.3 353.7 520.3 355 520.4 356.2 520.4 357.5 520.4 358.7 520.5 360 520.5 361.2 520.5 362.5 520.5 363.7 520.5 364.9 520.6 366.2 520.6 367.4 520.6 368.7 520.6 369.9 520.6 371.2 520.7 372.4 520.7 373.7 520.7 374.9 520.7 376.1 520.7 377.4 520.7 378.6 520.8 379.9 520.8 381.1 520.8 382.4 520.8 383.6 520.8 384.9 520.8 386.1 520.9 387.3 520.9 388.6 520.9 389.8 520.9 391.1 520.9 392.3 520.9 393.6 521.0 394.8 521.0 396.1 521.0 397.3 521.0 398.6 521.0 399.8 521.0 401 521.1 402.3 521.1 403.5 521.1 404.8 521.1 406 521.1 407.3 521.1 408.5 521.2 409.8 521.2 411 521.2 412.2 521.2 413.5 521.2 414.7 521.2 416 521.3 417.2 521.3 418.5 521.3 419.7 521.3 421 521.3 422.2 521.3 423.4 521.4 424.7 521.4 425.9 521.4 427.2 521.4 428.4 521.4 429.7 521.4 430.9 521.5 432.2 521.5 433.4 521.5" fill="none" stroke="#b58ae0" stroke-width="0.8" stroke-linejoin="round"/><path d="M260.4 519.3 261.6 519.3 262.9 519.3 264.1 519.3 265.4 519.3 266.6 519.3 267.9 519.3 269.1 519.4 270.4 519.4 271.6 519.4 272.8 519.4 274.1 519.4 275.3 519.4 276.6 519.4 277.8 519.5 279.1 519.5 280.3 519.5 281.6 519.5 282.8 519.5 284 519.5 285.3 519.5 286.5 519.6 287.8 519.6 289 519.6 290.3 519.6 291.5 519.6 292.8 519.6 294 519.6 295.2 519.6 296.5 519.7 297.7 519.7 299 519.7 300.2 519.7 301.5 519.7 302.7 519.7 304 519.7 305.2 519.7 306.5 519.7 307.7 519.7 308.9 519.7 310.2 519.6 311.4 519.6 312.7 519.6 313.9 519.5 315.2 519.4 316.4 519.4 317.7 519.2 318.9 519.1 320.1 519.0 321.4 518.8 322.6 518.6 323.9 518.4 325.1 518.1 326.4 517.8 327.6 517.4 328.9 517.1 330.1 516.6 331.3 516.2 332.6 515.7 333.8 515.2 335.1 514.6 336.3 514.0 337.6 513.4 338.8 512.8 340.1 512.2 341.3 511.6 342.5 511.1 343.8 510.5 345 510.0 346.3 509.6 347.5 509.2 348.8 508.9 350 508.6 351.3 508.5 352.5 508.4 353.7 508.4 355 508.6 356.2 508.8 357.5 509.1 358.7 509.4 360 509.9 361.2 510.4 362.5 510.9 363.7 511.5 364.9 512.2 366.2 512.8 367.4 513.4 368.7 514.0 369.9 514.7 371.2 515.3 372.4 515.8 373.7 516.4 374.9 516.9 376.1 517.4 377.4 517.8 378.6 518.2 379.9 518.6 381.1 518.9 382.4 519.2 383.6 519.5 384.9 519.7 386.1 519.9 387.3 520.0 388.6 520.2 389.8 520.3 391.1 520.4 392.3 520.5 393.6 520.6 394.8 520.7 396.1 520.7 397.3 520.8 398.6 520.8 399.8 520.9 401 520.9 402.3 520.9 403.5 521.0 404.8 521.0 406 521.0 407.3 521.1 408.5 521.1 409.8 521.1 411 521.1 412.2 521.1 413.5 521.2 414.7 521.2 416 521.2 417.2 521.2 418.5 521.2 419.7 521.3 421 521.3 422.2 521.3 423.4 521.3 424.7 521.3 425.9 521.3 427.2 521.4 428.4 521.4 429.7 521.4 430.9 521.4 432.2 521.4 433.4 521.4" fill="none" stroke="#b58ae0" stroke-width="0.8" stroke-linejoin="round"/><path d="M260.4 519.2 261.6 519.2 262.9 519.3 264.1 519.3 265.4 519.3 266.6 519.3 267.9 519.3 269.1 519.3 270.4 519.3 271.6 519.3 272.8 519.3 274.1 519.4 275.3 519.4 276.6 519.4 277.8 519.4 279.1 519.4 280.3 519.4 281.6 519.4 282.8 519.3 284 519.3 285.3 519.3 286.5 519.2 287.8 519.2 289 519.1 290.3 519.0 291.5 518.8 292.8 518.7 294 518.5 295.2 518.2 296.5 517.9 297.7 517.6 299 517.3 300.2 516.9 301.5 516.4 302.7 516.0 304 515.5 305.2 515.1 306.5 514.7 307.7 514.3 308.9 513.9 310.2 513.7 311.4 513.5 312.7 513.4 313.9 513.4 315.2 513.6 316.4 513.8 317.7 514.1 318.9 514.5 320.1 514.9 321.4 515.4 322.6 515.9 323.9 516.3 325.1 516.8 326.4 517.3 327.6 517.7 328.9 518.1 330.1 518.4 331.3 518.7 332.6 519.0 333.8 519.2 335.1 519.4 336.3 519.6 337.6 519.7 338.8 519.8 340.1 519.9 341.3 520.0 342.5 520.1 343.8 520.1 345 520.2 346.3 520.2 347.5 520.2 348.8 520.3 350 520.3 351.3 520.3 352.5 520.4 353.7 520.4 355 520.4 356.2 520.4 357.5 520.4 358.7 520.5 360 520.5 361.2 520.5 362.5 520.5 363.7 520.5 364.9 520.6 366.2 520.6 367.4 520.6 368.7 520.6 369.9 520.6 371.2 520.7 372.4 520.7 373.7 520.7 374.9 520.7 376.1 520.7 377.4 520.7 378.6 520.8 379.9 520.8 381.1 520.8 382.4 520.8 383.6 520.8 384.9 520.8 386.1 520.9 387.3 520.9 388.6 520.9 389.8 520.9 391.1 520.9 392.3 520.9 393.6 521.0 394.8 521.0 396.1 521.0 397.3 521.0 398.6 521.0 399.8 521.0 401 521.1 402.3 521.1 403.5 521.1 404.8 521.1 406 521.1 407.3 521.1 408.5 521.2 409.8 521.2 411 521.2 412.2 521.2 413.5 521.2 414.7 521.2 416 521.3 417.2 521.3 418.5 521.3 419.7 521.3 421 521.3 422.2 521.3 423.4 521.4 424.7 521.4 425.9 521.4 427.2 521.4 428.4 521.4 429.7 521.4 430.9 521.5 432.2 521.5 433.4 521.5" fill="none" stroke="#5cc0ea" stroke-width="0.8" stroke-linejoin="round"/><path d="M260.4 519.3 261.6 519.3 262.9 519.3 264.1 519.3 265.4 519.3 266.6 519.3 267.9 519.4 269.1 519.4 270.4 519.4 271.6 519.4 272.8 519.4 274.1 519.4 275.3 519.4 276.6 519.5 277.8 519.5 279.1 519.5 280.3 519.5 281.6 519.5 282.8 519.5 284 519.5 285.3 519.6 286.5 519.6 287.8 519.6 289 519.6 290.3 519.6 291.5 519.6 292.8 519.6 294 519.7 295.2 519.7 296.5 519.7 297.7 519.7 299 519.7 300.2 519.7 301.5 519.7 302.7 519.8 304 519.8 305.2 519.8 306.5 519.8 307.7 519.8 308.9 519.8 310.2 519.8 311.4 519.9 312.7 519.9 313.9 519.9 315.2 519.9 316.4 519.9 317.7 519.9 318.9 519.9 320.1 519.9 321.4 519.9 322.6 520.0 323.9 520.0 325.1 520.0 326.4 520.0 327.6 520.0 328.9 520.0 330.1 520.0 331.3 520.0 332.6 520.0 333.8 520.0 335.1 520.0 336.3 520.0 337.6 520.0 338.8 520.0 340.1 520.0 341.3 520.0 342.5 520.0 343.8 520.0 345 520.0 346.3 520.0 347.5 519.9 348.8 519.9 350 519.8 351.3 519.7 352.5 519.6 353.7 519.5 355 519.3 356.2 519.1 357.5 518.9 358.7 518.6 360 518.2 361.2 517.8 362.5 517.3 363.7 516.7 364.9 516.1 366.2 515.4 367.4 514.7 368.7 513.9 369.9 513.0 371.2 512.2 372.4 511.3 373.7 510.4 374.9 509.6 376.1 508.8 377.4 508.1 378.6 507.6 379.9 507.2 381.1 506.9 382.4 506.8 383.6 506.9 384.9 507.1 386.1 507.6 387.3 508.1 388.6 508.8 389.8 509.6 391.1 510.5 392.3 511.4 393.6 512.3 394.8 513.2 396.1 514.0 397.3 514.9 398.6 515.7 399.8 516.4 401 517.1 402.3 517.7 403.5 518.2 404.8 518.7 406 519.1 407.3 519.4 408.5 519.7 409.8 520.0 411 520.2 412.2 520.4 413.5 520.5 414.7 520.6 416 520.7 417.2 520.8 418.5 520.9 419.7 520.9 421 521.0 422.2 521.0 423.4 521.1 424.7 521.1 425.9 521.1 427.2 521.2 428.4 521.2 429.7 521.2 430.9 521.3 432.2 521.3 433.4 521.3" fill="none" stroke="#5cc0ea" stroke-width="0.8" stroke-linejoin="round"/><path d="M260.4 519.3 261.6 519.3 262.9 519.3 264.1 519.3 265.4 519.3 266.6 519.3 267.9 519.3 269.1 519.4 270.4 519.4 271.6 519.4 272.8 519.4 274.1 519.4 275.3 519.4 276.6 519.4 277.8 519.5 279.1 519.5 280.3 519.5 281.6 519.5 282.8 519.5 284 519.5 285.3 519.5 286.5 519.5 287.8 519.5 289 519.6 290.3 519.6 291.5 519.6 292.8 519.6 294 519.6 295.2 519.6 296.5 519.6 297.7 519.6 299 519.6 300.2 519.6 301.5 519.6 302.7 519.5 304 519.5 305.2 519.5 306.5 519.4 307.7 519.3 308.9 519.2 310.2 518.9 311.4 518.6 312.7 518.2 313.9 517.6 315.2 516.8 316.4 515.9 317.7 514.8 318.9 513.6 320.1 512.4 321.4 511.4 322.6 510.6 323.9 510.1 325.1 510.2 326.4 510.7 327.6 511.6 328.9 512.7 330.1 514.0 331.3 515.1 332.6 516.2 333.8 517.2 335.1 517.9 336.3 518.6 337.6 519.0 338.8 519.4 340.1 519.6 341.3 519.8 342.5 519.9 343.8 520.0 345 520.0 346.3 520.1 347.5 520.2 348.8 520.2 350 520.2 351.3 520.3 352.5 520.3 353.7 520.3 355 520.4 356.2 520.4 357.5 520.4 358.7 520.4 360 520.5 361.2 520.5 362.5 520.5 363.7 520.5 364.9 520.5 366.2 520.6 367.4 520.6 368.7 520.6 369.9 520.6 371.2 520.6 372.4 520.7 373.7 520.7 374.9 520.7 376.1 520.7 377.4 520.7 378.6 520.8 379.9 520.8 381.1 520.8 382.4 520.8 383.6 520.8 384.9 520.8 386.1 520.9 387.3 520.9 388.6 520.9 389.8 520.9 391.1 520.9 392.3 520.9 393.6 521.0 394.8 521.0 396.1 521.0 397.3 521.0 398.6 521.0 399.8 521.0 401 521.1 402.3 521.1 403.5 521.1 404.8 521.1 406 521.1 407.3 521.1 408.5 521.2 409.8 521.2 411 521.2 412.2 521.2 413.5 521.2 414.7 521.2 416 521.3 417.2 521.3 418.5 521.3 419.7 521.3 421 521.3 422.2 521.3 423.4 521.4 424.7 521.4 425.9 521.4 427.2 521.4 428.4 521.4 429.7 521.4 430.9 521.5 432.2 521.5 433.4 521.5" fill="none" stroke="#3a5ae8" stroke-width="0.8" stroke-linejoin="round"/><path d="M260.4 519.3 261.6 519.3 262.9 519.3 264.1 519.3 265.4 519.3 266.6 519.4 267.9 519.4 269.1 519.4 270.4 519.4 271.6 519.4 272.8 519.4 274.1 519.5 275.3 519.5 276.6 519.5 277.8 519.5 279.1 519.5 280.3 519.5 281.6 519.6 282.8 519.6 284 519.6 285.3 519.6 286.5 519.6 287.8 519.6 289 519.6 290.3 519.7 291.5 519.7 292.8 519.7 294 519.7 295.2 519.7 296.5 519.7 297.7 519.7 299 519.8 300.2 519.8 301.5 519.8 302.7 519.8 304 519.8 305.2 519.8 306.5 519.9 307.7 519.9 308.9 519.9 310.2 519.9 311.4 519.9 312.7 519.9 313.9 519.9 315.2 520.0 316.4 520.0 317.7 520.0 318.9 520.0 320.1 520.0 321.4 520.0 322.6 520.0 323.9 520.1 325.1 520.1 326.4 520.1 327.6 520.1 328.9 520.1 330.1 520.1 331.3 520.1 332.6 520.2 333.8 520.2 335.1 520.2 336.3 520.2 337.6 520.2 338.8 520.2 340.1 520.2 341.3 520.3 342.5 520.3 343.8 520.3 345 520.3 346.3 520.3 347.5 520.3 348.8 520.3 350 520.3 351.3 520.3 352.5 520.4 353.7 520.4 355 520.4 356.2 520.4 357.5 520.4 358.7 520.4 360 520.4 361.2 520.4 362.5 520.4 363.7 520.4 364.9 520.4 366.2 520.4 367.4 520.4 368.7 520.4 369.9 520.4 371.2 520.4 372.4 520.4 373.7 520.4 374.9 520.4 376.1 520.4 377.4 520.3 378.6 520.3 379.9 520.3 381.1 520.2 382.4 520.2 383.6 520.1 384.9 519.9 386.1 519.7 387.3 519.3 388.6 518.8 389.8 517.9 391.1 516.8 392.3 515.1 393.6 513.0 394.8 510.4 396.1 507.5 397.3 504.4 398.6 501.5 399.8 499.2 401 498.0 402.3 498.2 403.5 499.7 404.8 502.3 406 505.3 407.3 508.4 408.5 511.3 409.8 513.8 411 515.8 412.2 517.4 413.5 518.5 414.7 519.3 416 519.8 417.2 520.1 418.5 520.4 419.7 520.5 421 520.7 422.2 520.8 423.4 520.8 424.7 520.9 425.9 521.0 427.2 521.0 428.4 521.1 429.7 521.1 430.9 521.2 432.2 521.2 433.4 521.2" fill="none" stroke="#3a5ae8" stroke-width="0.8" stroke-linejoin="round"/><path d="M260.4 519.3 261.6 519.3 262.9 519.3 264.1 519.3 265.4 519.4 266.6 519.4 267.9 519.4 269.1 519.4 270.4 519.4 271.6 519.4 272.8 519.5 274.1 519.5 275.3 519.5 276.6 519.5 277.8 519.5 279.1 519.5 280.3 519.6 281.6 519.6 282.8 519.6 284 519.6 285.3 519.6 286.5 519.6 287.8 519.6 289 519.7 290.3 519.7 291.5 519.7 292.8 519.7 294 519.7 295.2 519.7 296.5 519.8 297.7 519.8 299 519.8 300.2 519.8 301.5 519.8 302.7 519.8 304 519.9 305.2 519.9 306.5 519.9 307.7 519.9 308.9 519.9 310.2 519.9 311.4 519.9 312.7 520.0 313.9 520.0 315.2 520.0 316.4 520.0 317.7 520.0 318.9 520.0 320.1 520.1 321.4 520.1 322.6 520.1 323.9 520.1 325.1 520.1 326.4 520.1 327.6 520.2 328.9 520.2 330.1 520.2 331.3 520.2 332.6 520.2 333.8 520.2 335.1 520.2 336.3 520.3 337.6 520.3 338.8 520.3 340.1 520.3 341.3 520.3 342.5 520.3 343.8 520.4 345 520.4 346.3 520.4 347.5 520.4 348.8 520.4 350 520.4 351.3 520.5 352.5 520.5 353.7 520.5 355 520.5 356.2 520.5 357.5 520.5 358.7 520.6 360 520.6 361.2 520.6 362.5 520.6 363.7 520.6 364.9 520.6 366.2 520.6 367.4 520.7 368.7 520.7 369.9 520.7 371.2 520.7 372.4 520.7 373.7 520.7 374.9 520.8 376.1 520.8 377.4 520.8 378.6 520.8 379.9 520.8 381.1 520.8 382.4 520.9 383.6 520.9 384.9 520.9 386.1 520.9 387.3 520.9 388.6 520.9 389.8 520.9 391.1 521.0 392.3 521.0 393.6 521.0 394.8 521.0 396.1 521.0 397.3 521.0 398.6 521.1 399.8 521.1 401 521.1 402.3 521.1 403.5 521.1 404.8 521.1 406 521.2 407.3 521.2 408.5 521.2 409.8 521.2 411 521.2 412.2 521.2 413.5 521.2 414.7 521.3 416 521.3 417.2 521.3 418.5 521.3 419.7 521.3 421 521.3 422.2 521.4 423.4 521.4 424.7 521.4 425.9 521.4 427.2 521.4 428.4 521.4 429.7 521.5 430.9 521.5 432.2 521.5 433.4 521.5" fill="none" stroke="#4a66e0" stroke-width="0.9" stroke-linejoin="round"/><path d="M260.4 516.8 261.9 516.7 263.3 516.7 264.8 516.6 266.2 516.5 267.7 516.4 269.1 516.2 270.6 516.1 272 516.0 273.5 515.8 274.9 515.6 276.4 515.5 277.8 515.3 279.3 515.1 280.8 514.8 282.2 514.4 283.7 514.0 285.1 513.5 286.6 513.0 288 512.5 289.5 512.0 290.9 511.4 292.4 510.8 293.8 510.2 295.3 509.6 296.7 509.1 298.2 508.5 299.7 507.9 301.1 507.3 302.6 506.6 304 505.9 305.5 505.3 306.9 504.6 308.4 503.9 309.8 503.2 311.3 502.6 312.7 501.9 314.2 501.2 315.6 500.4 317.1 499.7 318.6 499.1 320 498.6 321.5 498.2 322.9 497.9 324.4 497.6 325.8 497.6 327.3 497.9 328.7 498.3 330.2 498.9 331.6 499.6 333.1 500.2 334.5 500.8 336 501.3 337.5 501.6 338.9 502.0 340.4 502.3 341.8 502.6 343.3 502.9 344.7 503.1 346.2 503.2 347.6 503.3 349.1 503.3 350.5 503.1 352 502.9 353.4 502.6 354.9 502.3 356.3 502.1 357.8 501.8 359.3 501.7 360.7 501.5 362.2 501.4 363.6 501.3 365.1 501.2 366.5 501.0 368 500.9 369.4 500.7 370.9 500.6 372.3 500.3 373.8 500.1 375.2 499.8 376.7 499.4 378.2 499.1 379.6 498.7 381.1 498.2 382.5 497.8 384 497.3 385.4 496.9 386.9 496.3 388.3 495.7 389.8 495.1 391.2 494.4 392.7 493.7 394.1 493.0 395.6 492.2 397.1 491.2 398.5 490.1 400 489.4 401.4 489.5 402.9 490.8 404.3 493.0 405.8 495.2 407.2 497.7 408.7 500.7 410.1 503.5 411.6 505.8 413 508.2 414.5 510.3 416 512.2 417.4 513.7 418.9 514.9 420.3 515.9 421.8 516.8 423.2 517.4 424.7 517.9 426.1 518.3 427.6 518.6 429 519.0 430.5 519.3 431.9 519.5 433.4 519.7" fill="none" stroke="#444" stroke-width="0.8" stroke-linejoin="round" stroke-dasharray="0.9 1.1"/></g><rect x="260.4" y="397.5" width="173" height="139.1" fill="none" stroke="#3a3a3a" stroke-width="1"/><line x1="260.4" y1="536.6" x2="260.4" y2="539.6" stroke="#3a3a3a" stroke-width="1"/><text x="260.4" y="548.4" font-size="10" text-anchor="middle" fill="#1a1a1a" stroke="#1a1a1a" stroke-width="0.1">735</text><line x1="289.35" y1="536.6" x2="289.35" y2="539.6" stroke="#3a3a3a" stroke-width="1"/><text x="289.35" y="548.4" font-size="10" text-anchor="middle" fill="#1a1a1a" stroke="#1a1a1a" stroke-width="0.1">730</text><line x1="318.3" y1="536.6" x2="318.3" y2="539.6" stroke="#3a3a3a" stroke-width="1"/><text x="318.3" y="548.4" font-size="10" text-anchor="middle" fill="#1a1a1a" stroke="#1a1a1a" stroke-width="0.1">725</text><line x1="347.25" y1="536.6" x2="347.25" y2="539.6" stroke="#3a3a3a" stroke-width="1"/><text x="347.25" y="548.4" font-size="10" text-anchor="middle" fill="#1a1a1a" stroke="#1a1a1a" stroke-width="0.1">720</text><line x1="376.2" y1="536.6" x2="376.2" y2="539.6" stroke="#3a3a3a" stroke-width="1"/><text x="376.2" y="548.4" font-size="10" text-anchor="middle" fill="#1a1a1a" stroke="#1a1a1a" stroke-width="0.1">715</text><line x1="405.15" y1="536.6" x2="405.15" y2="539.6" stroke="#3a3a3a" stroke-width="1"/><text x="405.15" y="548.4" font-size="10" text-anchor="middle" fill="#1a1a1a" stroke="#1a1a1a" stroke-width="0.1">710</text><line x1="434.1" y1="536.6" x2="434.1" y2="539.6" stroke="#3a3a3a" stroke-width="1"/><text x="434.1" y="548.4" font-size="10" text-anchor="middle" fill="#1a1a1a" stroke="#1a1a1a" stroke-width="0.1">705</text><line x1="274.875" y1="536.6" x2="274.875" y2="538.4" stroke="#3a3a3a" stroke-width="1"/><line x1="303.825" y1="536.6" x2="303.825" y2="538.4" stroke="#3a3a3a" stroke-width="1"/><line x1="332.775" y1="536.6" x2="332.775" y2="538.4" stroke="#3a3a3a" stroke-width="1"/><line x1="361.725" y1="536.6" x2="361.725" y2="538.4" stroke="#3a3a3a" stroke-width="1"/><line x1="390.675" y1="536.6" x2="390.675" y2="538.4" stroke="#3a3a3a" stroke-width="1"/><line x1="419.625" y1="536.6" x2="419.625" y2="538.4" stroke="#3a3a3a" stroke-width="1"/><text font-size="10.5" text-anchor="middle" fill="#1a1a1a" transform="translate(347.3 558.2) scale(1.03 1)" stroke="#1a1a1a" stroke-width="0.1">Binding energy (eV)</text><text font-size="10.7" text-anchor="middle" fill="#1a1a1a" transform="translate(254.8 459.9) rotate(-90) scale(1.02 1)" stroke="#1a1a1a" stroke-width="0.1">Intensity (a.u.)</text><text x="233.3" y="393.4" font-size="22" text-anchor="start" fill="#1a1a1a" stroke="#000" stroke-width="0.3">g</text><text font-size="8.3" text-anchor="start" fill="#1a1a1a" transform="translate(261.5 406.9) scale(1.08 1)" stroke="#1a1a1a" stroke-width="0.1">CoO<tspan font-size="5.8" dy="2" font-style="italic">x</tspan><tspan dy="-2">-BCN-FeOOH</tspan></text><text x="261.6" y="436.4" font-size="9.3" text-anchor="start" fill="#1a1a1a" stroke="#1a1a1a" stroke-width="0.1">dark</text><text font-size="9" text-anchor="start" fill="#1a1a1a" transform="translate(262.2 494.4) scale(1.03 1)" stroke="#1a1a1a" stroke-width="0.1">light</text><text x="311" y="418.4" font-size="8.9" text-anchor="start" fill="#1a1a1a" stroke="#1a1a1a" stroke-width="0.1">Fe 2<tspan font-style="italic">p</tspan><tspan font-size="6" dy="2.2">1/2</tspan></text><text x="386.6" y="415.5" font-size="8.9" text-anchor="start" fill="#1a1a1a" stroke="#1a1a1a" stroke-width="0.1">Fe 2<tspan font-style="italic">p</tspan><tspan font-size="6" dy="2.2">3/2</tspan></text><text font-size="8" text-anchor="start" fill="#70c6ec" transform="translate(283.4 427.2) scale(1.05 1)" stroke="#70c6ec" stroke-width="0.1">Fe(OH)<tspan font-size="5.8" dy="2" font-style="italic">x</tspan></text><text font-size="8" text-anchor="start" fill="#70c6ec" transform="translate(353.7 415.8) scale(1.05 1)" stroke="#70c6ec" stroke-width="0.1">Fe(OH)<tspan font-size="5.8" dy="2" font-style="italic">x</tspan></text><text x="340.6" y="427.6" font-size="8.2" text-anchor="start" fill="#3f6ef0" stroke="#3f6ef0" stroke-width="0.1">Fe (III)</text><text x="409.8" y="430.5" font-size="8.2" text-anchor="start" fill="#3f6ef0" stroke="#3f6ef0" stroke-width="0.1">Fe (III)</text><text x="315" y="486.4" font-size="8.2" text-anchor="start" fill="#3f6ef0" stroke="#3f6ef0" stroke-width="0.1">Fe (III)</text><text x="390.1" y="472.9" font-size="8.2" text-anchor="start" fill="#3f6ef0" stroke="#3f6ef0" stroke-width="0.1">Fe (III)</text><text font-size="8.3" text-anchor="start" fill="#1a1a1a" transform="translate(405.5 483.4) scale(1.05 1)" stroke="#1a1a1a" stroke-width="0.1">0.25 eV</text><line x1="309.9" y1="444.3" x2="300.5" y2="430.5" stroke="#222" stroke-width="0.8" marker-end="url(#ah2)"/><line x1="327.6" y1="442.3" x2="344.3" y2="428" stroke="#222" stroke-width="0.8" marker-end="url(#ah2)"/><line x1="376.5" y1="438.1" x2="368.7" y2="419" stroke="#222" stroke-width="0.8" marker-end="url(#ah2)"/><line x1="404.8" y1="437.5" x2="411" y2="432.7" stroke="#222" stroke-width="0.8" marker-end="url(#ah2)"/><line x1="329" y1="490.4" x2="345.4" y2="490.4" stroke="#222" stroke-width="0.9" marker-end="url(#ah2)"/><line x1="404.8" y1="486.7" x2="432.8" y2="486.7" stroke="#222" stroke-width="0.9" marker-end="url(#ah2)"/><line x1="323.5" y1="425" x2="323.5" y2="449" stroke="#333" stroke-width="0.9" stroke-dasharray="1 1"/><line x1="399.6" y1="419.7" x2="399.6" y2="450" stroke="#333" stroke-width="0.9" stroke-dasharray="1 1"/><line x1="324.4" y1="488.9" x2="324.4" y2="516.5" stroke="#333" stroke-width="0.9" stroke-dasharray="1 1"/><line x1="401.5" y1="476.2" x2="401.5" y2="513.6" stroke="#333" stroke-width="0.9" stroke-dasharray="1 1"/><clipPath id="ch"><rect x="497.7" y="398.9" width="173.1" height="138.1"/></clipPath><g clip-path="url(#ch)"><path d="M497.7 461.7 498.3 456.2 498.9 455.6 499.4 449.7 500 456.7 500.6 455.8 501.2 455.1 501.8 457.4 502.3 457.5 502.9 450.1 503.5 453.8 504.1 454.8 504.6 459.3 505.2 457.4 505.8 452.2 506.4 452.6 507 457.5 507.5 459.6 508.1 455.1 508.7 453.2 509.3 457.9 509.9 454.0 510.4 456.6 511 458.7 511.6 456.1 512.2 454.4 512.8 450.1 513.3 452.2 513.9 453.3 514.5 452.1 515.1 452.9 515.6 452.0 516.2 452.7 516.8 452.0 517.4 453.2 518 453.0 518.5 453.4 519.1 456.3 519.7 448.1 520.3 451.6 520.9 451.3 521.4 448.5 522 451.2 522.6 451.7 523.2 454.2 523.8 448.2 524.3 451.5 524.9 451.1 525.5 446.0 526.1 444.8 526.6 451.8 527.2 446.9 527.8 452.8 528.4 451.1 529 450.6 529.5 449.7 530.1 452.5 530.7 446.8 531.3 448.5 531.9 449.8 532.4 444.4 533 452.0 533.6 446.2 534.2 448.1 534.8 454.0 535.3 443.8 535.9 446.5 536.5 452.1 537.1 444.9 537.6 446.6 538.2 449.1 538.8 448.9 539.4 449.2 540 448.5 540.5 451.1 541.1 450.1 541.7 449.0 542.3 445.5 542.9 445.4 543.4 442.1 544 449.1 544.6 442.3 545.2 449.5 545.8 452.1 546.3 444.2 546.9 445.2 547.5 445.7 548.1 449.3 548.6 439.0 549.2 446.5 549.8 445.4 550.4 446.0 551 450.1 551.5 444.0 552.1 446.7 552.7 447.2 553.3 448.7 553.9 439.4 554.4 449.1 555 447.2 555.6 448.2 556.2 445.9 556.8 441.2 557.3 443.7 557.9 447.5 558.5 445.2 559.1 444.8 559.6 449.6 560.2 450.5 560.8 444.0 561.4 449.3 562 438.4 562.5 437.9 563.1 445.4 563.7 442.0 564.3 443.8 564.9 443.3 565.4 441.2 566 442.9 566.6 441.1 567.2 436.2 567.8 440.7 568.3 440.3 568.9 444.5 569.5 436.4 570.1 439.4 570.6 438.2 571.2 439.0 571.8 444.0 572.4 440.7 573 443.0 573.5 440.7 574.1 442.7 574.7 438.4 575.3 440.8 575.9 442.4 576.4 444.8 577 442.9 577.6 444.1 578.2 443.7 578.8 440.4 579.3 447.7 579.9 444.8 580.5 446.4 581.1 443.0 581.6 444.9 582.2 445.7 582.8 442.6 583.4 446.8 584 449.9 584.5 451.5 585.1 447.6 585.7 448.3 586.3 447.8 586.9 447.3 587.4 452.9 588 452.4 588.6 452.2 589.2 448.4 589.7 449.0 590.3 451.9 590.9 451.3 591.5 452.9 592.1 450.9 592.6 454.8 593.2 458.0 593.8 457.5 594.4 457.7 595 453.6 595.5 455.9 596.1 452.3 596.7 455.6 597.3 450.7 597.9 451.4 598.4 450.7 599 454.0 599.6 452.5 600.2 451.8 600.7 447.8 601.3 450.8 601.9 446.0 602.5 453.4 603.1 448.6 603.6 449.0 604.2 447.6 604.8 443.1 605.4 443.2 606 446.4 606.5 450.0 607.1 442.5 607.7 443.2 608.3 444.6 608.9 440.4 609.4 439.4 610 442.4 610.6 443.0 611.2 441.7 611.7 446.5 612.3 441.5 612.9 442.5 613.5 445.4 614.1 445.3 614.6 436.0 615.2 438.9 615.8 442.7 616.4 435.5 617 436.5 617.5 435.2 618.1 434.7 618.7 435.1 619.3 438.4 619.9 441.1 620.4 441.7 621 437.4 621.6 431.9 622.2 436.9 622.7 436.0 623.3 437.7 623.9 436.3 624.5 431.6 625.1 437.5 625.6 430.6 626.2 434.2 626.8 436.7 627.4 436.6 628 439.8 628.5 428.9 629.1 436.0 629.7 436.8 630.3 433.9 630.9 436.3 631.4 431.4 632 431.1 632.6 435.3 633.2 431.0 633.7 431.6 634.3 428.7 634.9 431.1 635.5 435.4 636.1 432.7 636.6 435.4 637.2 435.3 637.8 431.2 638.4 429.9 639 427.1 639.5 426.7 640.1 425.8 640.7 428.0 641.3 421.2 641.9 425.4 642.4 424.8 643 422.0 643.6 422.1 644.2 425.7 644.7 425.3 645.3 418.0 645.9 418.7 646.5 417.4 647.1 416.9 647.6 421.2 648.2 418.5 648.8 419.8 649.4 421.3 650 415.7 650.5 413.1 651.1 418.5 651.7 422.2 652.3 420.4 652.9 425.5 653.4 426.3 654 427.5 654.6 426.8 655.2 424.9 655.7 424.3 656.3 433.2 656.9 433.2 657.5 431.2 658.1 434.2 658.6 436.2 659.2 434.6 659.8 441.5 660.4 440.2 661 443.0 661.5 447.1 662.1 444.8 662.7 449.3 663.3 450.4 663.9 450.6 664.4 451.9 665 457.9 665.6 453.5 666.2 459.3 666.7 453.3 667.3 458.4 667.9 457.5 668.5 455.6 669.1 451.0 669.6 460.7 670.2 456.1 670.8 453.4" fill="none" stroke="#bba2e4" stroke-width="1" stroke-linejoin="round"/><path d="M497.7 456.9 498.9 456.8 500.2 456.7 501.4 456.6 502.7 456.4 503.9 456.3 505.2 456.1 506.4 455.9 507.7 455.7 508.9 455.4 510.2 455.2 511.4 454.9 512.6 454.6 513.9 454.3 515.1 454.0 516.4 453.6 517.6 453.3 518.9 452.9 520.1 452.6 521.4 452.2 522.6 451.8 523.9 451.4 525.1 451.0 526.3 450.6 527.6 450.3 528.8 449.9 530.1 449.6 531.3 449.2 532.6 448.9 533.8 448.7 535.1 448.4 536.3 448.2 537.6 448.1 538.8 448.0 540 447.9 541.3 447.9 542.5 447.9 543.8 448.0 545 448.1 546.3 448.3 547.5 448.5 548.8 448.8 550 449.1 551.2 449.4 552.5 449.7 553.7 450.1 555 450.5 556.2 450.9 557.5 451.3 558.7 451.7 560 452.2 561.2 452.6 562.5 453.0 563.7 453.4 564.9 453.9 566.2 454.3 567.4 454.6 568.7 455.0 569.9 455.4 571.2 455.7 572.4 456.1 573.7 456.4 574.9 456.7 576.2 456.9 577.4 457.2 578.6 457.4 579.9 457.6 581.1 457.8 582.4 458.0 583.6 458.2 584.9 458.4 586.1 458.5 587.4 458.6 588.6 458.8 589.9 458.9 591.1 459.0 592.3 459.1 593.6 459.1 594.8 459.2 596.1 459.3 597.3 459.3 598.6 459.4 599.8 459.5 601.1 459.5 602.3 459.6 603.6 459.6 604.8 459.6 606 459.7 607.3 459.7 608.5 459.8 609.8 459.8 611 459.8 612.3 459.9 613.5 459.9 614.8 459.9 616 459.9 617.3 460.0 618.5 460.0 619.7 460.0 621 460.1 622.2 460.1 623.5 460.1 624.7 460.1 626 460.2 627.2 460.2 628.5 460.2 629.7 460.2 630.9 460.3 632.2 460.3 633.4 460.3 634.7 460.3 635.9 460.4 637.2 460.4 638.4 460.4 639.7 460.4 640.9 460.5 642.2 460.5 643.4 460.5 644.6 460.5 645.9 460.6 647.1 460.6 648.4 460.6 649.6 460.6 650.9 460.6 652.1 460.7 653.4 460.7 654.6 460.7 655.9 460.7 657.1 460.8 658.3 460.8 659.6 460.8 660.8 460.8 662.1 460.9 663.3 460.9 664.6 460.9 665.8 460.9 667.1 461.0 668.3 461.0 669.6 461.0 670.8 461.0" fill="none" stroke="#f09a68" stroke-width="1" stroke-linejoin="round"/><path d="M497.7 458.1 498.9 458.1 500.2 458.1 501.4 458.1 502.7 458.1 503.9 458.2 505.2 458.2 506.4 458.2 507.7 458.2 508.9 458.2 510.2 458.3 511.4 458.3 512.6 458.3 513.9 458.3 515.1 458.3 516.4 458.4 517.6 458.4 518.9 458.4 520.1 458.4 521.4 458.4 522.6 458.5 523.9 458.5 525.1 458.5 526.3 458.5 527.6 458.5 528.8 458.6 530.1 458.6 531.3 458.6 532.6 458.6 533.8 458.6 535.1 458.7 536.3 458.7 537.6 458.7 538.8 458.7 540 458.7 541.3 458.7 542.5 458.8 543.8 458.8 545 458.8 546.3 458.8 547.5 458.8 548.8 458.9 550 458.9 551.2 458.9 552.5 458.9 553.7 458.9 555 458.9 556.2 458.9 557.5 459.0 558.7 459.0 560 459.0 561.2 459.0 562.5 459.0 563.7 459.0 564.9 459.0 566.2 459.0 567.4 459.1 568.7 459.1 569.9 459.1 571.2 459.1 572.4 459.1 573.7 459.1 574.9 459.1 576.2 459.0 577.4 459.0 578.6 459.0 579.9 458.9 581.1 458.9 582.4 458.8 583.6 458.7 584.9 458.6 586.1 458.5 587.4 458.3 588.6 458.1 589.9 457.8 591.1 457.5 592.3 457.2 593.6 456.8 594.8 456.3 596.1 455.8 597.3 455.2 598.6 454.6 599.8 454.0 601.1 453.3 602.3 452.5 603.6 451.7 604.8 451.0 606 450.2 607.3 449.4 608.5 448.7 609.8 448.0 611 447.4 612.3 446.9 613.5 446.4 614.8 446.2 616 446.0 617.3 446.0 618.5 446.2 619.7 446.5 621 446.9 622.2 447.4 623.5 448.0 624.7 448.7 626 449.5 627.2 450.3 628.5 451.1 629.7 452.0 630.9 452.8 632.2 453.6 633.4 454.3 634.7 455.1 635.9 455.7 637.2 456.4 638.4 456.9 639.7 457.4 640.9 457.9 642.2 458.3 643.4 458.7 644.6 459.0 645.9 459.2 647.1 459.5 648.4 459.7 649.6 459.8 650.9 460.0 652.1 460.1 653.4 460.2 654.6 460.3 655.9 460.4 657.1 460.4 658.3 460.5 659.6 460.5 660.8 460.6 662.1 460.6 663.3 460.7 664.6 460.7 665.8 460.8 667.1 460.8 668.3 460.8 669.6 460.9 670.8 460.9" fill="none" stroke="#f09a68" stroke-width="1" stroke-linejoin="round"/><path d="M497.7 458.1 498.9 458.1 500.2 458.1 501.4 458.1 502.7 458.1 503.9 458.2 505.2 458.2 506.4 458.2 507.7 458.2 508.9 458.2 510.2 458.3 511.4 458.3 512.6 458.3 513.9 458.3 515.1 458.3 516.4 458.4 517.6 458.4 518.9 458.4 520.1 458.4 521.4 458.4 522.6 458.5 523.9 458.5 525.1 458.5 526.3 458.5 527.6 458.5 528.8 458.6 530.1 458.6 531.3 458.6 532.6 458.6 533.8 458.6 535.1 458.7 536.3 458.7 537.6 458.7 538.8 458.7 540 458.7 541.3 458.8 542.5 458.8 543.8 458.8 545 458.8 546.3 458.8 547.5 458.8 548.8 458.9 550 458.9 551.2 458.9 552.5 458.9 553.7 458.9 555 459.0 556.2 459.0 557.5 459.0 558.7 459.0 560 459.0 561.2 459.0 562.5 459.1 563.7 459.1 564.9 459.1 566.2 459.1 567.4 459.1 568.7 459.1 569.9 459.1 571.2 459.2 572.4 459.2 573.7 459.2 574.9 459.2 576.2 459.2 577.4 459.2 578.6 459.2 579.9 459.2 581.1 459.3 582.4 459.3 583.6 459.3 584.9 459.3 586.1 459.3 587.4 459.3 588.6 459.3 589.9 459.3 591.1 459.3 592.3 459.2 593.6 459.2 594.8 459.2 596.1 459.1 597.3 459.1 598.6 459.0 599.8 458.9 601.1 458.8 602.3 458.6 603.6 458.5 604.8 458.3 606 458.0 607.3 457.7 608.5 457.4 609.8 457.0 611 456.5 612.3 456.0 613.5 455.4 614.8 454.8 616 454.1 617.3 453.3 618.5 452.5 619.7 451.7 621 450.8 622.2 449.8 623.5 448.9 624.7 447.9 626 447.0 627.2 446.1 628.5 445.2 629.7 444.4 630.9 443.8 632.2 443.2 633.4 442.7 634.7 442.4 635.9 442.3 637.2 442.3 638.4 442.5 639.7 442.9 640.9 443.4 642.2 444.0 643.4 444.8 644.6 445.6 645.9 446.5 647.1 447.4 648.4 448.4 649.6 449.4 650.9 450.4 652.1 451.4 653.4 452.3 654.6 453.2 655.9 454.1 657.1 454.9 658.3 455.6 659.6 456.3 660.8 456.9 662.1 457.4 663.3 457.9 664.6 458.4 665.8 458.7 667.1 459.1 668.3 459.4 669.6 459.6 670.8 459.8" fill="none" stroke="#5ec0ec" stroke-width="1" stroke-linejoin="round"/><path d="M497.7 458.0 498.9 458.0 500.2 458.1 501.4 458.1 502.7 458.1 503.9 458.1 505.2 458.1 506.4 458.2 507.7 458.2 508.9 458.2 510.2 458.2 511.4 458.2 512.6 458.2 513.9 458.3 515.1 458.3 516.4 458.3 517.6 458.3 518.9 458.3 520.1 458.3 521.4 458.4 522.6 458.4 523.9 458.4 525.1 458.4 526.3 458.4 527.6 458.4 528.8 458.4 530.1 458.4 531.3 458.4 532.6 458.5 533.8 458.5 535.1 458.5 536.3 458.5 537.6 458.5 538.8 458.5 540 458.5 541.3 458.5 542.5 458.4 543.8 458.4 545 458.4 546.3 458.4 547.5 458.3 548.8 458.3 550 458.2 551.2 458.0 552.5 457.8 553.7 457.5 555 457.2 556.2 456.6 557.5 456.0 558.7 455.1 560 454.0 561.2 452.8 562.5 451.3 563.7 449.6 564.9 447.9 566.2 446.1 567.4 444.4 568.7 442.9 569.9 441.7 571.2 441.1 572.4 441.1 573.7 441.6 574.9 442.7 576.2 444.2 577.4 446.0 578.6 447.8 579.9 449.6 581.1 451.3 582.4 452.9 583.6 454.2 584.9 455.4 586.1 456.3 587.4 457.1 588.6 457.7 589.9 458.1 591.1 458.4 592.3 458.7 593.6 458.9 594.8 459.0 596.1 459.1 597.3 459.2 598.6 459.3 599.8 459.4 601.1 459.4 602.3 459.5 603.6 459.6 604.8 459.6 606 459.6 607.3 459.7 608.5 459.7 609.8 459.8 611 459.8 612.3 459.8 613.5 459.9 614.8 459.9 616 459.9 617.3 460.0 618.5 460.0 619.7 460.0 621 460.1 622.2 460.1 623.5 460.1 624.7 460.2 626 460.2 627.2 460.2 628.5 460.2 629.7 460.3 630.9 460.3 632.2 460.3 633.4 460.3 634.7 460.4 635.9 460.4 637.2 460.4 638.4 460.4 639.7 460.5 640.9 460.5 642.2 460.5 643.4 460.5 644.6 460.6 645.9 460.6 647.1 460.6 648.4 460.6 649.6 460.7 650.9 460.7 652.1 460.7 653.4 460.7 654.6 460.7 655.9 460.8 657.1 460.8 658.3 460.8 659.6 460.8 660.8 460.9 662.1 460.9 663.3 460.9 664.6 460.9 665.8 461.0 667.1 461.0 668.3 461.0 669.6 461.0 670.8 461.0" fill="none" stroke="#e83848" stroke-width="1" stroke-linejoin="round"/><path d="M497.7 458.1 498.9 458.1 500.2 458.1 501.4 458.2 502.7 458.2 503.9 458.2 505.2 458.2 506.4 458.2 507.7 458.3 508.9 458.3 510.2 458.3 511.4 458.3 512.6 458.3 513.9 458.4 515.1 458.4 516.4 458.4 517.6 458.4 518.9 458.4 520.1 458.5 521.4 458.5 522.6 458.5 523.9 458.5 525.1 458.6 526.3 458.6 527.6 458.6 528.8 458.6 530.1 458.6 531.3 458.7 532.6 458.7 533.8 458.7 535.1 458.7 536.3 458.7 537.6 458.8 538.8 458.8 540 458.8 541.3 458.8 542.5 458.8 543.8 458.9 545 458.9 546.3 458.9 547.5 458.9 548.8 459.0 550 459.0 551.2 459.0 552.5 459.0 553.7 459.0 555 459.1 556.2 459.1 557.5 459.1 558.7 459.1 560 459.1 561.2 459.2 562.5 459.2 563.7 459.2 564.9 459.2 566.2 459.2 567.4 459.3 568.7 459.3 569.9 459.3 571.2 459.3 572.4 459.3 573.7 459.4 574.9 459.4 576.2 459.4 577.4 459.4 578.6 459.4 579.9 459.5 581.1 459.5 582.4 459.5 583.6 459.5 584.9 459.5 586.1 459.5 587.4 459.6 588.6 459.6 589.9 459.6 591.1 459.6 592.3 459.6 593.6 459.7 594.8 459.7 596.1 459.7 597.3 459.7 598.6 459.7 599.8 459.7 601.1 459.7 602.3 459.8 603.6 459.8 604.8 459.8 606 459.8 607.3 459.8 608.5 459.8 609.8 459.8 611 459.8 612.3 459.8 613.5 459.9 614.8 459.9 616 459.9 617.3 459.9 618.5 459.9 619.7 459.8 621 459.8 622.2 459.8 623.5 459.8 624.7 459.8 626 459.8 627.2 459.7 628.5 459.7 629.7 459.6 630.9 459.5 632.2 459.3 633.4 459.0 634.7 458.7 635.9 458.0 637.2 457.1 638.4 455.8 639.7 454.0 640.9 451.6 642.2 448.6 643.4 445.2 644.6 441.5 645.9 438.1 647.1 435.3 648.4 433.7 649.6 433.7 650.9 435.4 652.1 438.2 653.4 441.7 654.6 445.4 655.9 448.9 657.1 451.9 658.3 454.3 659.6 456.2 660.8 457.5 662.1 458.5 663.3 459.2 664.6 459.6 665.8 459.9 667.1 460.1 668.3 460.2 669.6 460.4 670.8 460.5" fill="none" stroke="#4048ea" stroke-width="1" stroke-linejoin="round"/><path d="M497.7 458.1 498.9 458.1 500.2 458.1 501.4 458.2 502.7 458.2 503.9 458.2 505.2 458.2 506.4 458.3 507.7 458.3 508.9 458.3 510.2 458.3 511.4 458.3 512.6 458.4 513.9 458.4 515.1 458.4 516.4 458.4 517.6 458.4 518.9 458.5 520.1 458.5 521.4 458.5 522.6 458.5 523.9 458.6 525.1 458.6 526.3 458.6 527.6 458.6 528.8 458.6 530.1 458.7 531.3 458.7 532.6 458.7 533.8 458.7 535.1 458.7 536.3 458.8 537.6 458.8 538.8 458.8 540 458.8 541.3 458.9 542.5 458.9 543.8 458.9 545 458.9 546.3 458.9 547.5 459.0 548.8 459.0 550 459.0 551.2 459.0 552.5 459.0 553.7 459.1 555 459.1 556.2 459.1 557.5 459.1 558.7 459.2 560 459.2 561.2 459.2 562.5 459.2 563.7 459.2 564.9 459.3 566.2 459.3 567.4 459.3 568.7 459.3 569.9 459.3 571.2 459.4 572.4 459.4 573.7 459.4 574.9 459.4 576.2 459.5 577.4 459.5 578.6 459.5 579.9 459.5 581.1 459.5 582.4 459.6 583.6 459.6 584.9 459.6 586.1 459.6 587.4 459.6 588.6 459.7 589.9 459.7 591.1 459.7 592.3 459.7 593.6 459.8 594.8 459.8 596.1 459.8 597.3 459.8 598.6 459.8 599.8 459.9 601.1 459.9 602.3 459.9 603.6 459.9 604.8 459.9 606 460.0 607.3 460.0 608.5 460.0 609.8 460.0 611 460.1 612.3 460.1 613.5 460.1 614.8 460.1 616 460.1 617.3 460.2 618.5 460.2 619.7 460.2 621 460.2 622.2 460.2 623.5 460.3 624.7 460.3 626 460.3 627.2 460.3 628.5 460.4 629.7 460.4 630.9 460.4 632.2 460.4 633.4 460.4 634.7 460.5 635.9 460.5 637.2 460.5 638.4 460.5 639.7 460.5 640.9 460.6 642.2 460.6 643.4 460.6 644.6 460.6 645.9 460.7 647.1 460.7 648.4 460.7 649.6 460.7 650.9 460.7 652.1 460.8 653.4 460.8 654.6 460.8 655.9 460.8 657.1 460.9 658.3 460.9 659.6 460.9 660.8 460.9 662.1 460.9 663.3 461.0 664.6 461.0 665.8 461.0 667.1 461.0 668.3 461.0 669.6 461.1 670.8 461.1" fill="none" stroke="#e85a4a" stroke-width="0.9" stroke-linejoin="round"/><path d="M497.7 457.0 499.2 456.8 500.6 456.7 502.1 456.5 503.5 456.2 505 455.9 506.4 455.6 507.9 455.3 509.3 454.9 510.8 454.6 512.2 454.2 513.7 453.8 515.2 453.5 516.6 453.1 518.1 452.8 519.5 452.4 521 451.9 522.4 451.5 523.9 451.1 525.3 450.6 526.8 450.2 528.2 449.7 529.7 449.3 531.2 448.9 532.6 448.6 534.1 448.3 535.5 448.0 537 447.8 538.4 447.7 539.9 447.5 541.3 447.4 542.8 447.3 544.2 447.2 545.7 447.1 547.2 447.0 548.6 446.9 550.1 446.8 551.5 446.6 553 446.4 554.4 446.1 555.9 445.8 557.3 445.4 558.8 445.0 560.2 444.6 561.7 443.9 563.2 443.0 564.6 442.0 566.1 441.1 567.5 440.2 569 439.6 570.4 439.3 571.9 439.5 573.3 440.2 574.8 441.1 576.2 442.4 577.7 443.7 579.2 445.0 580.6 446.2 582.1 447.2 583.5 448.3 585 449.3 586.4 450.2 587.9 450.9 589.3 451.7 590.8 452.3 592.3 452.9 593.7 453.3 595.2 453.4 596.6 453.2 598.1 452.6 599.5 451.8 601 450.7 602.4 449.5 603.9 448.2 605.3 447.0 606.8 445.8 608.3 444.7 609.7 443.8 611.2 442.7 612.6 441.7 614.1 440.7 615.5 439.8 617 438.9 618.4 438.2 619.9 437.7 621.3 437.3 622.8 436.9 624.3 436.5 625.7 436.2 627.2 435.8 628.6 435.3 630.1 434.8 631.5 434.3 633 433.7 634.4 433.1 635.9 432.3 637.3 431.4 638.8 429.9 640.3 427.8 641.7 425.4 643.2 423.2 644.6 421.2 646.1 419.0 647.5 417.2 649 416.4 650.4 417.4 651.9 419.8 653.3 422.9 654.8 426.1 656.3 430.0 657.7 434.5 659.2 439.0 660.6 443.0 662.1 446.4 663.5 449.8 665 452.8 666.4 455.3 667.9 457.0 669.3 458.4 670.8 459.6" fill="none" stroke="#444" stroke-width="0.8" stroke-linejoin="round" stroke-dasharray="0.9 1.1"/><path d="M497.7 518.8 498.3 520.5 498.9 519.4 499.4 520.0 500 521.0 500.6 518.8 501.2 520.8 501.8 520.1 502.3 520.8 502.9 517.7 503.5 517.9 504.1 515.8 504.6 519.4 505.2 518.4 505.8 519.7 506.4 518.9 507 518.6 507.5 521.0 508.1 519.0 508.7 518.2 509.3 516.9 509.9 519.5 510.4 519.1 511 516.6 511.6 517.6 512.2 518.0 512.8 515.6 513.3 517.1 513.9 518.7 514.5 515.3 515.1 517.7 515.6 519.3 516.2 516.2 516.8 516.2 517.4 516.9 518 517.1 518.5 515.9 519.1 512.3 519.7 514.8 520.3 515.6 520.9 514.8 521.4 516.2 522 513.2 522.6 513.7 523.2 516.0 523.8 513.4 524.3 511.9 524.9 512.7 525.5 512.1 526.1 512.8 526.6 511.2 527.2 510.8 527.8 510.4 528.4 509.9 529 511.8 529.5 512.2 530.1 509.4 530.7 509.9 531.3 509.4 531.9 508.0 532.4 507.8 533 507.6 533.6 505.7 534.2 507.0 534.8 508.3 535.3 508.8 535.9 507.4 536.5 507.1 537.1 508.4 537.6 510.1 538.2 506.6 538.8 506.8 539.4 507.2 540 508.5 540.5 506.9 541.1 508.5 541.7 507.2 542.3 508.8 542.9 507.9 543.4 507.8 544 509.4 544.6 507.1 545.2 507.6 545.8 509.5 546.3 509.6 546.9 509.0 547.5 506.2 548.1 509.7 548.6 509.3 549.2 508.5 549.8 505.9 550.4 509.9 551 510.9 551.5 509.4 552.1 507.8 552.7 507.8 553.3 508.7 553.9 507.1 554.4 506.8 555 507.2 555.6 506.0 556.2 506.0 556.8 506.6 557.3 506.8 557.9 506.7 558.5 507.0 559.1 504.4 559.6 506.8 560.2 504.1 560.8 506.1 561.4 505.7 562 502.5 562.5 504.4 563.1 505.6 563.7 504.4 564.3 502.7 564.9 502.1 565.4 502.7 566 502.0 566.6 502.4 567.2 499.7 567.8 501.9 568.3 501.0 568.9 499.5 569.5 499.2 570.1 499.9 570.6 501.1 571.2 499.9 571.8 502.3 572.4 499.8 573 501.8 573.5 501.4 574.1 503.5 574.7 503.8 575.3 504.1 575.9 503.4 576.4 504.4 577 505.3 577.6 507.9 578.2 506.5 578.8 508.5 579.3 509.6 579.9 507.6 580.5 509.6 581.1 508.4 581.6 511.6 582.2 513.9 582.8 512.8 583.4 515.3 584 516.6 584.5 516.9 585.1 516.6 585.7 517.9 586.3 517.1 586.9 517.6 587.4 520.9 588 517.4 588.6 517.1 589.2 518.0 589.7 518.0 590.3 516.0 590.9 516.4 591.5 515.7 592.1 515.5 592.6 517.2 593.2 517.2 593.8 514.6 594.4 514.2 595 514.6 595.5 512.9 596.1 513.0 596.7 514.2 597.3 511.0 597.9 512.4 598.4 512.2 599 509.5 599.6 511.6 600.2 509.8 600.7 508.6 601.3 509.8 601.9 508.3 602.5 507.4 603.1 506.5 603.6 505.6 604.2 505.3 604.8 505.1 605.4 505.6 606 503.8 606.5 503.8 607.1 502.3 607.7 502.7 608.3 501.3 608.9 501.4 609.4 500.6 610 497.7 610.6 499.0 611.2 498.1 611.7 499.3 612.3 497.8 612.9 498.4 613.5 497.9 614.1 495.6 614.6 496.2 615.2 494.9 615.8 495.0 616.4 500.3 617 496.7 617.5 494.4 618.1 494.2 618.7 495.9 619.3 495.3 619.9 491.7 620.4 493.5 621 495.5 621.6 494.9 622.2 495.9 622.7 495.2 623.3 496.6 623.9 493.0 624.5 495.9 625.1 494.1 625.6 493.9 626.2 496.1 626.8 492.5 627.4 494.6 628 494.2 628.5 495.9 629.1 492.6 629.7 494.7 630.3 494.7 630.9 494.0 631.4 494.0 632 493.6 632.6 491.9 633.2 492.8 633.7 491.0 634.3 494.2 634.9 494.0 635.5 491.0 636.1 493.9 636.6 492.0 637.2 490.1 637.8 490.6 638.4 491.5 639 490.0 639.5 487.9 640.1 489.0 640.7 486.9 641.3 485.4 641.9 483.5 642.4 484.6 643 482.3 643.6 481.1 644.2 481.3 644.7 480.7 645.3 480.5 645.9 478.3 646.5 481.4 647.1 478.8 647.6 478.2 648.2 477.3 648.8 480.0 649.4 478.1 650 475.6 650.5 479.4 651.1 478.8 651.7 478.3 652.3 480.4 652.9 480.4 653.4 483.4 654 483.2 654.6 483.1 655.2 487.1 655.7 488.9 656.3 486.6 656.9 493.7 657.5 495.9 658.1 497.6 658.6 503.3 659.2 504.6 659.8 506.5 660.4 510.2 661 511.2 661.5 513.3 662.1 511.2 662.7 514.6 663.3 519.4 663.9 517.7 664.4 517.1 665 519.4 665.6 519.4 666.2 521.4 666.7 521.9 667.3 520.1 667.9 521.6 668.5 521.3 669.1 521.6 669.6 521.9 670.2 524.7 670.8 524.9" fill="none" stroke="#b078f0" stroke-width="1.5" stroke-linejoin="round"/><path d="M497.7 521.6 498.9 521.5 500.2 521.3 501.4 521.1 502.7 520.9 503.9 520.7 505.2 520.4 506.4 520.1 507.7 519.8 508.9 519.5 510.2 519.1 511.4 518.8 512.6 518.3 513.9 517.9 515.1 517.4 516.4 517.0 517.6 516.5 518.9 515.9 520.1 515.4 521.4 514.9 522.6 514.3 523.9 513.8 525.1 513.2 526.3 512.7 527.6 512.2 528.8 511.7 530.1 511.2 531.3 510.8 532.6 510.4 533.8 510.0 535.1 509.7 536.3 509.5 537.6 509.3 538.8 509.2 540 509.2 541.3 509.2 542.5 509.3 543.8 509.5 545 509.7 546.3 510.0 547.5 510.4 548.8 510.8 550 511.2 551.2 511.7 552.5 512.3 553.7 512.8 555 513.4 556.2 513.9 557.5 514.5 558.7 515.1 560 515.7 561.2 516.3 562.5 516.8 563.7 517.4 564.9 517.9 566.2 518.4 567.4 518.9 568.7 519.4 569.9 519.8 571.2 520.2 572.4 520.6 573.7 521.0 574.9 521.3 576.2 521.6 577.4 521.9 578.6 522.2 579.9 522.4 581.1 522.6 582.4 522.8 583.6 523.0 584.9 523.1 586.1 523.3 587.4 523.4 588.6 523.5 589.9 523.6 591.1 523.7 592.3 523.8 593.6 523.9 594.8 524.0 596.1 524.0 597.3 524.1 598.6 524.2 599.8 524.2 601.1 524.2 602.3 524.3 603.6 524.3 604.8 524.4 606 524.4 607.3 524.4 608.5 524.5 609.8 524.5 611 524.5 612.3 524.6 613.5 524.6 614.8 524.6 616 524.6 617.3 524.7 618.5 524.7 619.7 524.7 621 524.7 622.2 524.8 623.5 524.8 624.7 524.8 626 524.8 627.2 524.9 628.5 524.9 629.7 524.9 630.9 524.9 632.2 525.0 633.4 525.0 634.7 525.0 635.9 525.0 637.2 525.0 638.4 525.1 639.7 525.1 640.9 525.1 642.2 525.1 643.4 525.2 644.6 525.2 645.9 525.2 647.1 525.2 648.4 525.2 649.6 525.3 650.9 525.3 652.1 525.3 653.4 525.3 654.6 525.3 655.9 525.4 657.1 525.4 658.3 525.4 659.6 525.4 660.8 525.4 662.1 525.5 663.3 525.5 664.6 525.5 665.8 525.5 667.1 525.5 668.3 525.6 669.6 525.6 670.8 525.6" fill="none" stroke="#f09a68" stroke-width="1" stroke-linejoin="round"/><path d="M497.7 523.0 498.9 523.0 500.2 523.0 501.4 523.1 502.7 523.1 503.9 523.1 505.2 523.1 506.4 523.1 507.7 523.1 508.9 523.2 510.2 523.2 511.4 523.2 512.6 523.2 513.9 523.2 515.1 523.2 516.4 523.2 517.6 523.3 518.9 523.3 520.1 523.3 521.4 523.3 522.6 523.3 523.9 523.3 525.1 523.4 526.3 523.4 527.6 523.4 528.8 523.4 530.1 523.4 531.3 523.4 532.6 523.4 533.8 523.4 535.1 523.5 536.3 523.5 537.6 523.5 538.8 523.5 540 523.5 541.3 523.5 542.5 523.5 543.8 523.5 545 523.6 546.3 523.6 547.5 523.6 548.8 523.6 550 523.6 551.2 523.6 552.5 523.6 553.7 523.6 555 523.6 556.2 523.6 557.5 523.6 558.7 523.6 560 523.6 561.2 523.6 562.5 523.6 563.7 523.6 564.9 523.6 566.2 523.6 567.4 523.6 568.7 523.5 569.9 523.5 571.2 523.4 572.4 523.4 573.7 523.3 574.9 523.2 576.2 523.1 577.4 522.9 578.6 522.8 579.9 522.6 581.1 522.3 582.4 522.1 583.6 521.8 584.9 521.4 586.1 521.0 587.4 520.5 588.6 520.0 589.9 519.4 591.1 518.7 592.3 518.0 593.6 517.2 594.8 516.4 596.1 515.5 597.3 514.5 598.6 513.5 599.8 512.5 601.1 511.4 602.3 510.4 603.6 509.3 604.8 508.2 606 507.2 607.3 506.2 608.5 505.3 609.8 504.5 611 503.8 612.3 503.3 613.5 502.9 614.8 502.6 616 502.5 617.3 502.6 618.5 502.8 619.7 503.2 621 503.8 622.2 504.5 623.5 505.3 624.7 506.2 626 507.2 627.2 508.2 628.5 509.3 629.7 510.4 630.9 511.5 632.2 512.6 633.4 513.7 634.7 514.8 635.9 515.8 637.2 516.7 638.4 517.6 639.7 518.5 640.9 519.3 642.2 520.0 643.4 520.6 644.6 521.2 645.9 521.7 647.1 522.2 648.4 522.6 649.6 523.0 650.9 523.3 652.1 523.6 653.4 523.8 654.6 524.0 655.9 524.2 657.1 524.4 658.3 524.5 659.6 524.6 660.8 524.7 662.1 524.8 663.3 524.9 664.6 525.0 665.8 525.1 667.1 525.1 668.3 525.2 669.6 525.2 670.8 525.3" fill="none" stroke="#f09a68" stroke-width="1" stroke-linejoin="round"/><path d="M497.7 523.1 498.9 523.1 500.2 523.1 501.4 523.1 502.7 523.1 503.9 523.2 505.2 523.2 506.4 523.2 507.7 523.2 508.9 523.2 510.2 523.3 511.4 523.3 512.6 523.3 513.9 523.3 515.1 523.3 516.4 523.3 517.6 523.4 518.9 523.4 520.1 523.4 521.4 523.4 522.6 523.4 523.9 523.4 525.1 523.5 526.3 523.5 527.6 523.5 528.8 523.5 530.1 523.5 531.3 523.6 532.6 523.6 533.8 523.6 535.1 523.6 536.3 523.6 537.6 523.6 538.8 523.7 540 523.7 541.3 523.7 542.5 523.7 543.8 523.7 545 523.7 546.3 523.8 547.5 523.8 548.8 523.8 550 523.8 551.2 523.8 552.5 523.8 553.7 523.9 555 523.9 556.2 523.9 557.5 523.9 558.7 523.9 560 523.9 561.2 524.0 562.5 524.0 563.7 524.0 564.9 524.0 566.2 524.0 567.4 524.0 568.7 524.0 569.9 524.1 571.2 524.1 572.4 524.1 573.7 524.1 574.9 524.1 576.2 524.1 577.4 524.1 578.6 524.1 579.9 524.2 581.1 524.2 582.4 524.2 583.6 524.2 584.9 524.2 586.1 524.2 587.4 524.2 588.6 524.2 589.9 524.2 591.1 524.2 592.3 524.2 593.6 524.2 594.8 524.2 596.1 524.2 597.3 524.2 598.6 524.2 599.8 524.2 601.1 524.2 602.3 524.2 603.6 524.1 604.8 524.1 606 524.0 607.3 523.9 608.5 523.8 609.8 523.6 611 523.4 612.3 523.1 613.5 522.7 614.8 522.3 616 521.7 617.3 521.1 618.5 520.3 619.7 519.4 621 518.4 622.2 517.3 623.5 516.0 624.7 514.7 626 513.3 627.2 511.9 628.5 510.5 629.7 509.2 630.9 507.9 632.2 506.9 633.4 506.0 634.7 505.4 635.9 505.1 637.2 505.2 638.4 505.5 639.7 506.2 640.9 507.1 642.2 508.2 643.4 509.5 644.6 510.9 645.9 512.3 647.1 513.8 648.4 515.2 649.6 516.5 650.9 517.8 652.1 519.0 653.4 520.0 654.6 520.9 655.9 521.7 657.1 522.4 658.3 523.0 659.6 523.4 660.8 523.8 662.1 524.1 663.3 524.4 664.6 524.6 665.8 524.8 667.1 524.9 668.3 525.0 669.6 525.1 670.8 525.2" fill="none" stroke="#5ec0ec" stroke-width="1" stroke-linejoin="round"/><path d="M497.7 523.0 498.9 523.0 500.2 523.1 501.4 523.1 502.7 523.1 503.9 523.1 505.2 523.1 506.4 523.1 507.7 523.1 508.9 523.2 510.2 523.2 511.4 523.2 512.6 523.2 513.9 523.2 515.1 523.2 516.4 523.2 517.6 523.2 518.9 523.3 520.1 523.3 521.4 523.3 522.6 523.3 523.9 523.3 525.1 523.3 526.3 523.3 527.6 523.3 528.8 523.3 530.1 523.3 531.3 523.3 532.6 523.3 533.8 523.3 535.1 523.3 536.3 523.3 537.6 523.3 538.8 523.3 540 523.3 541.3 523.3 542.5 523.2 543.8 523.2 545 523.1 546.3 523.0 547.5 522.9 548.8 522.8 550 522.6 551.2 522.2 552.5 521.8 553.7 521.3 555 520.5 556.2 519.6 557.5 518.4 558.7 517.1 560 515.5 561.2 513.7 562.5 511.8 563.7 509.9 564.9 508.1 566.2 506.5 567.4 505.4 568.7 504.8 569.9 504.8 571.2 505.5 572.4 506.7 573.7 508.3 574.9 510.1 576.2 512.1 577.4 514.0 578.6 515.8 579.9 517.4 581.1 518.8 582.4 520.0 583.6 521.0 584.9 521.7 586.1 522.3 587.4 522.8 588.6 523.1 589.9 523.4 591.1 523.6 592.3 523.7 593.6 523.8 594.8 523.9 596.1 524.0 597.3 524.1 598.6 524.2 599.8 524.2 601.1 524.3 602.3 524.3 603.6 524.3 604.8 524.4 606 524.4 607.3 524.5 608.5 524.5 609.8 524.5 611 524.6 612.3 524.6 613.5 524.6 614.8 524.7 616 524.7 617.3 524.7 618.5 524.7 619.7 524.8 621 524.8 622.2 524.8 623.5 524.8 624.7 524.9 626 524.9 627.2 524.9 628.5 524.9 629.7 525.0 630.9 525.0 632.2 525.0 633.4 525.0 634.7 525.1 635.9 525.1 637.2 525.1 638.4 525.1 639.7 525.1 640.9 525.2 642.2 525.2 643.4 525.2 644.6 525.2 645.9 525.2 647.1 525.3 648.4 525.3 649.6 525.3 650.9 525.3 652.1 525.3 653.4 525.4 654.6 525.4 655.9 525.4 657.1 525.4 658.3 525.4 659.6 525.5 660.8 525.5 662.1 525.5 663.3 525.5 664.6 525.5 665.8 525.6 667.1 525.6 668.3 525.6 669.6 525.6 670.8 525.6" fill="none" stroke="#e83848" stroke-width="1" stroke-linejoin="round"/><path d="M497.7 523.1 498.9 523.1 500.2 523.1 501.4 523.1 502.7 523.1 503.9 523.2 505.2 523.2 506.4 523.2 507.7 523.2 508.9 523.2 510.2 523.3 511.4 523.3 512.6 523.3 513.9 523.3 515.1 523.3 516.4 523.3 517.6 523.4 518.9 523.4 520.1 523.4 521.4 523.4 522.6 523.4 523.9 523.5 525.1 523.5 526.3 523.5 527.6 523.5 528.8 523.5 530.1 523.5 531.3 523.6 532.6 523.6 533.8 523.6 535.1 523.6 536.3 523.6 537.6 523.6 538.8 523.7 540 523.7 541.3 523.7 542.5 523.7 543.8 523.7 545 523.8 546.3 523.8 547.5 523.8 548.8 523.8 550 523.8 551.2 523.8 552.5 523.9 553.7 523.9 555 523.9 556.2 523.9 557.5 523.9 558.7 523.9 560 524.0 561.2 524.0 562.5 524.0 563.7 524.0 564.9 524.0 566.2 524.0 567.4 524.1 568.7 524.1 569.9 524.1 571.2 524.1 572.4 524.1 573.7 524.1 574.9 524.1 576.2 524.2 577.4 524.2 578.6 524.2 579.9 524.2 581.1 524.2 582.4 524.2 583.6 524.2 584.9 524.3 586.1 524.3 587.4 524.3 588.6 524.3 589.9 524.3 591.1 524.3 592.3 524.3 593.6 524.3 594.8 524.3 596.1 524.4 597.3 524.4 598.6 524.4 599.8 524.4 601.1 524.4 602.3 524.4 603.6 524.4 604.8 524.4 606 524.4 607.3 524.4 608.5 524.4 609.8 524.4 611 524.4 612.3 524.4 613.5 524.4 614.8 524.4 616 524.3 617.3 524.3 618.5 524.3 619.7 524.3 621 524.2 622.2 524.2 623.5 524.1 624.7 524.0 626 523.9 627.2 523.8 628.5 523.6 629.7 523.4 630.9 523.0 632.2 522.5 633.4 521.8 634.7 520.8 635.9 519.4 637.2 517.5 638.4 515.1 639.7 512.2 640.9 508.8 642.2 505.0 643.4 501.0 644.6 497.0 645.9 493.4 647.1 490.7 648.4 489.2 649.6 489.2 650.9 490.7 652.1 493.5 653.4 497.2 654.6 501.2 655.9 505.3 657.1 509.1 658.3 512.6 659.6 515.5 660.8 517.9 662.1 519.8 663.3 521.2 664.6 522.3 665.8 523.0 667.1 523.6 668.3 524.0 669.6 524.2 670.8 524.5" fill="none" stroke="#4048ea" stroke-width="1" stroke-linejoin="round"/><path d="M497.7 523.1 498.9 523.1 500.2 523.1 501.4 523.2 502.7 523.2 503.9 523.2 505.2 523.2 506.4 523.2 507.7 523.3 508.9 523.3 510.2 523.3 511.4 523.3 512.6 523.3 513.9 523.3 515.1 523.4 516.4 523.4 517.6 523.4 518.9 523.4 520.1 523.4 521.4 523.5 522.6 523.5 523.9 523.5 525.1 523.5 526.3 523.5 527.6 523.5 528.8 523.6 530.1 523.6 531.3 523.6 532.6 523.6 533.8 523.6 535.1 523.7 536.3 523.7 537.6 523.7 538.8 523.7 540 523.7 541.3 523.8 542.5 523.8 543.8 523.8 545 523.8 546.3 523.8 547.5 523.8 548.8 523.9 550 523.9 551.2 523.9 552.5 523.9 553.7 523.9 555 524.0 556.2 524.0 557.5 524.0 558.7 524.0 560 524.0 561.2 524.1 562.5 524.1 563.7 524.1 564.9 524.1 566.2 524.1 567.4 524.1 568.7 524.2 569.9 524.2 571.2 524.2 572.4 524.2 573.7 524.2 574.9 524.3 576.2 524.3 577.4 524.3 578.6 524.3 579.9 524.3 581.1 524.3 582.4 524.4 583.6 524.4 584.9 524.4 586.1 524.4 587.4 524.4 588.6 524.5 589.9 524.5 591.1 524.5 592.3 524.5 593.6 524.5 594.8 524.6 596.1 524.6 597.3 524.6 598.6 524.6 599.8 524.6 601.1 524.6 602.3 524.7 603.6 524.7 604.8 524.7 606 524.7 607.3 524.7 608.5 524.8 609.8 524.8 611 524.8 612.3 524.8 613.5 524.8 614.8 524.9 616 524.9 617.3 524.9 618.5 524.9 619.7 524.9 621 524.9 622.2 525.0 623.5 525.0 624.7 525.0 626 525.0 627.2 525.0 628.5 525.1 629.7 525.1 630.9 525.1 632.2 525.1 633.4 525.1 634.7 525.1 635.9 525.2 637.2 525.2 638.4 525.2 639.7 525.2 640.9 525.2 642.2 525.3 643.4 525.3 644.6 525.3 645.9 525.3 647.1 525.3 648.4 525.4 649.6 525.4 650.9 525.4 652.1 525.4 653.4 525.4 654.6 525.4 655.9 525.5 657.1 525.5 658.3 525.5 659.6 525.5 660.8 525.5 662.1 525.6 663.3 525.6 664.6 525.6 665.8 525.6 667.1 525.6 668.3 525.7 669.6 525.7 670.8 525.7" fill="none" stroke="#e85a4a" stroke-width="0.9" stroke-linejoin="round"/><path d="M497.7 519.7 499.2 519.5 500.6 519.3 502.1 519.1 503.5 518.9 505 518.7 506.4 518.5 507.9 518.3 509.3 518.1 510.8 517.9 512.2 517.7 513.7 517.4 515.2 517.1 516.6 516.8 518.1 516.4 519.5 515.8 521 515.1 522.4 514.3 523.9 513.4 525.3 512.4 526.8 511.5 528.2 510.6 529.7 509.7 531.2 509.0 532.6 508.4 534.1 507.9 535.5 507.6 537 507.6 538.4 507.7 539.9 507.8 541.3 508.0 542.8 508.2 544.2 508.4 545.7 508.6 547.2 508.8 548.6 508.9 550.1 508.9 551.5 508.8 553 508.5 554.4 508.2 555.9 507.8 557.3 507.3 558.8 506.8 560.2 506.2 561.7 505.4 563.2 504.3 564.6 503.0 566.1 501.8 567.5 500.9 569 500.4 570.4 500.6 571.9 501.3 573.3 502.4 574.8 503.8 576.2 505.3 577.7 506.8 579.2 508.3 580.6 510.4 582.1 512.8 583.5 515.1 585 517.0 586.4 518.0 587.9 518.0 589.3 517.7 590.8 517.3 592.3 516.6 593.7 515.6 595.2 514.4 596.6 513.1 598.1 511.7 599.5 510.4 601 509.0 602.4 507.8 603.9 506.3 605.3 504.8 606.8 503.1 608.3 501.5 609.7 500.0 611.2 498.7 612.6 497.6 614.1 496.8 615.5 496.4 617 496.1 618.4 495.8 619.9 495.6 621.3 495.5 622.8 495.3 624.3 495.2 625.7 495.0 627.2 494.8 628.6 494.5 630.1 494.2 631.5 493.9 633 493.5 634.4 493.1 635.9 492.5 637.3 491.8 638.8 490.3 640.3 487.9 641.7 485.3 643.2 482.9 644.6 481.2 646.1 479.4 647.5 478.1 649 477.5 650.4 478.1 651.9 479.9 653.3 482.4 654.8 485.5 656.3 489.3 657.7 496.3 659.2 504.4 660.6 510.5 662.1 513.9 663.5 516.7 665 519.0 666.4 520.7 667.9 521.8 669.3 522.8 670.8 523.6" fill="none" stroke="#444" stroke-width="0.8" stroke-linejoin="round" stroke-dasharray="0.9 1.1"/></g><rect x="497.7" y="398.9" width="173.1" height="138.1" fill="none" stroke="#3a3a3a" stroke-width="1"/><line x1="497.5" y1="537" x2="497.5" y2="540" stroke="#3a3a3a" stroke-width="1"/><text x="497.5" y="549" font-size="10" text-anchor="middle" fill="#1a1a1a" stroke="#1a1a1a" stroke-width="0.1">810</text><line x1="522.33" y1="537" x2="522.33" y2="540" stroke="#3a3a3a" stroke-width="1"/><text x="522.33" y="549" font-size="10" text-anchor="middle" fill="#1a1a1a" stroke="#1a1a1a" stroke-width="0.1">805</text><line x1="547.16" y1="537" x2="547.16" y2="540" stroke="#3a3a3a" stroke-width="1"/><text x="547.16" y="549" font-size="10" text-anchor="middle" fill="#1a1a1a" stroke="#1a1a1a" stroke-width="0.1">800</text><line x1="571.99" y1="537" x2="571.99" y2="540" stroke="#3a3a3a" stroke-width="1"/><text x="571.99" y="549" font-size="10" text-anchor="middle" fill="#1a1a1a" stroke="#1a1a1a" stroke-width="0.1">795</text><line x1="596.82" y1="537" x2="596.82" y2="540" stroke="#3a3a3a" stroke-width="1"/><text x="596.82" y="549" font-size="10" text-anchor="middle" fill="#1a1a1a" stroke="#1a1a1a" stroke-width="0.1">790</text><line x1="621.65" y1="537" x2="621.65" y2="540" stroke="#3a3a3a" stroke-width="1"/><text x="621.65" y="549" font-size="10" text-anchor="middle" fill="#1a1a1a" stroke="#1a1a1a" stroke-width="0.1">785</text><line x1="646.48" y1="537" x2="646.48" y2="540" stroke="#3a3a3a" stroke-width="1"/><text x="646.48" y="549" font-size="10" text-anchor="middle" fill="#1a1a1a" stroke="#1a1a1a" stroke-width="0.1">780</text><line x1="671.31" y1="537" x2="671.31" y2="540" stroke="#3a3a3a" stroke-width="1"/><text x="671.31" y="549" font-size="10" text-anchor="middle" fill="#1a1a1a" stroke="#1a1a1a" stroke-width="0.1">775</text><line x1="509.915" y1="537" x2="509.915" y2="538.8" stroke="#3a3a3a" stroke-width="1"/><line x1="534.745" y1="537" x2="534.745" y2="538.8" stroke="#3a3a3a" stroke-width="1"/><line x1="559.575" y1="537" x2="559.575" y2="538.8" stroke="#3a3a3a" stroke-width="1"/><line x1="584.405" y1="537" x2="584.405" y2="538.8" stroke="#3a3a3a" stroke-width="1"/><line x1="609.235" y1="537" x2="609.235" y2="538.8" stroke="#3a3a3a" stroke-width="1"/><line x1="634.065" y1="537" x2="634.065" y2="538.8" stroke="#3a3a3a" stroke-width="1"/><line x1="658.895" y1="537" x2="658.895" y2="538.8" stroke="#3a3a3a" stroke-width="1"/><text font-size="10.5" text-anchor="middle" fill="#1a1a1a" transform="translate(584 559.4) scale(1.02 1)" stroke="#1a1a1a" stroke-width="0.1">Binding energy (eV)</text><text font-size="10.7" text-anchor="middle" fill="#1a1a1a" transform="translate(491.8 468.7) rotate(-90) scale(1.01 1)" stroke="#1a1a1a" stroke-width="0.1">Intensity (a.u.)</text><text x="464.3" y="400.4" font-size="21" text-anchor="start" fill="#1a1a1a" stroke="#000" stroke-width="0.15">h</text><text font-size="8.3" text-anchor="start" fill="#1a1a1a" transform="translate(499.9 409.6) scale(1.08 1)" stroke="#1a1a1a" stroke-width="0.1">CoO<tspan font-size="5.8" dy="2" font-style="italic">x</tspan><tspan dy="-2">-BCN-FeOOH</tspan></text><text x="499.6" y="446" font-size="8.8" text-anchor="start" fill="#1a1a1a" stroke="#1a1a1a" stroke-width="0.1">dark</text><text font-size="8.8" text-anchor="start" fill="#1a1a1a" transform="translate(499 512.3) scale(1.03 1)" stroke="#1a1a1a" stroke-width="0.1">light</text><text x="559.8" y="427.6" font-size="8.9" text-anchor="start" fill="#1a1a1a" stroke="#1a1a1a" stroke-width="0.1">Co 2<tspan font-style="italic">p</tspan><tspan font-size="6" dy="2.2">1/2</tspan></text><text x="633.6" y="411.3" font-size="8.9" text-anchor="start" fill="#1a1a1a" stroke="#1a1a1a" stroke-width="0.1">Co 2<tspan font-style="italic">p</tspan><tspan font-size="6" dy="2.2">3/2</tspan></text><text x="610.8" y="419" font-size="8.1" text-anchor="start" fill="#5058ea" stroke="#5058ea" stroke-width="0.1">Co (III)</text><text x="596" y="429.8" font-size="8" text-anchor="start" fill="#62c4ec" stroke="#62c4ec" stroke-width="0.1">Co(II)</text><text x="625.8" y="475.5" font-size="8" text-anchor="start" fill="#62c4ec" stroke="#62c4ec" stroke-width="0.1">Co(II)</text><text font-size="8.3" text-anchor="start" fill="#1a1a1a" transform="translate(605.8 487.3) scale(1.05 1)" stroke="#1a1a1a" stroke-width="0.1">0.24 eV</text><line x1="628.2" y1="439.9" x2="616.4" y2="428.8" stroke="#222" stroke-width="0.8" marker-end="url(#ah2)"/><line x1="642.8" y1="436.1" x2="627.2" y2="421.2" stroke="#222" stroke-width="0.8" marker-end="url(#ah2)"/><line x1="631.9" y1="490.6" x2="608.6" y2="490.6" stroke="#222" stroke-width="0.9" marker-end="url(#ah2)"/><line x1="636.7" y1="432.4" x2="636.7" y2="458.7" stroke="#333" stroke-width="0.9" stroke-dasharray="1 1"/><line x1="636.5" y1="480.1" x2="636.5" y2="508.4" stroke="#333" stroke-width="0.9" stroke-dasharray="1 1"/></svg></body></html>
